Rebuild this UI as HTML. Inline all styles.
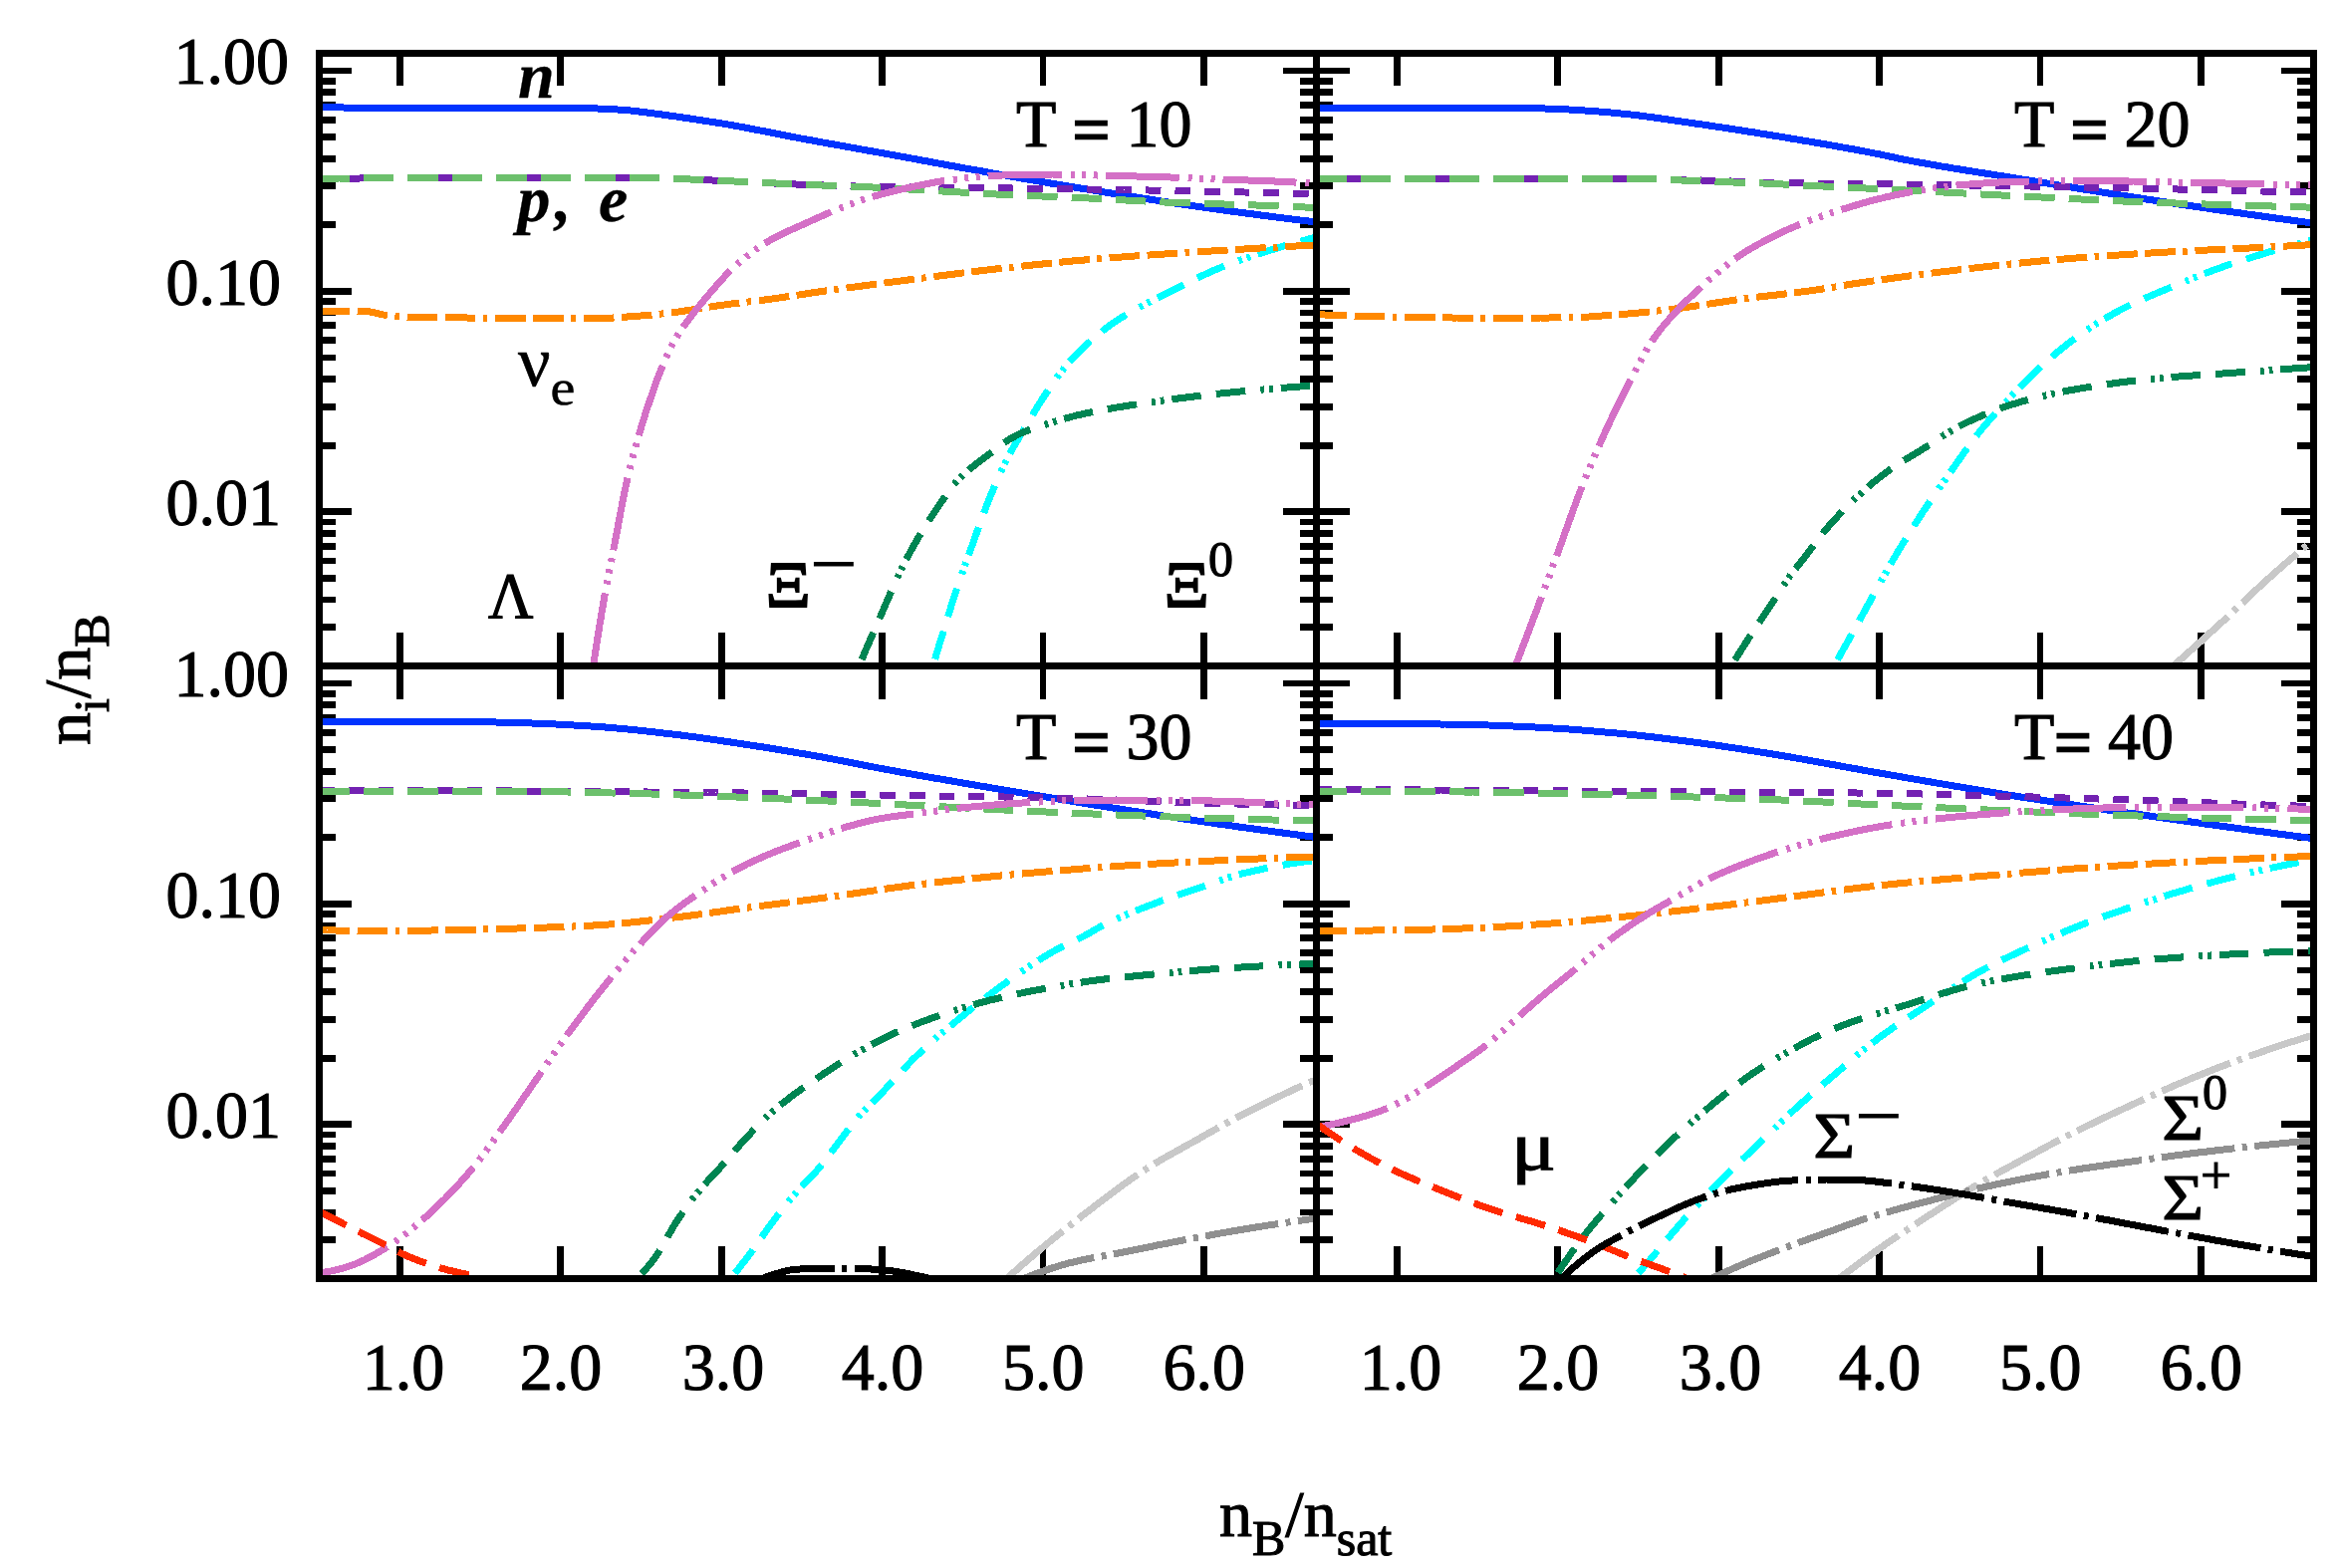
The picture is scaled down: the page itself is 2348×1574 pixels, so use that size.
<!DOCTYPE html>
<html lang="en"><head><meta charset="utf-8"><title>Particle fractions</title>
<style>html,body{margin:0;padding:0;background:#fff}svg{display:block}text{font-family:"Liberation Serif","DejaVu Serif",serif;fill:#000;stroke:#000;stroke-width:1.1px}.t{font-size:66px}.s{font-size:50px}.bi{font-style:italic;font-weight:bold;stroke-width:0.3px}</style></head><body>
<svg width="2348" height="1574" viewBox="0 0 2348 1574">
<rect width="2348" height="1574" fill="#fff"/>
<defs>
<clipPath id="c0"><rect x="320.5" y="53.5" width="1001.0" height="615.0"/></clipPath>
<clipPath id="c1"><rect x="1321.5" y="53.5" width="1001.0" height="615.0"/></clipPath>
<clipPath id="c2"><rect x="320.5" y="668.5" width="1001.0" height="615.0"/></clipPath>
<clipPath id="c3"><rect x="1321.5" y="668.5" width="1001.0" height="615.0"/></clipPath>
</defs>
<g fill="#000" shape-rendering="crispEdges">
<rect x="397.8" y="53.5" width="6.8" height="32.4"/>
<rect x="397.8" y="635.0" width="6.8" height="67.0"/>
<rect x="397.8" y="1251.1" width="6.8" height="32.4"/>
<rect x="559.3" y="53.5" width="6.8" height="32.4"/>
<rect x="559.3" y="635.0" width="6.8" height="67.0"/>
<rect x="559.3" y="1251.1" width="6.8" height="32.4"/>
<rect x="720.7" y="53.5" width="6.8" height="32.4"/>
<rect x="720.7" y="635.0" width="6.8" height="67.0"/>
<rect x="720.7" y="1251.1" width="6.8" height="32.4"/>
<rect x="882.2" y="53.5" width="6.8" height="32.4"/>
<rect x="882.2" y="635.0" width="6.8" height="67.0"/>
<rect x="882.2" y="1251.1" width="6.8" height="32.4"/>
<rect x="1043.6" y="53.5" width="6.8" height="32.4"/>
<rect x="1043.6" y="635.0" width="6.8" height="67.0"/>
<rect x="1043.6" y="1251.1" width="6.8" height="32.4"/>
<rect x="1205.1" y="53.5" width="6.8" height="32.4"/>
<rect x="1205.1" y="635.0" width="6.8" height="67.0"/>
<rect x="1205.1" y="1251.1" width="6.8" height="32.4"/>
<rect x="1398.8" y="53.5" width="6.8" height="32.4"/>
<rect x="1398.8" y="635.0" width="6.8" height="67.0"/>
<rect x="1398.8" y="1251.1" width="6.8" height="32.4"/>
<rect x="1560.3" y="53.5" width="6.8" height="32.4"/>
<rect x="1560.3" y="635.0" width="6.8" height="67.0"/>
<rect x="1560.3" y="1251.1" width="6.8" height="32.4"/>
<rect x="1721.7" y="53.5" width="6.8" height="32.4"/>
<rect x="1721.7" y="635.0" width="6.8" height="67.0"/>
<rect x="1721.7" y="1251.1" width="6.8" height="32.4"/>
<rect x="1883.2" y="53.5" width="6.8" height="32.4"/>
<rect x="1883.2" y="635.0" width="6.8" height="67.0"/>
<rect x="1883.2" y="1251.1" width="6.8" height="32.4"/>
<rect x="2044.6" y="53.5" width="6.8" height="32.4"/>
<rect x="2044.6" y="635.0" width="6.8" height="67.0"/>
<rect x="2044.6" y="1251.1" width="6.8" height="32.4"/>
<rect x="2206.1" y="53.5" width="6.8" height="32.4"/>
<rect x="2206.1" y="635.0" width="6.8" height="67.0"/>
<rect x="2206.1" y="1251.1" width="6.8" height="32.4"/>
<rect x="320.5" y="67.6" width="32.5" height="6.8"/>
<rect x="1287.8" y="67.6" width="67.5" height="6.8"/>
<rect x="2290.0" y="67.6" width="32.5" height="6.8"/>
<rect x="320.5" y="289.0" width="32.5" height="6.8"/>
<rect x="1287.8" y="289.0" width="67.5" height="6.8"/>
<rect x="2290.0" y="289.0" width="32.5" height="6.8"/>
<rect x="320.5" y="222.4" width="16.5" height="6.8"/>
<rect x="1305.1" y="222.4" width="32.8" height="6.8"/>
<rect x="2306.0" y="222.4" width="16.5" height="6.8"/>
<rect x="320.5" y="183.4" width="16.5" height="6.8"/>
<rect x="1305.1" y="183.4" width="32.8" height="6.8"/>
<rect x="2306.0" y="183.4" width="16.5" height="6.8"/>
<rect x="320.5" y="155.7" width="16.5" height="6.8"/>
<rect x="1305.1" y="155.7" width="32.8" height="6.8"/>
<rect x="2306.0" y="155.7" width="16.5" height="6.8"/>
<rect x="320.5" y="134.3" width="16.5" height="6.8"/>
<rect x="1305.1" y="134.3" width="32.8" height="6.8"/>
<rect x="2306.0" y="134.3" width="16.5" height="6.8"/>
<rect x="320.5" y="116.7" width="16.5" height="6.8"/>
<rect x="1305.1" y="116.7" width="32.8" height="6.8"/>
<rect x="2306.0" y="116.7" width="16.5" height="6.8"/>
<rect x="320.5" y="101.9" width="16.5" height="6.8"/>
<rect x="1305.1" y="101.9" width="32.8" height="6.8"/>
<rect x="2306.0" y="101.9" width="16.5" height="6.8"/>
<rect x="320.5" y="89.1" width="16.5" height="6.8"/>
<rect x="1305.1" y="89.1" width="32.8" height="6.8"/>
<rect x="2306.0" y="89.1" width="16.5" height="6.8"/>
<rect x="320.5" y="77.8" width="16.5" height="6.8"/>
<rect x="1305.1" y="77.8" width="32.8" height="6.8"/>
<rect x="2306.0" y="77.8" width="16.5" height="6.8"/>
<rect x="320.5" y="510.4" width="32.5" height="6.8"/>
<rect x="1287.8" y="510.4" width="67.5" height="6.8"/>
<rect x="2290.0" y="510.4" width="32.5" height="6.8"/>
<rect x="320.5" y="443.7" width="16.5" height="6.8"/>
<rect x="1305.1" y="443.7" width="32.8" height="6.8"/>
<rect x="2306.0" y="443.7" width="16.5" height="6.8"/>
<rect x="320.5" y="404.7" width="16.5" height="6.8"/>
<rect x="1305.1" y="404.7" width="32.8" height="6.8"/>
<rect x="2306.0" y="404.7" width="16.5" height="6.8"/>
<rect x="320.5" y="377.1" width="16.5" height="6.8"/>
<rect x="1305.1" y="377.1" width="32.8" height="6.8"/>
<rect x="2306.0" y="377.1" width="16.5" height="6.8"/>
<rect x="320.5" y="355.6" width="16.5" height="6.8"/>
<rect x="1305.1" y="355.6" width="32.8" height="6.8"/>
<rect x="2306.0" y="355.6" width="16.5" height="6.8"/>
<rect x="320.5" y="338.1" width="16.5" height="6.8"/>
<rect x="1305.1" y="338.1" width="32.8" height="6.8"/>
<rect x="2306.0" y="338.1" width="16.5" height="6.8"/>
<rect x="320.5" y="323.3" width="16.5" height="6.8"/>
<rect x="1305.1" y="323.3" width="32.8" height="6.8"/>
<rect x="2306.0" y="323.3" width="16.5" height="6.8"/>
<rect x="320.5" y="310.5" width="16.5" height="6.8"/>
<rect x="1305.1" y="310.5" width="32.8" height="6.8"/>
<rect x="2306.0" y="310.5" width="16.5" height="6.8"/>
<rect x="320.5" y="299.1" width="16.5" height="6.8"/>
<rect x="1305.1" y="299.1" width="32.8" height="6.8"/>
<rect x="2306.0" y="299.1" width="16.5" height="6.8"/>
<rect x="320.5" y="626.1" width="16.5" height="6.8"/>
<rect x="1305.1" y="626.1" width="32.8" height="6.8"/>
<rect x="2306.0" y="626.1" width="16.5" height="6.8"/>
<rect x="320.5" y="598.5" width="16.5" height="6.8"/>
<rect x="1305.1" y="598.5" width="32.8" height="6.8"/>
<rect x="2306.0" y="598.5" width="16.5" height="6.8"/>
<rect x="320.5" y="577.0" width="16.5" height="6.8"/>
<rect x="1305.1" y="577.0" width="32.8" height="6.8"/>
<rect x="2306.0" y="577.0" width="16.5" height="6.8"/>
<rect x="320.5" y="559.5" width="16.5" height="6.8"/>
<rect x="1305.1" y="559.5" width="32.8" height="6.8"/>
<rect x="2306.0" y="559.5" width="16.5" height="6.8"/>
<rect x="320.5" y="544.7" width="16.5" height="6.8"/>
<rect x="1305.1" y="544.7" width="32.8" height="6.8"/>
<rect x="2306.0" y="544.7" width="16.5" height="6.8"/>
<rect x="320.5" y="531.8" width="16.5" height="6.8"/>
<rect x="1305.1" y="531.8" width="32.8" height="6.8"/>
<rect x="2306.0" y="531.8" width="16.5" height="6.8"/>
<rect x="320.5" y="520.5" width="16.5" height="6.8"/>
<rect x="1305.1" y="520.5" width="32.8" height="6.8"/>
<rect x="2306.0" y="520.5" width="16.5" height="6.8"/>
<rect x="320.5" y="682.6" width="32.5" height="6.8"/>
<rect x="1287.8" y="682.6" width="67.5" height="6.8"/>
<rect x="2290.0" y="682.6" width="32.5" height="6.8"/>
<rect x="320.5" y="904.0" width="32.5" height="6.8"/>
<rect x="1287.8" y="904.0" width="67.5" height="6.8"/>
<rect x="2290.0" y="904.0" width="32.5" height="6.8"/>
<rect x="320.5" y="837.4" width="16.5" height="6.8"/>
<rect x="1305.1" y="837.4" width="32.8" height="6.8"/>
<rect x="2306.0" y="837.4" width="16.5" height="6.8"/>
<rect x="320.5" y="798.4" width="16.5" height="6.8"/>
<rect x="1305.1" y="798.4" width="32.8" height="6.8"/>
<rect x="2306.0" y="798.4" width="16.5" height="6.8"/>
<rect x="320.5" y="770.7" width="16.5" height="6.8"/>
<rect x="1305.1" y="770.7" width="32.8" height="6.8"/>
<rect x="2306.0" y="770.7" width="16.5" height="6.8"/>
<rect x="320.5" y="749.3" width="16.5" height="6.8"/>
<rect x="1305.1" y="749.3" width="32.8" height="6.8"/>
<rect x="2306.0" y="749.3" width="16.5" height="6.8"/>
<rect x="320.5" y="731.7" width="16.5" height="6.8"/>
<rect x="1305.1" y="731.7" width="32.8" height="6.8"/>
<rect x="2306.0" y="731.7" width="16.5" height="6.8"/>
<rect x="320.5" y="716.9" width="16.5" height="6.8"/>
<rect x="1305.1" y="716.9" width="32.8" height="6.8"/>
<rect x="2306.0" y="716.9" width="16.5" height="6.8"/>
<rect x="320.5" y="704.1" width="16.5" height="6.8"/>
<rect x="1305.1" y="704.1" width="32.8" height="6.8"/>
<rect x="2306.0" y="704.1" width="16.5" height="6.8"/>
<rect x="320.5" y="692.8" width="16.5" height="6.8"/>
<rect x="1305.1" y="692.8" width="32.8" height="6.8"/>
<rect x="2306.0" y="692.8" width="16.5" height="6.8"/>
<rect x="320.5" y="1125.4" width="32.5" height="6.8"/>
<rect x="1287.8" y="1125.4" width="67.5" height="6.8"/>
<rect x="2290.0" y="1125.4" width="32.5" height="6.8"/>
<rect x="320.5" y="1058.7" width="16.5" height="6.8"/>
<rect x="1305.1" y="1058.7" width="32.8" height="6.8"/>
<rect x="2306.0" y="1058.7" width="16.5" height="6.8"/>
<rect x="320.5" y="1019.7" width="16.5" height="6.8"/>
<rect x="1305.1" y="1019.7" width="32.8" height="6.8"/>
<rect x="2306.0" y="1019.7" width="16.5" height="6.8"/>
<rect x="320.5" y="992.1" width="16.5" height="6.8"/>
<rect x="1305.1" y="992.1" width="32.8" height="6.8"/>
<rect x="2306.0" y="992.1" width="16.5" height="6.8"/>
<rect x="320.5" y="970.6" width="16.5" height="6.8"/>
<rect x="1305.1" y="970.6" width="32.8" height="6.8"/>
<rect x="2306.0" y="970.6" width="16.5" height="6.8"/>
<rect x="320.5" y="953.1" width="16.5" height="6.8"/>
<rect x="1305.1" y="953.1" width="32.8" height="6.8"/>
<rect x="2306.0" y="953.1" width="16.5" height="6.8"/>
<rect x="320.5" y="938.3" width="16.5" height="6.8"/>
<rect x="1305.1" y="938.3" width="32.8" height="6.8"/>
<rect x="2306.0" y="938.3" width="16.5" height="6.8"/>
<rect x="320.5" y="925.5" width="16.5" height="6.8"/>
<rect x="1305.1" y="925.5" width="32.8" height="6.8"/>
<rect x="2306.0" y="925.5" width="16.5" height="6.8"/>
<rect x="320.5" y="914.1" width="16.5" height="6.8"/>
<rect x="1305.1" y="914.1" width="32.8" height="6.8"/>
<rect x="2306.0" y="914.1" width="16.5" height="6.8"/>
<rect x="320.5" y="1241.1" width="16.5" height="6.8"/>
<rect x="1305.1" y="1241.1" width="32.8" height="6.8"/>
<rect x="2306.0" y="1241.1" width="16.5" height="6.8"/>
<rect x="320.5" y="1213.5" width="16.5" height="6.8"/>
<rect x="1305.1" y="1213.5" width="32.8" height="6.8"/>
<rect x="2306.0" y="1213.5" width="16.5" height="6.8"/>
<rect x="320.5" y="1192.0" width="16.5" height="6.8"/>
<rect x="1305.1" y="1192.0" width="32.8" height="6.8"/>
<rect x="2306.0" y="1192.0" width="16.5" height="6.8"/>
<rect x="320.5" y="1174.5" width="16.5" height="6.8"/>
<rect x="1305.1" y="1174.5" width="32.8" height="6.8"/>
<rect x="2306.0" y="1174.5" width="16.5" height="6.8"/>
<rect x="320.5" y="1159.7" width="16.5" height="6.8"/>
<rect x="1305.1" y="1159.7" width="32.8" height="6.8"/>
<rect x="2306.0" y="1159.7" width="16.5" height="6.8"/>
<rect x="320.5" y="1146.8" width="16.5" height="6.8"/>
<rect x="1305.1" y="1146.8" width="32.8" height="6.8"/>
<rect x="2306.0" y="1146.8" width="16.5" height="6.8"/>
<rect x="320.5" y="1135.5" width="16.5" height="6.8"/>
<rect x="1305.1" y="1135.5" width="32.8" height="6.8"/>
<rect x="2306.0" y="1135.5" width="16.5" height="6.8"/>
</g>
<g clip-path="url(#c0)" fill="none" stroke-width="7" shape-rendering="crispEdges">
<path d="M320.5,107.0 L324.5,107.2 L328.5,107.4 L332.6,107.6 L336.6,107.7 L340.6,107.9 L344.6,108.0 L348.7,108.1 L352.7,108.1 L356.7,108.2 L360.7,108.2 L364.8,108.2 L368.8,108.2 L372.8,108.2 L376.8,108.2 L380.9,108.2 L384.9,108.2 L388.9,108.2 L392.9,108.2 L397.0,108.2 L401.0,108.2 L405.0,108.2 L409.0,108.2 L413.1,108.2 L417.1,108.2 L421.1,108.2 L425.1,108.2 L429.2,108.2 L433.2,108.2 L437.2,108.2 L441.2,108.2 L445.3,108.2 L449.3,108.2 L453.3,108.2 L457.3,108.2 L461.4,108.2 L465.4,108.2 L469.4,108.2 L473.4,108.2 L477.5,108.2 L481.5,108.2 L485.5,108.2 L489.5,108.2 L493.6,108.2 L497.6,108.2 L501.6,108.2 L505.6,108.2 L509.7,108.2 L513.7,108.2 L517.7,108.2 L521.7,108.2 L525.8,108.2 L529.8,108.2 L533.8,108.2 L537.8,108.2 L541.9,108.2 L545.9,108.2 L549.9,108.2 L553.9,108.2 L558.0,108.2 L562.0,108.2 L566.0,108.2 L570.0,108.3 L574.1,108.3 L578.1,108.4 L582.1,108.4 L586.1,108.5 L590.2,108.7 L594.2,108.8 L598.2,108.9 L602.2,109.1 L606.2,109.3 L610.3,109.5 L614.3,109.7 L618.3,109.9 L622.3,110.2 L626.3,110.4 L630.3,110.8 L634.4,111.1 L638.4,111.6 L642.3,112.1 L646.3,112.6 L650.3,113.1 L654.3,113.7 L658.3,114.2 L662.3,114.7 L666.3,115.3 L670.3,115.8 L674.3,116.4 L678.2,116.9 L682.2,117.5 L686.2,118.1 L690.2,118.7 L694.2,119.3 L698.2,119.9 L702.1,120.5 L706.1,121.1 L710.1,121.7 L714.1,122.3 L718.1,122.9 L722.0,123.5 L726.0,124.2 L730.0,124.8 L733.9,125.5 L737.9,126.3 L741.9,127.0 L745.8,127.7 L749.8,128.5 L753.7,129.2 L757.7,130.0 L761.6,130.7 L765.6,131.5 L769.5,132.2 L773.5,133.0 L777.4,133.8 L781.4,134.6 L785.3,135.4 L789.3,136.1 L793.2,136.9 L797.2,137.7 L801.1,138.4 L805.1,139.2 L809.1,139.9 L813.0,140.6 L817.0,141.3 L820.9,142.1 L824.9,142.8 L828.9,143.5 L832.8,144.2 L836.8,144.9 L840.7,145.6 L844.7,146.3 L848.7,147.0 L852.6,147.7 L856.6,148.5 L860.6,149.2 L864.5,149.9 L868.5,150.6 L872.4,151.3 L876.4,152.0 L880.4,152.7 L884.3,153.4 L888.3,154.1 L892.2,154.9 L896.2,155.6 L900.2,156.3 L904.1,157.0 L908.1,157.8 L912.0,158.5 L916.0,159.2 L920.0,159.9 L923.9,160.7 L927.9,161.4 L931.8,162.1 L935.8,162.9 L939.8,163.6 L943.7,164.3 L947.7,165.1 L951.6,165.8 L955.6,166.5 L959.5,167.2 L963.5,168.0 L967.5,168.7 L971.4,169.4 L975.4,170.1 L979.3,170.8 L983.3,171.5 L987.3,172.2 L991.2,173.0 L995.2,173.7 L999.2,174.4 L1003.1,175.0 L1007.1,175.7 L1011.1,176.4 L1015.0,177.1 L1019.0,177.8 L1022.9,178.5 L1026.9,179.2 L1030.9,179.9 L1034.8,180.6 L1038.8,181.3 L1042.8,181.9 L1046.7,182.6 L1050.7,183.3 L1054.7,184.0 L1058.7,184.6 L1062.6,185.3 L1066.6,186.0 L1070.6,186.6 L1074.5,187.3 L1078.5,188.0 L1082.5,188.6 L1086.4,189.3 L1090.4,189.9 L1094.4,190.6 L1098.4,191.2 L1102.3,191.9 L1106.3,192.5 L1110.3,193.2 L1114.3,193.8 L1118.2,194.4 L1122.2,195.1 L1126.2,195.7 L1130.2,196.4 L1134.1,197.0 L1138.1,197.6 L1142.1,198.2 L1146.1,198.9 L1150.0,199.5 L1154.0,200.1 L1158.0,200.7 L1162.0,201.3 L1165.9,202.0 L1169.9,202.6 L1173.9,203.2 L1177.9,203.8 L1181.9,204.4 L1185.8,204.9 L1189.8,205.5 L1193.8,206.1 L1197.8,206.7 L1201.8,207.3 L1205.8,207.8 L1209.7,208.4 L1213.7,208.9 L1217.7,209.5 L1221.7,210.1 L1225.7,210.6 L1229.7,211.2 L1233.7,211.7 L1237.7,212.3 L1241.6,212.8 L1245.6,213.3 L1249.6,213.9 L1253.6,214.4 L1257.6,214.9 L1261.6,215.5 L1265.6,216.0 L1269.6,216.5 L1273.6,217.0 L1277.6,217.6 L1281.5,218.1 L1285.5,218.6 L1289.5,219.1 L1293.5,219.6 L1297.5,220.1 L1301.5,220.6 L1305.5,221.1 L1309.5,221.6 L1313.5,222.0 L1317.5,222.5 L1321.5,223.0" stroke="#0033ff"/>
<path d="M320.5,180.0 L324.5,179.8 L328.5,179.5 L332.5,179.2 L336.6,179.1 L340.6,179.0 L344.6,179.0 L348.6,179.0 L352.6,179.0 L356.7,179.0 L360.7,179.0 L364.7,178.9 L368.7,178.9 L372.7,178.9 L376.7,178.9 L380.8,178.9 L384.8,178.9 L388.8,178.9 L392.8,178.9 L396.8,178.9 L400.9,178.9 L404.9,178.9 L408.9,178.9 L412.9,178.9 L417.0,178.9 L421.0,178.9 L425.0,178.9 L429.0,178.8 L433.0,178.8 L437.1,178.8 L441.1,178.8 L445.1,178.8 L449.1,178.8 L453.1,178.8 L457.2,178.8 L461.2,178.8 L465.2,178.8 L469.2,178.8 L473.3,178.8 L477.3,178.8 L481.3,178.8 L485.3,178.8 L489.3,178.8 L493.4,178.8 L497.4,178.8 L501.4,178.8 L505.4,178.8 L509.5,178.8 L513.5,178.8 L517.5,178.8 L521.5,178.8 L525.5,178.8 L529.6,178.8 L533.6,178.8 L537.6,178.8 L541.6,178.8 L545.7,178.8 L549.7,178.8 L553.7,178.8 L557.7,178.8 L561.7,178.8 L565.8,178.8 L569.8,178.8 L573.8,178.8 L577.8,178.8 L581.9,178.8 L585.9,178.8 L589.9,178.8 L593.9,178.8 L597.9,178.8 L602.0,178.8 L606.0,178.8 L610.0,178.8 L614.0,178.8 L618.0,178.8 L622.1,178.8 L626.1,178.8 L630.1,178.8 L634.1,178.8 L638.1,178.8 L642.2,178.8 L646.2,178.8 L650.2,178.8 L654.2,178.8 L658.2,178.8 L662.3,178.9 L666.3,179.0 L670.3,179.1 L674.3,179.2 L678.3,179.4 L682.4,179.5 L686.4,179.7 L690.4,179.9 L694.4,180.1 L698.4,180.3 L702.4,180.5 L706.5,180.6 L710.5,180.8 L714.5,181.0 L718.5,181.2 L722.5,181.4 L726.6,181.6 L730.6,181.7 L734.6,181.9 L738.6,182.1 L742.6,182.3 L746.6,182.5 L750.7,182.7 L754.7,182.9 L758.7,183.1 L762.7,183.3 L766.7,183.5 L770.7,183.7 L774.8,183.9 L778.8,184.1 L782.8,184.3 L786.8,184.5 L790.8,184.6 L794.8,184.8 L798.9,185.0 L802.9,185.1 L806.9,185.3 L810.9,185.4 L814.9,185.6 L818.9,185.7 L823.0,185.8 L827.0,186.0 L831.0,186.1 L835.0,186.3 L839.0,186.4 L843.1,186.5 L847.1,186.6 L851.1,186.7 L855.1,186.9 L859.1,187.0 L863.2,187.1 L867.2,187.1 L871.2,187.2 L875.2,187.3 L879.2,187.4 L883.3,187.4 L887.3,187.5 L891.3,187.6 L895.3,187.6 L899.3,187.7 L903.4,187.7 L907.4,187.8 L911.4,187.8 L915.4,187.9 L919.4,187.9 L923.5,188.0 L927.5,188.0 L931.5,188.0 L935.5,188.1 L939.6,188.1 L943.6,188.2 L947.6,188.2 L951.6,188.2 L955.6,188.3 L959.7,188.3 L963.7,188.4 L967.7,188.4 L971.7,188.4 L975.7,188.5 L979.8,188.5 L983.8,188.6 L987.8,188.6 L991.8,188.7 L995.8,188.7 L999.9,188.7 L1003.9,188.8 L1007.9,188.9 L1011.9,188.9 L1016.0,189.0 L1020.0,189.0 L1024.0,189.1 L1028.0,189.1 L1032.0,189.2 L1036.1,189.2 L1040.1,189.3 L1044.1,189.3 L1048.1,189.4 L1052.1,189.4 L1056.2,189.5 L1060.2,189.5 L1064.2,189.6 L1068.2,189.6 L1072.2,189.7 L1076.3,189.8 L1080.3,189.8 L1084.3,189.9 L1088.3,189.9 L1092.3,190.0 L1096.4,190.0 L1100.4,190.1 L1104.4,190.2 L1108.4,190.2 L1112.5,190.3 L1116.5,190.4 L1120.5,190.4 L1124.5,190.5 L1128.5,190.6 L1132.6,190.6 L1136.6,190.7 L1140.6,190.8 L1144.6,190.8 L1148.6,190.9 L1152.7,191.0 L1156.7,191.1 L1160.7,191.1 L1164.7,191.2 L1168.7,191.3 L1172.8,191.4 L1176.8,191.5 L1180.8,191.6 L1184.8,191.6 L1188.8,191.7 L1192.9,191.8 L1196.9,191.9 L1200.9,192.0 L1204.9,192.1 L1208.9,192.2 L1213.0,192.2 L1217.0,192.3 L1221.0,192.4 L1225.0,192.5 L1229.0,192.6 L1233.1,192.7 L1237.1,192.8 L1241.1,192.9 L1245.1,192.9 L1249.1,193.0 L1253.2,193.1 L1257.2,193.2 L1261.2,193.3 L1265.2,193.4 L1269.2,193.5 L1273.3,193.6 L1277.3,193.7 L1281.3,193.8 L1285.3,193.9 L1289.3,194.0 L1293.4,194.1 L1297.4,194.2 L1301.4,194.3 L1305.4,194.4 L1309.4,194.5 L1313.5,194.6 L1317.5,194.7 L1321.5,194.8" stroke="#7322b2" stroke-dasharray="15.6,14.03"/>
<path d="M320.5,180.0 L324.5,179.8 L328.5,179.5 L332.6,179.2 L336.6,179.1 L340.6,179.0 L344.6,179.0 L348.6,179.0 L352.6,179.0 L356.7,179.0 L360.7,179.0 L364.7,178.9 L368.7,178.9 L372.8,178.9 L376.8,178.9 L380.8,178.9 L384.8,178.9 L388.8,178.9 L392.9,178.9 L396.9,178.9 L400.9,178.9 L404.9,178.9 L408.9,178.9 L413.0,178.9 L417.0,178.9 L421.0,178.9 L425.0,178.9 L429.1,178.8 L433.1,178.8 L437.1,178.8 L441.1,178.8 L445.2,178.8 L449.2,178.8 L453.2,178.8 L457.2,178.8 L461.2,178.8 L465.3,178.8 L469.3,178.8 L473.3,178.8 L477.3,178.8 L481.4,178.8 L485.4,178.8 L489.4,178.8 L493.4,178.8 L497.5,178.8 L501.5,178.8 L505.5,178.8 L509.5,178.8 L513.6,178.8 L517.6,178.8 L521.6,178.8 L525.6,178.8 L529.7,178.8 L533.7,178.8 L537.7,178.8 L541.7,178.8 L545.8,178.8 L549.8,178.8 L553.8,178.8 L557.8,178.8 L561.9,178.8 L565.9,178.8 L569.9,178.8 L573.9,178.8 L577.9,178.8 L582.0,178.8 L586.0,178.8 L590.0,178.8 L594.0,178.8 L598.1,178.8 L602.1,178.8 L606.1,178.8 L610.1,178.8 L614.2,178.8 L618.2,178.8 L622.2,178.8 L626.2,178.8 L630.2,178.8 L634.3,178.8 L638.3,178.8 L642.3,178.8 L646.3,178.8 L650.4,178.8 L654.4,178.8 L658.4,178.8 L662.4,178.9 L666.4,179.0 L670.5,179.1 L674.5,179.2 L678.5,179.4 L682.5,179.5 L686.5,179.7 L690.6,179.9 L694.6,180.1 L698.6,180.3 L702.6,180.5 L706.6,180.7 L710.7,180.9 L714.7,181.0 L718.7,181.2 L722.7,181.4 L726.7,181.6 L730.8,181.7 L734.8,181.9 L738.8,182.1 L742.8,182.3 L746.8,182.5 L750.8,182.7 L754.9,182.9 L758.9,183.1 L762.9,183.3 L766.9,183.4 L770.9,183.6 L775.0,183.8 L779.0,184.0 L783.0,184.2 L787.0,184.4 L791.0,184.6 L795.0,184.8 L799.1,185.0 L803.1,185.1 L807.1,185.3 L811.1,185.5 L815.1,185.6 L819.2,185.8 L823.2,185.9 L827.2,186.1 L831.2,186.2 L835.2,186.4 L839.3,186.5 L843.3,186.7 L847.3,186.8 L851.3,187.0 L855.3,187.2 L859.4,187.3 L863.4,187.5 L867.4,187.7 L871.4,187.8 L875.4,188.0 L879.5,188.2 L883.5,188.4 L887.5,188.6 L891.5,188.9 L895.5,189.1 L899.5,189.3 L903.6,189.5 L907.6,189.8 L911.6,190.0 L915.6,190.2 L919.6,190.4 L923.6,190.7 L927.7,190.9 L931.7,191.1 L935.7,191.4 L939.7,191.6 L943.7,191.8 L947.7,192.1 L951.8,192.3 L955.8,192.6 L959.8,192.8 L963.8,193.0 L967.8,193.3 L971.8,193.5 L975.9,193.7 L979.9,193.9 L983.9,194.2 L987.9,194.4 L991.9,194.6 L995.9,194.8 L1000.0,195.0 L1004.0,195.2 L1008.0,195.4 L1012.0,195.6 L1016.0,195.7 L1020.0,195.9 L1024.1,196.1 L1028.1,196.3 L1032.1,196.4 L1036.1,196.6 L1040.1,196.8 L1044.2,196.9 L1048.2,197.1 L1052.2,197.3 L1056.2,197.4 L1060.2,197.6 L1064.3,197.8 L1068.3,197.9 L1072.3,198.1 L1076.3,198.3 L1080.3,198.4 L1084.4,198.6 L1088.4,198.8 L1092.4,199.0 L1096.4,199.2 L1100.4,199.4 L1104.4,199.6 L1108.5,199.8 L1112.5,200.1 L1116.5,200.3 L1120.5,200.5 L1124.5,200.7 L1128.5,200.9 L1132.6,201.2 L1136.6,201.4 L1140.6,201.6 L1144.6,201.8 L1148.6,202.0 L1152.7,202.2 L1156.7,202.4 L1160.7,202.6 L1164.7,202.8 L1168.7,203.0 L1172.7,203.2 L1176.8,203.3 L1180.8,203.5 L1184.8,203.6 L1188.8,203.8 L1192.8,203.9 L1196.9,204.0 L1200.9,204.2 L1204.9,204.3 L1208.9,204.4 L1212.9,204.5 L1217.0,204.7 L1221.0,204.8 L1225.0,204.9 L1229.0,205.0 L1233.1,205.1 L1237.1,205.3 L1241.1,205.4 L1245.1,205.5 L1249.1,205.6 L1253.2,205.8 L1257.2,205.9 L1261.2,206.0 L1265.2,206.2 L1269.2,206.3 L1273.3,206.5 L1277.3,206.7 L1281.3,206.8 L1285.3,207.0 L1289.3,207.2 L1293.4,207.4 L1297.4,207.5 L1301.4,207.7 L1305.4,207.8 L1309.4,208.0 L1313.5,208.1 L1317.5,208.2 L1321.5,208.3" stroke="#6cc06c" stroke-dasharray="30.4,14.05"/>
<path d="M936.4,668.5 L937.6,664.6 L938.8,660.8 L940.0,656.9 L941.1,653.1 L942.3,649.2 L943.5,645.3 L944.7,641.5 L945.9,637.6 L947.1,633.8 L948.3,629.9 L949.5,626.0 L950.7,622.2 L951.9,618.3 L953.0,614.4 L954.2,610.6 L955.4,606.7 L956.6,602.9 L957.9,599.0 L959.1,595.2 L960.4,591.3 L961.7,587.5 L963.0,583.7 L964.3,579.9 L965.6,576.1 L967.0,572.3 L968.3,568.4 L969.7,564.6 L971.1,560.8 L972.5,557.0 L973.8,553.2 L975.2,549.4 L976.6,545.6 L977.9,541.8 L979.3,538.0 L980.6,534.2 L982.0,530.4 L983.4,526.6 L984.8,522.8 L986.2,519.0 L987.6,515.2 L989.0,511.5 L990.4,507.7 L991.9,503.9 L993.4,500.2 L994.9,496.4 L996.5,492.7 L998.0,489.0 L999.6,485.2 L1001.2,481.5 L1002.8,477.8 L1004.5,474.1 L1006.2,470.5 L1007.9,466.8 L1009.7,463.2 L1011.5,459.6 L1013.4,456.0 L1015.3,452.5 L1017.3,449.0 L1019.3,445.5 L1021.4,442.0 L1023.4,438.5 L1025.5,435.0 L1027.6,431.6 L1029.7,428.1 L1031.7,424.6 L1033.8,421.1 L1035.8,417.7 L1037.9,414.2 L1040.0,410.7 L1042.1,407.3 L1044.3,403.9 L1046.4,400.4 L1048.6,397.1 L1050.9,393.7 L1053.1,390.3 L1055.4,387.0 L1057.7,383.7 L1060.1,380.3 L1062.4,377.1 L1064.9,373.9 L1067.4,370.7 L1069.9,367.6 L1072.5,364.6 L1075.2,361.6 L1078.0,358.6 L1080.8,355.7 L1083.7,352.8 L1086.6,350.0 L1089.5,347.2 L1092.5,344.4 L1095.5,341.7 L1098.5,339.1 L1101.6,336.5 L1104.7,333.9 L1107.9,331.3 L1111.1,328.8 L1114.3,326.4 L1117.6,324.1 L1121.0,321.9 L1124.3,319.7 L1127.8,317.6 L1131.2,315.5 L1134.7,313.5 L1138.2,311.5 L1141.8,309.6 L1145.3,307.6 L1148.9,305.8 L1152.5,303.9 L1156.1,302.0 L1159.7,300.2 L1163.4,298.4 L1167.0,296.5 L1170.6,294.7 L1174.2,292.9 L1177.8,291.1 L1181.4,289.2 L1185.0,287.4 L1188.6,285.6 L1192.3,283.8 L1195.9,282.0 L1199.5,280.2 L1203.2,278.4 L1206.8,276.7 L1210.5,275.0 L1214.2,273.4 L1217.9,271.7 L1221.6,270.2 L1225.3,268.6 L1229.0,267.1 L1232.8,265.7 L1236.6,264.3 L1240.4,262.9 L1244.2,261.5 L1248.0,260.1 L1251.8,258.8 L1255.6,257.5 L1259.5,256.2 L1263.3,255.0 L1267.2,253.7 L1271.0,252.5 L1274.9,251.3 L1278.7,250.1 L1282.6,248.9 L1286.5,247.7 L1290.3,246.6 L1294.2,245.4 L1298.1,244.3 L1302.0,243.2 L1305.9,242.1 L1309.8,241.1 L1313.7,240.0 L1317.6,239.0 L1321.5,238.0" stroke="#00ffff" stroke-dasharray="29.6,15.2,29.6,15.2,3.8,5,3.8,7.8" stroke-dashoffset="-7"/>
<path d="M320.5,312.0 L324.6,312.0 L328.6,312.0 L332.7,312.0 L336.7,312.1 L340.7,312.1 L344.8,312.1 L348.8,312.2 L352.8,312.2 L356.8,312.3 L360.8,312.4 L364.8,312.4 L368.7,312.6 L372.7,313.2 L376.6,314.1 L380.6,315.1 L384.5,315.9 L388.5,316.6 L392.5,317.2 L396.5,317.8 L400.5,318.0 L404.5,318.1 L408.5,318.2 L412.5,318.3 L416.5,318.4 L420.6,318.4 L424.6,318.5 L428.6,318.5 L432.6,318.6 L436.7,318.6 L440.7,318.7 L444.7,318.7 L448.7,318.7 L452.8,318.8 L456.8,318.8 L460.8,318.9 L464.8,318.9 L468.9,319.0 L472.9,319.1 L476.9,319.1 L480.9,319.2 L484.9,319.2 L489.0,319.3 L493.0,319.3 L497.0,319.3 L501.0,319.4 L505.1,319.4 L509.1,319.4 L513.1,319.5 L517.1,319.5 L521.1,319.5 L525.2,319.5 L529.2,319.5 L533.2,319.5 L537.2,319.5 L541.3,319.5 L545.3,319.5 L549.3,319.5 L553.3,319.5 L557.3,319.5 L561.4,319.5 L565.4,319.5 L569.4,319.5 L573.4,319.5 L577.5,319.5 L581.5,319.5 L585.5,319.5 L589.5,319.5 L593.5,319.5 L597.6,319.5 L601.6,319.5 L605.6,319.4 L609.6,319.3 L613.6,319.1 L617.7,318.9 L621.7,318.6 L625.7,318.3 L629.7,318.0 L633.7,317.7 L637.7,317.4 L641.7,317.1 L645.8,316.8 L649.8,316.5 L653.8,316.1 L657.8,315.7 L661.8,315.3 L665.8,314.8 L669.8,314.4 L673.8,313.9 L677.8,313.4 L681.7,312.9 L685.7,312.3 L689.7,311.7 L693.7,311.1 L697.7,310.5 L701.6,309.9 L705.6,309.2 L709.6,308.6 L713.5,307.9 L717.5,307.3 L721.5,306.7 L725.5,306.2 L729.5,305.7 L733.5,305.1 L737.5,304.6 L741.4,304.2 L745.4,303.7 L749.4,303.2 L753.4,302.7 L757.4,302.2 L761.4,301.7 L765.4,301.3 L769.4,300.7 L773.4,300.2 L777.4,299.7 L781.4,299.1 L785.3,298.5 L789.3,297.9 L793.3,297.3 L797.3,296.7 L801.2,296.1 L805.2,295.5 L809.2,294.9 L813.2,294.2 L817.1,293.6 L821.1,293.1 L825.1,292.5 L829.1,291.9 L833.1,291.4 L837.1,290.8 L841.0,290.3 L845.0,289.7 L849.0,289.2 L853.0,288.6 L857.0,288.1 L861.0,287.6 L865.0,287.1 L868.9,286.5 L872.9,286.0 L876.9,285.5 L880.9,285.0 L884.9,284.5 L888.9,283.9 L892.9,283.4 L896.9,282.9 L900.9,282.4 L904.8,281.9 L908.8,281.4 L912.8,280.8 L916.8,280.3 L920.8,279.8 L924.8,279.3 L928.8,278.8 L932.8,278.2 L936.8,277.7 L940.8,277.2 L944.7,276.7 L948.7,276.2 L952.7,275.7 L956.7,275.2 L960.7,274.7 L964.7,274.2 L968.7,273.7 L972.7,273.2 L976.7,272.7 L980.7,272.2 L984.7,271.8 L988.7,271.3 L992.7,270.8 L996.6,270.4 L1000.6,269.9 L1004.6,269.5 L1008.6,269.0 L1012.6,268.6 L1016.6,268.2 L1020.6,267.7 L1024.6,267.3 L1028.6,266.9 L1032.6,266.4 L1036.6,266.0 L1040.6,265.6 L1044.6,265.2 L1048.6,264.8 L1052.6,264.4 L1056.6,264.0 L1060.7,263.6 L1064.7,263.2 L1068.7,262.8 L1072.7,262.4 L1076.7,262.0 L1080.7,261.7 L1084.7,261.3 L1088.7,261.0 L1092.7,260.6 L1096.7,260.3 L1100.7,259.9 L1104.7,259.6 L1108.7,259.3 L1112.7,259.0 L1116.7,258.7 L1120.8,258.4 L1124.8,258.1 L1128.8,257.8 L1132.8,257.5 L1136.8,257.2 L1140.8,256.9 L1144.8,256.6 L1148.8,256.3 L1152.9,256.1 L1156.9,255.8 L1160.9,255.5 L1164.9,255.3 L1168.9,255.0 L1172.9,254.7 L1176.9,254.5 L1181.0,254.2 L1185.0,254.0 L1189.0,253.7 L1193.0,253.4 L1197.0,253.2 L1201.0,252.9 L1205.0,252.7 L1209.1,252.4 L1213.1,252.2 L1217.1,251.9 L1221.1,251.7 L1225.1,251.4 L1229.1,251.2 L1233.1,250.9 L1237.2,250.7 L1241.2,250.5 L1245.2,250.2 L1249.2,250.0 L1253.2,249.7 L1257.2,249.5 L1261.3,249.3 L1265.3,249.0 L1269.3,248.8 L1273.3,248.6 L1277.3,248.4 L1281.3,248.1 L1285.3,247.9 L1289.4,247.7 L1293.4,247.5 L1297.4,247.3 L1301.4,247.0 L1305.4,246.8 L1309.4,246.6 L1313.5,246.4 L1317.5,246.2 L1321.5,246.0" stroke="#ff8800" stroke-dasharray="30.7,7.4,30.7,7.4,4.5,7.9"/>
<path d="M595.7,668.5 L596.3,664.5 L596.8,660.5 L597.4,656.6 L598.0,652.6 L598.6,648.6 L599.2,644.6 L599.8,640.6 L600.5,636.7 L601.1,632.7 L601.7,628.7 L602.4,624.8 L603.1,620.8 L603.7,616.8 L604.4,612.9 L605.1,608.9 L605.8,604.9 L606.4,601.0 L607.1,597.0 L607.8,593.0 L608.6,589.1 L609.3,585.1 L610.1,581.2 L610.8,577.2 L611.6,573.3 L612.4,569.3 L613.2,565.4 L614.0,561.5 L614.8,557.5 L615.5,553.6 L616.3,549.6 L617.1,545.7 L617.8,541.7 L618.6,537.8 L619.3,533.8 L620.1,529.9 L620.8,525.9 L621.5,521.9 L622.3,518.0 L623.0,514.0 L623.8,510.1 L624.5,506.1 L625.3,502.2 L626.1,498.2 L626.9,494.3 L627.7,490.4 L628.6,486.4 L629.4,482.5 L630.3,478.6 L631.2,474.7 L632.2,470.8 L633.2,466.9 L634.2,463.0 L635.2,459.1 L636.2,455.2 L637.3,451.3 L638.4,447.4 L639.5,443.6 L640.6,439.7 L641.7,435.8 L642.8,432.0 L643.9,428.1 L645.1,424.3 L646.3,420.4 L647.5,416.6 L648.7,412.7 L650.0,408.9 L651.3,405.1 L652.6,401.3 L653.9,397.5 L655.2,393.7 L656.5,389.9 L657.9,386.1 L659.2,382.3 L660.6,378.5 L662.1,374.8 L663.6,371.0 L665.1,367.3 L666.6,363.6 L668.2,359.9 L669.9,356.2 L671.6,352.6 L673.3,348.9 L675.2,345.4 L677.1,341.9 L679.1,338.4 L681.2,335.0 L683.5,331.7 L685.8,328.3 L688.1,325.1 L690.5,321.8 L692.9,318.6 L695.3,315.4 L697.8,312.2 L700.3,309.1 L702.9,305.9 L705.4,302.8 L708.0,299.8 L710.6,296.7 L713.2,293.6 L715.9,290.6 L718.5,287.5 L721.2,284.5 L723.8,281.4 L726.6,278.5 L729.3,275.5 L732.2,272.7 L735.0,270.0 L738.0,267.3 L741.0,264.6 L744.1,262.0 L747.2,259.4 L750.3,256.8 L753.5,254.3 L756.8,251.9 L760.0,249.5 L763.4,247.2 L766.7,245.0 L770.1,243.0 L773.5,240.9 L777.0,239.0 L780.5,237.2 L784.1,235.4 L787.8,233.6 L791.4,231.9 L795.1,230.3 L798.8,228.6 L802.5,227.0 L806.2,225.3 L809.9,223.7 L813.6,222.0 L817.2,220.3 L820.9,218.6 L824.6,217.0 L828.2,215.4 L831.9,213.8 L835.6,212.2 L839.4,210.7 L843.1,209.2 L846.9,207.8 L850.6,206.3 L854.4,204.9 L858.2,203.4 L861.9,202.1 L865.7,200.7 L869.6,199.5 L873.4,198.2 L877.2,197.1 L881.1,196.0 L884.9,194.9 L888.8,193.9 L892.7,192.9 L896.6,192.0 L900.6,191.0 L904.5,190.1 L908.4,189.3 L912.4,188.4 L916.3,187.6 L920.2,186.7 L924.2,185.9 L928.1,185.1 L932.1,184.3 L936.0,183.5 L940.0,182.8 L943.9,182.1 L947.9,181.5 L951.9,181.0 L955.9,180.5 L959.9,180.0 L963.8,179.5 L967.8,179.0 L971.9,178.5 L975.9,178.1 L979.9,177.7 L983.9,177.3 L987.9,177.0 L991.9,176.7 L995.9,176.4 L999.9,176.3 L1003.9,176.1 L1008.0,175.9 L1012.0,175.8 L1016.0,175.7 L1020.0,175.5 L1024.0,175.4 L1028.1,175.3 L1032.1,175.2 L1036.1,175.1 L1040.1,175.1 L1044.2,175.0 L1048.2,175.0 L1052.2,175.0 L1056.2,175.0 L1060.2,175.1 L1064.3,175.1 L1068.3,175.2 L1072.3,175.2 L1076.3,175.3 L1080.4,175.4 L1084.4,175.5 L1088.4,175.6 L1092.4,175.7 L1096.4,175.8 L1100.5,176.0 L1104.5,176.1 L1108.5,176.2 L1112.5,176.3 L1116.5,176.4 L1120.6,176.5 L1124.6,176.6 L1128.6,176.7 L1132.6,176.8 L1136.6,176.9 L1140.7,177.0 L1144.7,177.1 L1148.7,177.2 L1152.7,177.3 L1156.8,177.4 L1160.8,177.6 L1164.8,177.7 L1168.8,177.8 L1172.8,177.9 L1176.9,178.1 L1180.9,178.2 L1184.9,178.3 L1188.9,178.5 L1192.9,178.6 L1197.0,178.8 L1201.0,178.9 L1205.0,179.1 L1209.0,179.2 L1213.0,179.4 L1217.0,179.6 L1221.1,179.7 L1225.1,179.9 L1229.1,180.1 L1233.1,180.2 L1237.1,180.4 L1241.2,180.5 L1245.2,180.7 L1249.2,180.9 L1253.2,181.0 L1257.2,181.2 L1261.3,181.3 L1265.3,181.5 L1269.3,181.6 L1273.3,181.8 L1277.3,181.9 L1281.4,182.1 L1285.4,182.3 L1289.4,182.5 L1293.4,182.7 L1297.4,182.9 L1301.4,183.1 L1305.5,183.3 L1309.5,183.6 L1313.5,183.9 L1317.5,184.3 L1321.5,184.6" stroke="#d470c6" stroke-dasharray="74,9,4,7.5,4,7.5,4,8"/>
<path d="M862.3,668.5 L863.9,664.8 L865.5,661.1 L867.1,657.4 L868.6,653.7 L870.2,650.0 L871.8,646.3 L873.4,642.6 L875.0,638.9 L876.6,635.2 L878.2,631.5 L879.9,627.8 L881.5,624.1 L883.1,620.4 L884.7,616.7 L886.3,613.0 L887.9,609.3 L889.5,605.6 L891.1,601.9 L892.7,598.2 L894.3,594.5 L895.9,590.8 L897.5,587.1 L899.2,583.4 L900.9,579.7 L902.6,576.1 L904.3,572.5 L906.1,568.8 L907.9,565.2 L909.7,561.6 L911.6,558.1 L913.5,554.5 L915.4,551.0 L917.4,547.4 L919.4,543.9 L921.4,540.5 L923.4,537.0 L925.5,533.5 L927.6,530.1 L929.8,526.7 L932.0,523.3 L934.2,519.9 L936.4,516.5 L938.6,513.2 L940.9,509.8 L943.2,506.5 L945.5,503.2 L947.8,499.9 L950.1,496.5 L952.5,493.2 L954.9,490.0 L957.4,486.8 L960.0,483.8 L962.7,480.8 L965.5,478.0 L968.4,475.3 L971.4,472.6 L974.5,470.0 L977.7,467.5 L980.9,465.0 L984.2,462.5 L987.4,460.1 L990.6,457.6 L993.8,455.2 L997.0,452.7 L1000.2,450.2 L1003.5,447.7 L1006.8,445.4 L1010.2,443.1 L1013.6,440.9 L1017.0,438.9 L1020.5,437.0 L1024.0,435.3 L1027.7,433.7 L1031.4,432.2 L1035.2,430.9 L1039.0,429.5 L1042.9,428.3 L1046.8,427.1 L1050.7,425.8 L1054.5,424.6 L1058.4,423.4 L1062.2,422.2 L1066.1,421.1 L1070.0,419.9 L1073.9,418.8 L1077.8,417.8 L1081.7,416.8 L1085.6,415.9 L1089.5,415.0 L1093.4,414.2 L1097.4,413.4 L1101.3,412.6 L1105.3,411.8 L1109.3,411.1 L1113.3,410.4 L1117.2,409.7 L1121.2,409.0 L1125.2,408.4 L1129.2,407.7 L1133.1,407.1 L1137.1,406.5 L1141.1,405.8 L1145.1,405.2 L1149.1,404.6 L1153.1,404.0 L1157.1,403.5 L1161.1,402.9 L1165.0,402.3 L1169.0,401.8 L1173.0,401.3 L1177.0,400.7 L1181.0,400.2 L1185.0,399.7 L1189.0,399.2 L1193.0,398.7 L1197.0,398.2 L1201.0,397.7 L1205.0,397.2 L1209.0,396.8 L1213.1,396.3 L1217.1,395.9 L1221.1,395.4 L1225.1,395.0 L1229.1,394.6 L1233.1,394.2 L1237.1,393.8 L1241.1,393.4 L1245.1,393.0 L1249.1,392.7 L1253.2,392.3 L1257.2,391.9 L1261.2,391.6 L1265.2,391.2 L1269.2,390.9 L1273.2,390.5 L1277.3,390.2 L1281.3,389.9 L1285.3,389.5 L1289.3,389.2 L1293.3,388.9 L1297.4,388.6 L1301.4,388.3 L1305.4,388.0 L1309.4,387.8 L1313.4,387.5 L1317.5,387.2 L1321.5,387.0" stroke="#008552" stroke-dasharray="29.6,15.2,29.6,15.2,3.8,5,3.8,7.8" stroke-dashoffset="-7"/>
</g>
<g clip-path="url(#c1)" fill="none" stroke-width="7" shape-rendering="crispEdges">
<path d="M1321.5,108.2 L1325.5,108.2 L1329.5,108.2 L1333.6,108.2 L1337.6,108.2 L1341.6,108.2 L1345.6,108.2 L1349.7,108.2 L1353.7,108.2 L1357.7,108.2 L1361.7,108.2 L1365.8,108.2 L1369.8,108.2 L1373.8,108.2 L1377.8,108.2 L1381.9,108.2 L1385.9,108.2 L1389.9,108.2 L1393.9,108.2 L1398.0,108.2 L1402.0,108.2 L1406.0,108.2 L1410.0,108.2 L1414.1,108.2 L1418.1,108.2 L1422.1,108.2 L1426.1,108.2 L1430.1,108.2 L1434.2,108.2 L1438.2,108.2 L1442.2,108.2 L1446.2,108.2 L1450.3,108.2 L1454.3,108.2 L1458.3,108.2 L1462.3,108.2 L1466.4,108.2 L1470.4,108.2 L1474.4,108.2 L1478.4,108.2 L1482.5,108.2 L1486.5,108.2 L1490.5,108.2 L1494.5,108.2 L1498.5,108.2 L1502.6,108.2 L1506.6,108.2 L1510.6,108.2 L1514.6,108.3 L1518.7,108.3 L1522.7,108.3 L1526.7,108.4 L1530.7,108.5 L1534.8,108.6 L1538.8,108.7 L1542.8,108.8 L1546.8,108.9 L1550.8,109.0 L1554.9,109.1 L1558.9,109.3 L1562.9,109.4 L1566.9,109.6 L1570.9,109.8 L1575.0,110.0 L1579.0,110.2 L1583.0,110.4 L1587.0,110.7 L1591.0,111.0 L1595.1,111.2 L1599.1,111.5 L1603.1,111.8 L1607.1,112.2 L1611.1,112.5 L1615.1,112.8 L1619.1,113.2 L1623.1,113.6 L1627.1,114.0 L1631.1,114.4 L1635.1,114.8 L1639.1,115.2 L1643.1,115.7 L1647.1,116.2 L1651.1,116.7 L1655.1,117.3 L1659.1,117.8 L1663.1,118.4 L1667.0,118.9 L1671.0,119.5 L1675.0,120.1 L1679.0,120.7 L1683.0,121.3 L1687.0,121.9 L1690.9,122.4 L1694.9,123.0 L1698.9,123.6 L1702.9,124.2 L1706.9,124.7 L1710.9,125.3 L1714.8,125.9 L1718.8,126.5 L1722.8,127.1 L1726.8,127.7 L1730.8,128.3 L1734.7,128.9 L1738.7,129.5 L1742.7,130.1 L1746.7,130.7 L1750.6,131.4 L1754.6,132.0 L1758.6,132.6 L1762.6,133.2 L1766.5,133.9 L1770.5,134.5 L1774.5,135.2 L1778.5,135.8 L1782.4,136.5 L1786.4,137.1 L1790.4,137.8 L1794.3,138.4 L1798.3,139.1 L1802.3,139.7 L1806.2,140.4 L1810.2,141.1 L1814.2,141.7 L1818.1,142.4 L1822.1,143.1 L1826.1,143.8 L1830.0,144.5 L1834.0,145.1 L1838.0,145.8 L1841.9,146.5 L1845.9,147.2 L1849.9,148.0 L1853.8,148.7 L1857.8,149.4 L1861.7,150.1 L1865.7,150.9 L1869.6,151.6 L1873.6,152.3 L1877.6,153.1 L1881.5,153.9 L1885.4,154.6 L1889.4,155.4 L1893.3,156.3 L1897.3,157.2 L1901.2,158.0 L1905.1,158.9 L1909.1,159.7 L1913.0,160.5 L1916.9,161.2 L1920.9,162.0 L1924.9,162.7 L1928.8,163.4 L1932.8,164.1 L1936.7,164.8 L1940.7,165.5 L1944.7,166.2 L1948.6,166.9 L1952.6,167.6 L1956.6,168.2 L1960.5,168.9 L1964.5,169.5 L1968.5,170.2 L1972.4,170.8 L1976.4,171.5 L1980.4,172.1 L1984.4,172.7 L1988.3,173.4 L1992.3,174.0 L1996.3,174.6 L2000.3,175.2 L2004.3,175.9 L2008.2,176.5 L2012.2,177.1 L2016.2,177.8 L2020.2,178.4 L2024.1,179.0 L2028.1,179.7 L2032.1,180.3 L2036.0,180.9 L2040.0,181.6 L2044.0,182.2 L2048.0,182.9 L2051.9,183.5 L2055.9,184.2 L2059.9,184.8 L2063.8,185.5 L2067.8,186.1 L2071.8,186.8 L2075.8,187.4 L2079.7,188.1 L2083.7,188.7 L2087.7,189.3 L2091.6,190.0 L2095.6,190.6 L2099.6,191.3 L2103.6,191.9 L2107.5,192.6 L2111.5,193.2 L2115.5,193.8 L2119.5,194.5 L2123.4,195.1 L2127.4,195.7 L2131.4,196.4 L2135.4,197.0 L2139.3,197.6 L2143.3,198.2 L2147.3,198.8 L2151.3,199.5 L2155.2,200.1 L2159.2,200.7 L2163.2,201.3 L2167.2,201.9 L2171.1,202.5 L2175.1,203.1 L2179.1,203.7 L2183.1,204.3 L2187.1,204.9 L2191.0,205.5 L2195.0,206.1 L2199.0,206.7 L2203.0,207.2 L2207.0,207.8 L2210.9,208.4 L2214.9,209.0 L2218.9,209.6 L2222.9,210.2 L2226.9,210.8 L2230.8,211.3 L2234.8,211.9 L2238.8,212.5 L2242.8,213.1 L2246.8,213.6 L2250.8,214.2 L2254.7,214.8 L2258.7,215.4 L2262.7,215.9 L2266.7,216.5 L2270.7,217.0 L2274.7,217.6 L2278.6,218.2 L2282.6,218.7 L2286.6,219.3 L2290.6,219.8 L2294.6,220.4 L2298.6,220.9 L2302.6,221.5 L2306.6,222.0 L2310.5,222.6 L2314.5,223.1 L2318.5,223.7 L2322.5,224.2" stroke="#0033ff"/>
<path d="M1321.5,179.2 L1325.5,179.2 L1329.5,179.2 L1333.6,179.2 L1337.6,179.2 L1341.6,179.2 L1345.6,179.2 L1349.6,179.2 L1353.7,179.2 L1357.7,179.2 L1361.7,179.2 L1365.7,179.2 L1369.8,179.2 L1373.8,179.2 L1377.8,179.2 L1381.8,179.2 L1385.8,179.2 L1389.9,179.2 L1393.9,179.2 L1397.9,179.2 L1401.9,179.2 L1405.9,179.2 L1410.0,179.2 L1414.0,179.2 L1418.0,179.2 L1422.0,179.2 L1426.1,179.2 L1430.1,179.2 L1434.1,179.2 L1438.1,179.2 L1442.1,179.2 L1446.2,179.2 L1450.2,179.2 L1454.2,179.2 L1458.2,179.2 L1462.2,179.2 L1466.3,179.2 L1470.3,179.2 L1474.3,179.2 L1478.3,179.2 L1482.3,179.2 L1486.4,179.2 L1490.4,179.2 L1494.4,179.2 L1498.4,179.2 L1502.4,179.2 L1506.5,179.2 L1510.5,179.2 L1514.5,179.2 L1518.5,179.2 L1522.5,179.2 L1526.6,179.2 L1530.6,179.2 L1534.6,179.2 L1538.6,179.2 L1542.6,179.2 L1546.7,179.2 L1550.7,179.2 L1554.7,179.2 L1558.7,179.2 L1562.7,179.2 L1566.8,179.2 L1570.8,179.2 L1574.8,179.2 L1578.8,179.2 L1582.9,179.2 L1586.9,179.2 L1590.9,179.2 L1594.9,179.2 L1598.9,179.2 L1603.0,179.2 L1607.0,179.2 L1611.0,179.2 L1615.0,179.2 L1619.0,179.2 L1623.1,179.2 L1627.1,179.3 L1631.1,179.3 L1635.1,179.3 L1639.1,179.3 L1643.2,179.4 L1647.2,179.4 L1651.2,179.5 L1655.2,179.6 L1659.2,179.6 L1663.3,179.7 L1667.3,179.8 L1671.3,179.9 L1675.3,180.0 L1679.3,180.1 L1683.4,180.2 L1687.4,180.3 L1691.4,180.5 L1695.4,180.6 L1699.4,180.7 L1703.5,180.8 L1707.5,181.0 L1711.5,181.1 L1715.5,181.2 L1719.5,181.3 L1723.5,181.5 L1727.6,181.6 L1731.6,181.7 L1735.6,181.9 L1739.6,182.1 L1743.6,182.3 L1747.6,182.4 L1751.7,182.6 L1755.7,182.8 L1759.7,182.9 L1763.7,183.0 L1767.7,183.1 L1771.8,183.2 L1775.8,183.3 L1779.8,183.4 L1783.8,183.4 L1787.8,183.5 L1791.9,183.6 L1795.9,183.6 L1799.9,183.7 L1803.9,183.7 L1807.9,183.8 L1812.0,183.8 L1816.0,183.9 L1820.0,183.9 L1824.0,184.0 L1828.0,184.0 L1832.1,184.1 L1836.1,184.1 L1840.1,184.2 L1844.1,184.2 L1848.1,184.2 L1852.2,184.3 L1856.2,184.3 L1860.2,184.4 L1864.2,184.4 L1868.2,184.4 L1872.3,184.5 L1876.3,184.5 L1880.3,184.5 L1884.3,184.6 L1888.4,184.6 L1892.4,184.7 L1896.4,184.8 L1900.4,184.8 L1904.4,184.9 L1908.5,184.9 L1912.5,185.0 L1916.5,185.1 L1920.5,185.1 L1924.5,185.2 L1928.6,185.2 L1932.6,185.3 L1936.6,185.4 L1940.6,185.4 L1944.6,185.5 L1948.7,185.5 L1952.7,185.6 L1956.7,185.7 L1960.7,185.7 L1964.7,185.8 L1968.8,185.8 L1972.8,185.9 L1976.8,186.0 L1980.8,186.0 L1984.8,186.1 L1988.9,186.2 L1992.9,186.2 L1996.9,186.3 L2000.9,186.4 L2004.9,186.4 L2009.0,186.5 L2013.0,186.6 L2017.0,186.6 L2021.0,186.7 L2025.0,186.8 L2029.1,186.8 L2033.1,186.9 L2037.1,187.0 L2041.1,187.1 L2045.1,187.1 L2049.2,187.2 L2053.2,187.3 L2057.2,187.3 L2061.2,187.4 L2065.2,187.5 L2069.3,187.6 L2073.3,187.7 L2077.3,187.7 L2081.3,187.8 L2085.3,187.9 L2089.4,188.0 L2093.4,188.0 L2097.4,188.1 L2101.4,188.2 L2105.4,188.3 L2109.5,188.4 L2113.5,188.5 L2117.5,188.5 L2121.5,188.6 L2125.5,188.7 L2129.6,188.8 L2133.6,188.9 L2137.6,189.0 L2141.6,189.0 L2145.6,189.1 L2149.7,189.2 L2153.7,189.3 L2157.7,189.4 L2161.7,189.5 L2165.7,189.6 L2169.8,189.6 L2173.8,189.7 L2177.8,189.8 L2181.8,189.9 L2185.8,190.0 L2189.9,190.1 L2193.9,190.2 L2197.9,190.3 L2201.9,190.4 L2205.9,190.5 L2210.0,190.6 L2214.0,190.7 L2218.0,190.8 L2222.0,190.9 L2226.0,191.0 L2230.0,191.1 L2234.1,191.1 L2238.1,191.2 L2242.1,191.3 L2246.1,191.4 L2250.1,191.5 L2254.2,191.6 L2258.2,191.7 L2262.2,191.8 L2266.2,191.9 L2270.2,192.0 L2274.3,192.1 L2278.3,192.2 L2282.3,192.3 L2286.3,192.4 L2290.3,192.5 L2294.4,192.6 L2298.4,192.7 L2302.4,192.8 L2306.4,192.9 L2310.4,192.9 L2314.5,193.0 L2318.5,193.1 L2322.5,193.2" stroke="#7322b2" stroke-dasharray="15.6,14.03"/>
<path d="M1321.5,179.2 L1325.5,179.2 L1329.5,179.2 L1333.6,179.2 L1337.6,179.2 L1341.6,179.2 L1345.6,179.2 L1349.7,179.2 L1353.7,179.2 L1357.7,179.2 L1361.7,179.2 L1365.8,179.2 L1369.8,179.2 L1373.8,179.2 L1377.8,179.2 L1381.9,179.2 L1385.9,179.2 L1389.9,179.2 L1393.9,179.2 L1398.0,179.2 L1402.0,179.2 L1406.0,179.2 L1410.0,179.2 L1414.0,179.2 L1418.1,179.2 L1422.1,179.2 L1426.1,179.2 L1430.1,179.2 L1434.2,179.2 L1438.2,179.2 L1442.2,179.2 L1446.2,179.2 L1450.3,179.2 L1454.3,179.2 L1458.3,179.2 L1462.3,179.2 L1466.3,179.2 L1470.4,179.2 L1474.4,179.2 L1478.4,179.2 L1482.4,179.2 L1486.5,179.2 L1490.5,179.2 L1494.5,179.2 L1498.5,179.2 L1502.5,179.2 L1506.6,179.2 L1510.6,179.2 L1514.6,179.2 L1518.6,179.2 L1522.7,179.2 L1526.7,179.2 L1530.7,179.2 L1534.7,179.2 L1538.7,179.2 L1542.8,179.2 L1546.8,179.2 L1550.8,179.2 L1554.8,179.2 L1558.9,179.2 L1562.9,179.2 L1566.9,179.2 L1570.9,179.2 L1574.9,179.2 L1579.0,179.2 L1583.0,179.2 L1587.0,179.2 L1591.0,179.2 L1595.0,179.2 L1599.1,179.2 L1603.1,179.2 L1607.1,179.2 L1611.1,179.2 L1615.2,179.2 L1619.2,179.2 L1623.2,179.2 L1627.2,179.3 L1631.2,179.3 L1635.3,179.3 L1639.3,179.4 L1643.3,179.4 L1647.3,179.5 L1651.3,179.6 L1655.4,179.8 L1659.4,179.9 L1663.4,180.0 L1667.4,180.2 L1671.4,180.3 L1675.5,180.5 L1679.5,180.7 L1683.5,180.8 L1687.5,181.0 L1691.5,181.2 L1695.6,181.3 L1699.6,181.5 L1703.6,181.7 L1707.6,181.9 L1711.6,182.0 L1715.7,182.2 L1719.7,182.3 L1723.7,182.5 L1727.7,182.6 L1731.7,182.7 L1735.8,182.8 L1739.8,183.0 L1743.8,183.1 L1747.8,183.2 L1751.9,183.4 L1755.9,183.5 L1759.9,183.6 L1763.9,183.8 L1767.9,183.9 L1772.0,184.1 L1776.0,184.3 L1780.0,184.5 L1784.0,184.7 L1788.0,184.9 L1792.0,185.1 L1796.1,185.3 L1800.1,185.5 L1804.1,185.7 L1808.1,185.9 L1812.1,186.1 L1816.1,186.3 L1820.2,186.5 L1824.2,186.7 L1828.2,186.9 L1832.2,187.1 L1836.2,187.3 L1840.3,187.5 L1844.3,187.7 L1848.3,187.9 L1852.3,188.1 L1856.3,188.3 L1860.3,188.4 L1864.4,188.6 L1868.4,188.8 L1872.4,189.0 L1876.4,189.2 L1880.4,189.4 L1884.5,189.6 L1888.5,189.8 L1892.5,190.0 L1896.5,190.2 L1900.5,190.4 L1904.5,190.6 L1908.6,190.8 L1912.6,191.0 L1916.6,191.2 L1920.6,191.4 L1924.6,191.6 L1928.6,191.8 L1932.7,192.0 L1936.7,192.2 L1940.7,192.4 L1944.7,192.6 L1948.7,192.8 L1952.7,193.1 L1956.8,193.3 L1960.8,193.5 L1964.8,193.7 L1968.8,193.9 L1972.8,194.1 L1976.8,194.3 L1980.9,194.6 L1984.9,194.8 L1988.9,195.0 L1992.9,195.2 L1996.9,195.4 L2001.0,195.6 L2005.0,195.8 L2009.0,196.0 L2013.0,196.2 L2017.0,196.4 L2021.0,196.7 L2025.1,196.9 L2029.1,197.1 L2033.1,197.3 L2037.1,197.5 L2041.1,197.7 L2045.1,197.8 L2049.2,198.0 L2053.2,198.2 L2057.2,198.4 L2061.2,198.6 L2065.2,198.8 L2069.3,199.0 L2073.3,199.2 L2077.3,199.4 L2081.3,199.6 L2085.3,199.8 L2089.3,200.0 L2093.4,200.2 L2097.4,200.4 L2101.4,200.6 L2105.4,200.8 L2109.4,201.0 L2113.5,201.2 L2117.5,201.3 L2121.5,201.5 L2125.5,201.7 L2129.5,201.9 L2133.5,202.1 L2137.6,202.2 L2141.6,202.4 L2145.6,202.6 L2149.6,202.7 L2153.6,202.9 L2157.7,203.0 L2161.7,203.2 L2165.7,203.4 L2169.7,203.5 L2173.7,203.6 L2177.8,203.8 L2181.8,203.9 L2185.8,204.1 L2189.8,204.2 L2193.8,204.3 L2197.9,204.5 L2201.9,204.6 L2205.9,204.7 L2209.9,204.9 L2213.9,205.0 L2218.0,205.1 L2222.0,205.2 L2226.0,205.4 L2230.0,205.5 L2234.0,205.6 L2238.1,205.7 L2242.1,205.9 L2246.1,206.0 L2250.1,206.1 L2254.1,206.2 L2258.2,206.3 L2262.2,206.5 L2266.2,206.6 L2270.2,206.7 L2274.3,206.8 L2278.3,206.9 L2282.3,207.1 L2286.3,207.2 L2290.3,207.3 L2294.4,207.4 L2298.4,207.5 L2302.4,207.7 L2306.4,207.8 L2310.4,207.9 L2314.5,208.0 L2318.5,208.2 L2322.5,208.3" stroke="#6cc06c" stroke-dasharray="30.4,14.05"/>
<path d="M1841.1,668.5 L1843.1,665.0 L1845.1,661.4 L1847.0,657.9 L1849.0,654.4 L1851.0,650.8 L1853.0,647.3 L1854.9,643.8 L1856.9,640.2 L1858.9,636.7 L1860.8,633.2 L1862.8,629.6 L1864.7,626.1 L1866.7,622.5 L1868.6,619.0 L1870.6,615.4 L1872.5,611.9 L1874.5,608.3 L1876.5,604.8 L1878.4,601.3 L1880.4,597.7 L1882.3,594.2 L1884.3,590.6 L1886.3,587.1 L1888.2,583.5 L1890.2,580.0 L1892.2,576.5 L1894.1,572.9 L1896.1,569.4 L1898.1,565.9 L1900.1,562.4 L1902.2,558.9 L1904.2,555.4 L1906.3,551.9 L1908.4,548.5 L1910.5,545.0 L1912.7,541.6 L1914.8,538.1 L1916.9,534.7 L1919.1,531.3 L1921.3,527.9 L1923.5,524.5 L1925.7,521.1 L1927.9,517.7 L1930.1,514.3 L1932.4,510.9 L1934.6,507.6 L1936.9,504.2 L1939.2,500.9 L1941.5,497.5 L1943.8,494.2 L1946.1,490.9 L1948.4,487.6 L1950.7,484.3 L1953.1,481.0 L1955.4,477.6 L1957.7,474.3 L1960.0,471.0 L1962.4,467.7 L1964.7,464.3 L1967.0,461.0 L1969.3,457.7 L1971.6,454.4 L1974.0,451.1 L1976.4,447.8 L1978.7,444.5 L1981.2,441.3 L1983.6,438.1 L1986.1,434.9 L1988.6,431.7 L1991.2,428.6 L1993.8,425.5 L1996.4,422.5 L1999.1,419.4 L2001.8,416.4 L2004.5,413.4 L2007.2,410.4 L2010.0,407.4 L2012.8,404.5 L2015.5,401.5 L2018.3,398.6 L2021.2,395.7 L2024.0,392.8 L2026.8,389.9 L2029.6,386.9 L2032.4,384.0 L2035.3,381.2 L2038.2,378.3 L2041.0,375.4 L2043.9,372.6 L2046.9,369.8 L2049.8,367.0 L2052.8,364.3 L2055.8,361.6 L2058.8,358.9 L2061.9,356.3 L2065.0,353.7 L2068.1,351.2 L2071.3,348.6 L2074.5,346.1 L2077.7,343.6 L2080.9,341.2 L2084.2,338.8 L2087.5,336.4 L2090.8,334.0 L2094.1,331.7 L2097.5,329.5 L2100.8,327.3 L2104.2,325.1 L2107.7,323.0 L2111.1,320.9 L2114.6,318.8 L2118.2,316.8 L2121.7,314.8 L2125.3,312.8 L2128.8,310.9 L2132.4,309.1 L2136.0,307.2 L2139.6,305.4 L2143.3,303.7 L2147.0,302.0 L2150.7,300.4 L2154.4,298.8 L2158.1,297.2 L2161.9,295.6 L2165.6,294.1 L2169.4,292.5 L2173.1,291.0 L2176.8,289.4 L2180.6,287.9 L2184.3,286.3 L2188.0,284.8 L2191.8,283.2 L2195.5,281.7 L2199.3,280.1 L2203.0,278.6 L2206.8,277.1 L2210.6,275.6 L2214.3,274.2 L2218.1,272.7 L2221.9,271.3 L2225.7,269.9 L2229.5,268.6 L2233.3,267.2 L2237.2,265.9 L2241.0,264.6 L2244.8,263.3 L2248.7,262.0 L2252.5,260.8 L2256.4,259.6 L2260.2,258.4 L2264.1,257.2 L2268.0,256.0 L2271.8,254.8 L2275.7,253.6 L2279.6,252.5 L2283.5,251.3 L2287.4,250.2 L2291.3,249.0 L2295.1,247.9 L2299.0,246.8 L2302.9,245.7 L2306.8,244.7 L2310.7,243.6 L2314.7,242.5 L2318.6,241.5 L2322.5,240.5" stroke="#00ffff" stroke-dasharray="29.6,15.2,29.6,15.2,3.8,5,3.8,7.8" stroke-dashoffset="-7"/>
<path d="M1321.5,315.8 L1325.5,315.9 L1329.5,316.0 L1333.6,316.2 L1337.6,316.3 L1341.6,316.4 L1345.6,316.6 L1349.6,316.7 L1353.6,316.8 L1357.7,317.0 L1361.7,317.1 L1365.7,317.2 L1369.7,317.3 L1373.7,317.4 L1377.8,317.5 L1381.8,317.6 L1385.8,317.7 L1389.8,317.8 L1393.8,317.9 L1397.9,318.0 L1401.9,318.0 L1405.9,318.1 L1409.9,318.2 L1413.9,318.2 L1418.0,318.3 L1422.0,318.4 L1426.0,318.5 L1430.0,318.5 L1434.0,318.6 L1438.1,318.7 L1442.1,318.7 L1446.1,318.8 L1450.1,318.8 L1454.1,318.9 L1458.2,319.0 L1462.2,319.0 L1466.2,319.1 L1470.2,319.1 L1474.2,319.1 L1478.3,319.2 L1482.3,319.2 L1486.3,319.2 L1490.3,319.2 L1494.3,319.2 L1498.4,319.2 L1502.4,319.2 L1506.4,319.2 L1510.4,319.2 L1514.4,319.2 L1518.5,319.2 L1522.5,319.2 L1526.5,319.2 L1530.5,319.2 L1534.6,319.1 L1538.6,319.1 L1542.6,319.1 L1546.6,319.0 L1550.6,319.0 L1554.7,319.0 L1558.7,318.9 L1562.7,318.9 L1566.7,318.9 L1570.7,318.8 L1574.7,318.8 L1578.8,318.7 L1582.8,318.6 L1586.8,318.4 L1590.8,318.2 L1594.8,318.0 L1598.8,317.7 L1602.9,317.4 L1606.9,317.1 L1610.9,316.8 L1614.9,316.5 L1618.9,316.2 L1622.9,315.9 L1626.9,315.6 L1630.9,315.3 L1634.9,314.9 L1638.9,314.6 L1642.9,314.2 L1646.9,313.8 L1650.9,313.4 L1654.9,313.0 L1658.9,312.6 L1662.9,312.1 L1666.9,311.7 L1670.9,311.2 L1674.9,310.8 L1678.9,310.3 L1682.9,309.8 L1686.9,309.3 L1690.9,308.7 L1694.8,308.2 L1698.8,307.6 L1702.8,307.0 L1706.8,306.4 L1710.8,305.8 L1714.7,305.2 L1718.7,304.6 L1722.7,304.0 L1726.7,303.4 L1730.6,302.8 L1734.6,302.2 L1738.6,301.6 L1742.6,301.0 L1746.5,300.5 L1750.5,299.9 L1754.5,299.4 L1758.5,298.9 L1762.5,298.4 L1766.5,297.9 L1770.5,297.5 L1774.5,297.0 L1778.5,296.5 L1782.5,296.1 L1786.5,295.6 L1790.5,295.1 L1794.5,294.7 L1798.4,294.2 L1802.4,293.7 L1806.4,293.2 L1810.4,292.7 L1814.4,292.2 L1818.4,291.7 L1822.4,291.1 L1826.3,290.6 L1830.3,289.9 L1834.3,289.3 L1838.3,288.6 L1842.2,288.0 L1846.2,287.3 L1850.1,286.6 L1854.1,285.9 L1858.1,285.3 L1862.0,284.6 L1866.0,284.1 L1870.0,283.5 L1874.0,282.9 L1878.0,282.3 L1881.9,281.7 L1885.9,281.2 L1889.9,280.6 L1893.9,280.1 L1897.9,279.5 L1901.8,279.0 L1905.8,278.4 L1909.8,277.9 L1913.8,277.4 L1917.8,276.8 L1921.8,276.3 L1925.8,275.8 L1929.8,275.3 L1933.7,274.8 L1937.7,274.3 L1941.7,273.8 L1945.7,273.3 L1949.7,272.8 L1953.7,272.4 L1957.7,271.9 L1961.7,271.4 L1965.7,270.9 L1969.7,270.5 L1973.7,270.0 L1977.7,269.5 L1981.6,269.1 L1985.6,268.6 L1989.6,268.2 L1993.6,267.7 L1997.6,267.3 L2001.6,266.8 L2005.6,266.4 L2009.6,265.9 L2013.6,265.5 L2017.6,265.1 L2021.6,264.7 L2025.6,264.3 L2029.6,263.9 L2033.6,263.5 L2037.6,263.1 L2041.6,262.7 L2045.6,262.3 L2049.6,261.9 L2053.6,261.6 L2057.6,261.2 L2061.6,260.9 L2065.6,260.5 L2069.6,260.2 L2073.7,259.9 L2077.7,259.6 L2081.7,259.2 L2085.7,258.9 L2089.7,258.6 L2093.7,258.3 L2097.7,258.0 L2101.7,257.7 L2105.7,257.4 L2109.7,257.2 L2113.7,256.9 L2117.8,256.6 L2121.8,256.3 L2125.8,256.1 L2129.8,255.8 L2133.8,255.5 L2137.8,255.3 L2141.8,255.0 L2145.8,254.8 L2149.9,254.5 L2153.9,254.3 L2157.9,254.1 L2161.9,253.8 L2165.9,253.6 L2169.9,253.4 L2173.9,253.1 L2178.0,252.9 L2182.0,252.7 L2186.0,252.5 L2190.0,252.3 L2194.0,252.1 L2198.0,251.9 L2202.0,251.7 L2206.1,251.5 L2210.1,251.3 L2214.1,251.1 L2218.1,250.9 L2222.1,250.7 L2226.1,250.6 L2230.2,250.4 L2234.2,250.2 L2238.2,250.0 L2242.2,249.8 L2246.2,249.6 L2250.2,249.4 L2254.3,249.2 L2258.3,249.0 L2262.3,248.8 L2266.3,248.6 L2270.3,248.4 L2274.3,248.2 L2278.3,247.9 L2282.4,247.7 L2286.4,247.5 L2290.4,247.3 L2294.4,247.1 L2298.4,246.8 L2302.4,246.6 L2306.4,246.4 L2310.5,246.2 L2314.5,246.0 L2318.5,245.7 L2322.5,245.5" stroke="#ff8800" stroke-dasharray="30.7,7.4,30.7,7.4,4.5,7.9"/>
<path d="M1521.2,668.5 L1522.6,664.7 L1524.1,661.0 L1525.5,657.2 L1527.0,653.5 L1528.4,649.7 L1529.9,645.9 L1531.3,642.2 L1532.7,638.4 L1534.1,634.7 L1535.6,630.9 L1537.0,627.1 L1538.4,623.4 L1539.8,619.6 L1541.3,615.8 L1542.7,612.1 L1544.1,608.3 L1545.5,604.5 L1546.9,600.7 L1548.3,597.0 L1549.7,593.2 L1551.1,589.4 L1552.5,585.6 L1553.9,581.9 L1555.3,578.1 L1556.7,574.3 L1558.1,570.5 L1559.4,566.7 L1560.8,563.0 L1562.2,559.2 L1563.6,555.4 L1565.0,551.6 L1566.4,547.8 L1567.7,544.1 L1569.1,540.3 L1570.4,536.5 L1571.8,532.7 L1573.1,528.9 L1574.5,525.1 L1575.9,521.3 L1577.2,517.5 L1578.6,513.7 L1580.0,509.9 L1581.4,506.2 L1582.8,502.4 L1584.2,498.6 L1585.6,494.9 L1587.1,491.1 L1588.5,487.4 L1590.0,483.6 L1591.5,479.9 L1593.0,476.1 L1594.5,472.4 L1596.1,468.7 L1597.6,465.0 L1599.2,461.3 L1600.8,457.6 L1602.4,453.9 L1604.0,450.2 L1605.6,446.5 L1607.2,442.8 L1608.9,439.1 L1610.5,435.5 L1612.2,431.8 L1613.9,428.2 L1615.6,424.5 L1617.3,420.9 L1619.0,417.2 L1620.8,413.6 L1622.5,409.9 L1624.3,406.3 L1626.1,402.7 L1627.8,399.1 L1629.6,395.5 L1631.5,391.9 L1633.3,388.3 L1635.1,384.7 L1637.0,381.2 L1638.8,377.6 L1640.7,374.0 L1642.5,370.4 L1644.4,366.8 L1646.3,363.2 L1648.2,359.6 L1650.1,356.1 L1652.1,352.6 L1654.2,349.1 L1656.3,345.7 L1658.4,342.4 L1660.6,339.1 L1663.0,335.8 L1665.4,332.6 L1667.9,329.4 L1670.4,326.3 L1673.0,323.2 L1675.7,320.2 L1678.4,317.1 L1681.1,314.2 L1683.9,311.2 L1686.6,308.3 L1689.4,305.4 L1692.3,302.6 L1695.2,299.8 L1698.1,297.0 L1701.1,294.3 L1704.1,291.6 L1707.1,288.9 L1710.1,286.2 L1713.1,283.5 L1716.1,280.8 L1719.1,278.2 L1722.2,275.5 L1725.2,272.9 L1728.3,270.3 L1731.4,267.7 L1734.6,265.2 L1737.8,262.7 L1741.0,260.3 L1744.2,258.0 L1747.6,255.8 L1750.9,253.6 L1754.3,251.5 L1757.8,249.4 L1761.3,247.4 L1764.8,245.4 L1768.4,243.5 L1771.9,241.6 L1775.5,239.7 L1779.1,237.9 L1782.7,236.1 L1786.3,234.4 L1790.0,232.6 L1793.6,230.9 L1797.3,229.3 L1801.0,227.7 L1804.7,226.1 L1808.4,224.6 L1812.2,223.1 L1815.9,221.7 L1819.7,220.3 L1823.5,218.9 L1827.3,217.6 L1831.1,216.2 L1834.9,214.9 L1838.7,213.6 L1842.6,212.4 L1846.4,211.1 L1850.2,209.9 L1854.1,208.7 L1857.9,207.5 L1861.8,206.4 L1865.6,205.2 L1869.5,204.1 L1873.4,203.0 L1877.3,201.9 L1881.2,200.9 L1885.1,199.9 L1889.0,199.0 L1892.9,198.0 L1896.8,197.1 L1900.7,196.2 L1904.7,195.4 L1908.6,194.6 L1912.6,193.8 L1916.5,193.1 L1920.5,192.4 L1924.5,191.7 L1928.4,191.0 L1932.4,190.4 L1936.4,189.7 L1940.4,189.1 L1944.4,188.5 L1948.4,187.9 L1952.4,187.4 L1956.3,186.9 L1960.3,186.4 L1964.3,186.0 L1968.4,185.7 L1972.4,185.4 L1976.4,185.1 L1980.4,184.7 L1984.4,184.5 L1988.4,184.2 L1992.4,183.9 L1996.4,183.6 L2000.5,183.4 L2004.5,183.1 L2008.5,182.9 L2012.5,182.7 L2016.6,182.5 L2020.6,182.4 L2024.6,182.2 L2028.6,182.1 L2032.7,182.1 L2036.7,182.0 L2040.7,182.0 L2044.7,182.0 L2048.8,181.9 L2052.8,181.9 L2056.8,181.9 L2060.8,181.9 L2064.9,181.9 L2068.9,181.8 L2072.9,181.8 L2076.9,181.8 L2081.0,181.8 L2085.0,181.8 L2089.0,181.8 L2093.1,181.8 L2097.1,181.8 L2101.1,181.8 L2105.1,181.8 L2109.2,181.8 L2113.2,181.8 L2117.2,181.8 L2121.2,181.8 L2125.3,181.8 L2129.3,181.8 L2133.3,181.9 L2137.3,182.0 L2141.4,182.0 L2145.4,182.1 L2149.4,182.2 L2153.4,182.3 L2157.5,182.3 L2161.5,182.4 L2165.5,182.5 L2169.5,182.6 L2173.6,182.7 L2177.6,182.8 L2181.6,182.9 L2185.6,183.0 L2189.7,183.0 L2193.7,183.1 L2197.7,183.2 L2201.7,183.3 L2205.8,183.4 L2209.8,183.5 L2213.8,183.5 L2217.8,183.6 L2221.9,183.7 L2225.9,183.8 L2229.9,183.9 L2233.9,184.0 L2238.0,184.1 L2242.0,184.2 L2246.0,184.3 L2250.0,184.4 L2254.1,184.5 L2258.1,184.6 L2262.1,184.7 L2266.1,184.8 L2270.2,184.9 L2274.2,185.0 L2278.2,185.1 L2282.2,185.1 L2286.3,185.2 L2290.3,185.3 L2294.3,185.4 L2298.3,185.5 L2302.4,185.6 L2306.4,185.7 L2310.4,185.7 L2314.4,185.8 L2318.5,185.9 L2322.5,186.0" stroke="#d470c6" stroke-dasharray="74,9,4,7.5,4,7.5,4,8"/>
<path d="M1737.8,668.5 L1739.9,665.1 L1742.1,661.7 L1744.2,658.3 L1746.4,654.9 L1748.5,651.5 L1750.7,648.1 L1752.9,644.7 L1755.1,641.3 L1757.3,638.0 L1759.5,634.6 L1761.7,631.2 L1763.9,627.9 L1766.1,624.5 L1768.3,621.2 L1770.6,617.8 L1772.8,614.5 L1775.1,611.2 L1777.3,607.8 L1779.5,604.5 L1781.8,601.1 L1784.0,597.7 L1786.1,594.3 L1788.3,590.9 L1790.4,587.5 L1792.6,584.2 L1794.9,580.8 L1797.2,577.6 L1799.7,574.4 L1802.1,571.2 L1804.6,568.1 L1807.2,564.9 L1809.7,561.8 L1812.2,558.6 L1814.7,555.4 L1817.1,552.2 L1819.4,549.0 L1821.8,545.7 L1824.2,542.4 L1826.6,539.2 L1829.1,536.1 L1831.7,533.0 L1834.3,530.0 L1836.9,526.9 L1839.6,523.9 L1842.3,520.9 L1845.1,517.9 L1847.8,515.0 L1850.6,512.1 L1853.4,509.2 L1856.3,506.3 L1859.2,503.5 L1862.0,500.7 L1865.0,498.0 L1867.9,495.3 L1870.9,492.6 L1873.9,490.0 L1877.0,487.3 L1880.1,484.7 L1883.2,482.2 L1886.4,479.7 L1889.6,477.2 L1892.8,474.8 L1896.0,472.4 L1899.3,470.1 L1902.6,467.8 L1906.0,465.6 L1909.3,463.5 L1912.8,461.4 L1916.2,459.3 L1919.7,457.2 L1923.1,455.1 L1926.6,453.0 L1930.0,450.9 L1933.4,448.8 L1936.8,446.6 L1940.2,444.4 L1943.5,442.2 L1946.9,439.9 L1950.2,437.7 L1953.7,435.6 L1957.1,433.5 L1960.6,431.4 L1964.0,429.4 L1967.6,427.5 L1971.2,425.7 L1974.8,423.9 L1978.4,422.2 L1982.1,420.6 L1985.7,418.9 L1989.5,417.3 L1993.2,415.7 L1996.9,414.2 L2000.7,412.7 L2004.5,411.3 L2008.2,409.9 L2012.0,408.5 L2015.9,407.2 L2019.7,406.0 L2023.5,404.9 L2027.3,403.7 L2031.2,402.6 L2035.1,401.6 L2038.9,400.6 L2042.8,399.5 L2046.7,398.6 L2050.7,397.6 L2054.6,396.7 L2058.5,395.8 L2062.5,394.9 L2066.4,394.1 L2070.4,393.3 L2074.3,392.5 L2078.3,391.7 L2082.3,391.0 L2086.2,390.3 L2090.2,389.6 L2094.1,389.0 L2098.1,388.3 L2102.1,387.7 L2106.0,387.1 L2110.0,386.5 L2114.0,385.9 L2118.0,385.3 L2122.0,384.8 L2126.0,384.2 L2130.0,383.7 L2134.0,383.2 L2138.0,382.7 L2142.0,382.2 L2146.0,381.8 L2150.0,381.3 L2154.0,380.9 L2158.0,380.5 L2162.0,380.1 L2166.0,379.7 L2170.0,379.4 L2174.0,379.0 L2178.0,378.7 L2182.0,378.4 L2186.0,378.1 L2190.0,377.8 L2194.0,377.5 L2198.1,377.2 L2202.1,376.9 L2206.1,376.7 L2210.1,376.4 L2214.1,376.1 L2218.1,375.9 L2222.2,375.6 L2226.2,375.3 L2230.2,375.1 L2234.2,374.8 L2238.2,374.5 L2242.2,374.2 L2246.2,373.9 L2250.3,373.6 L2254.3,373.3 L2258.3,373.0 L2262.3,372.8 L2266.3,372.5 L2270.3,372.2 L2274.3,371.9 L2278.3,371.6 L2282.4,371.3 L2286.4,371.0 L2290.4,370.8 L2294.4,370.5 L2298.4,370.2 L2302.4,369.9 L2306.4,369.6 L2310.5,369.3 L2314.5,369.1 L2318.5,368.8 L2322.5,368.5" stroke="#008552" stroke-dasharray="29.6,15.2,29.6,15.2,3.8,5,3.8,7.8" stroke-dashoffset="-7"/>
<path d="M2181.7,668.5 L2184.8,665.8 L2187.8,663.0 L2190.9,660.3 L2194.0,657.5 L2197.0,654.8 L2200.1,652.0 L2203.2,649.3 L2206.2,646.5 L2209.3,643.8 L2212.3,641.0 L2215.4,638.2 L2218.4,635.5 L2221.5,632.7 L2224.5,629.9 L2227.5,627.1 L2230.6,624.4 L2233.6,621.6 L2236.6,618.8 L2239.6,616.0 L2242.6,613.2 L2245.6,610.4 L2248.6,607.5 L2251.6,604.7 L2254.6,601.9 L2257.6,599.0 L2260.6,596.2 L2263.5,593.3 L2266.5,590.5 L2269.6,587.7 L2272.6,584.9 L2275.6,582.1 L2278.7,579.4 L2281.7,576.7 L2284.8,573.9 L2287.9,571.2 L2291.0,568.5 L2294.1,565.8 L2297.2,563.1 L2300.4,560.5 L2303.5,557.8 L2306.6,555.1 L2309.8,552.5 L2313.0,549.8 L2316.1,547.2 L2319.3,544.6 L2322.5,542.0" stroke="#c8c8c8" stroke-dasharray="74,7.5,5,7.5"/>
</g>
<g clip-path="url(#c2)" fill="none" stroke-width="7" shape-rendering="crispEdges">
<path d="M320.5,724.2 L324.5,724.2 L328.5,724.2 L332.6,724.2 L336.6,724.2 L340.6,724.2 L344.6,724.2 L348.7,724.2 L352.7,724.2 L356.7,724.2 L360.7,724.2 L364.8,724.2 L368.8,724.2 L372.8,724.2 L376.8,724.2 L380.9,724.2 L384.9,724.2 L388.9,724.2 L392.9,724.2 L396.9,724.2 L401.0,724.2 L405.0,724.2 L409.0,724.2 L413.0,724.2 L417.1,724.2 L421.1,724.2 L425.1,724.2 L429.1,724.2 L433.1,724.2 L437.2,724.2 L441.2,724.2 L445.2,724.2 L449.2,724.2 L453.3,724.3 L457.3,724.3 L461.3,724.3 L465.3,724.3 L469.4,724.4 L473.4,724.5 L477.4,724.5 L481.4,724.6 L485.4,724.7 L489.5,724.8 L493.5,724.9 L497.5,725.0 L501.5,725.1 L505.6,725.2 L509.6,725.3 L513.6,725.4 L517.6,725.5 L521.6,725.7 L525.7,725.8 L529.7,725.9 L533.7,726.0 L537.7,726.2 L541.7,726.3 L545.8,726.5 L549.8,726.7 L553.8,726.8 L557.8,727.0 L561.8,727.2 L565.9,727.4 L569.9,727.7 L573.9,727.9 L577.9,728.1 L581.9,728.4 L586.0,728.6 L590.0,728.8 L594.0,729.1 L598.0,729.4 L602.0,729.6 L606.0,729.9 L610.0,730.2 L614.0,730.6 L618.0,730.9 L622.0,731.3 L626.1,731.6 L630.1,732.0 L634.1,732.4 L638.1,732.8 L642.1,733.3 L646.1,733.7 L650.1,734.1 L654.1,734.6 L658.1,735.0 L662.1,735.5 L666.1,736.0 L670.1,736.4 L674.1,736.9 L678.1,737.4 L682.0,737.8 L686.0,738.3 L690.0,738.9 L694.0,739.4 L698.0,739.9 L702.0,740.4 L706.0,741.0 L710.0,741.6 L713.9,742.1 L717.9,742.7 L721.9,743.3 L725.9,743.9 L729.9,744.5 L733.9,745.1 L737.8,745.7 L741.8,746.3 L745.8,746.9 L749.8,747.5 L753.7,748.1 L757.7,748.7 L761.7,749.3 L765.7,749.9 L769.6,750.6 L773.6,751.2 L777.6,751.9 L781.5,752.5 L785.5,753.2 L789.5,753.8 L793.5,754.5 L797.4,755.2 L801.4,755.9 L805.4,756.5 L809.3,757.2 L813.3,757.9 L817.2,758.6 L821.2,759.3 L825.2,760.0 L829.1,760.7 L833.1,761.5 L837.0,762.2 L841.0,763.0 L844.9,763.7 L848.9,764.5 L852.8,765.3 L856.8,766.1 L860.7,766.9 L864.7,767.6 L868.6,768.4 L872.6,769.2 L876.5,769.9 L880.5,770.7 L884.4,771.4 L888.4,772.2 L892.3,772.9 L896.3,773.6 L900.2,774.3 L904.2,775.1 L908.2,775.8 L912.1,776.5 L916.1,777.2 L920.1,777.9 L924.0,778.6 L928.0,779.3 L931.9,780.0 L935.9,780.7 L939.9,781.4 L943.8,782.0 L947.8,782.7 L951.8,783.4 L955.7,784.1 L959.7,784.8 L963.6,785.5 L967.6,786.2 L971.6,786.8 L975.5,787.5 L979.5,788.2 L983.5,788.9 L987.4,789.5 L991.4,790.2 L995.4,790.9 L999.3,791.6 L1003.3,792.2 L1007.3,792.9 L1011.2,793.6 L1015.2,794.2 L1019.2,794.9 L1023.2,795.5 L1027.1,796.2 L1031.1,796.9 L1035.1,797.5 L1039.0,798.2 L1043.0,798.8 L1047.0,799.5 L1050.9,800.2 L1054.9,800.8 L1058.9,801.5 L1062.8,802.1 L1066.8,802.8 L1070.8,803.4 L1074.8,804.1 L1078.7,804.7 L1082.7,805.4 L1086.7,806.0 L1090.6,806.7 L1094.6,807.3 L1098.6,808.0 L1102.5,808.6 L1106.5,809.3 L1110.5,809.9 L1114.5,810.6 L1118.4,811.2 L1122.4,811.8 L1126.4,812.5 L1130.4,813.1 L1134.3,813.7 L1138.3,814.4 L1142.3,815.0 L1146.2,815.6 L1150.2,816.2 L1154.2,816.8 L1158.2,817.4 L1162.1,818.1 L1166.1,818.7 L1170.1,819.3 L1174.1,819.9 L1178.1,820.5 L1182.0,821.0 L1186.0,821.6 L1190.0,822.2 L1194.0,822.8 L1198.0,823.4 L1201.9,824.0 L1205.9,824.6 L1209.9,825.1 L1213.9,825.7 L1217.9,826.3 L1221.8,826.9 L1225.8,827.4 L1229.8,828.0 L1233.8,828.6 L1237.8,829.1 L1241.8,829.7 L1245.7,830.3 L1249.7,830.8 L1253.7,831.4 L1257.7,831.9 L1261.7,832.5 L1265.7,833.0 L1269.7,833.6 L1273.6,834.1 L1277.6,834.7 L1281.6,835.2 L1285.6,835.8 L1289.6,836.3 L1293.6,836.8 L1297.6,837.4 L1301.6,837.9 L1305.5,838.4 L1309.5,838.9 L1313.5,839.5 L1317.5,840.0 L1321.5,840.5" stroke="#0033ff"/>
<path d="M320.5,793.5 L324.5,793.5 L328.5,793.5 L332.6,793.5 L336.6,793.5 L340.6,793.5 L344.6,793.5 L348.6,793.5 L352.7,793.5 L356.7,793.5 L360.7,793.5 L364.7,793.5 L368.7,793.5 L372.8,793.5 L376.8,793.5 L380.8,793.6 L384.8,793.6 L388.9,793.6 L392.9,793.6 L396.9,793.6 L400.9,793.6 L404.9,793.6 L409.0,793.6 L413.0,793.6 L417.0,793.6 L421.0,793.6 L425.0,793.7 L429.1,793.7 L433.1,793.7 L437.1,793.7 L441.1,793.7 L445.1,793.7 L449.2,793.7 L453.2,793.7 L457.2,793.8 L461.2,793.8 L465.2,793.8 L469.3,793.8 L473.3,793.8 L477.3,793.8 L481.3,793.8 L485.4,793.9 L489.4,793.9 L493.4,793.9 L497.4,793.9 L501.4,793.9 L505.5,793.9 L509.5,793.9 L513.5,794.0 L517.5,794.0 L521.5,794.0 L525.6,794.0 L529.6,794.0 L533.6,794.0 L537.6,794.1 L541.6,794.1 L545.7,794.1 L549.7,794.1 L553.7,794.2 L557.7,794.2 L561.7,794.2 L565.8,794.2 L569.8,794.3 L573.8,794.3 L577.8,794.3 L581.8,794.4 L585.9,794.4 L589.9,794.4 L593.9,794.5 L597.9,794.5 L602.0,794.5 L606.0,794.6 L610.0,794.6 L614.0,794.7 L618.0,794.7 L622.1,794.7 L626.1,794.8 L630.1,794.8 L634.1,794.8 L638.1,794.9 L642.2,794.9 L646.2,794.9 L650.2,795.0 L654.2,795.0 L658.2,795.1 L662.3,795.1 L666.3,795.1 L670.3,795.2 L674.3,795.2 L678.3,795.3 L682.4,795.3 L686.4,795.3 L690.4,795.4 L694.4,795.4 L698.4,795.5 L702.5,795.5 L706.5,795.5 L710.5,795.6 L714.5,795.6 L718.5,795.7 L722.6,795.7 L726.6,795.8 L730.6,795.8 L734.6,795.9 L738.7,795.9 L742.7,795.9 L746.7,796.0 L750.7,796.0 L754.7,796.1 L758.8,796.1 L762.8,796.2 L766.8,796.2 L770.8,796.3 L774.8,796.3 L778.9,796.4 L782.9,796.4 L786.9,796.5 L790.9,796.5 L794.9,796.6 L799.0,796.6 L803.0,796.7 L807.0,796.7 L811.0,796.8 L815.0,796.9 L819.1,796.9 L823.1,797.0 L827.1,797.0 L831.1,797.1 L835.1,797.2 L839.2,797.2 L843.2,797.3 L847.2,797.4 L851.2,797.4 L855.2,797.5 L859.3,797.6 L863.3,797.6 L867.3,797.7 L871.3,797.8 L875.3,797.9 L879.4,797.9 L883.4,798.0 L887.4,798.1 L891.4,798.2 L895.4,798.2 L899.5,798.3 L903.5,798.4 L907.5,798.4 L911.5,798.5 L915.5,798.6 L919.6,798.7 L923.6,798.7 L927.6,798.8 L931.6,798.9 L935.6,798.9 L939.7,799.0 L943.7,799.0 L947.7,799.1 L951.7,799.2 L955.7,799.2 L959.8,799.3 L963.8,799.3 L967.8,799.4 L971.8,799.4 L975.9,799.5 L979.9,799.6 L983.9,799.6 L987.9,799.7 L991.9,799.7 L996.0,799.8 L1000.0,799.9 L1004.0,799.9 L1008.0,800.0 L1012.0,800.0 L1016.1,800.1 L1020.1,800.2 L1024.1,800.2 L1028.1,800.3 L1032.1,800.4 L1036.2,800.5 L1040.2,800.5 L1044.2,800.6 L1048.2,800.7 L1052.2,800.8 L1056.3,800.9 L1060.3,801.0 L1064.3,801.1 L1068.3,801.2 L1072.3,801.3 L1076.3,801.5 L1080.4,801.6 L1084.4,801.7 L1088.4,801.9 L1092.4,802.0 L1096.4,802.1 L1100.5,802.3 L1104.5,802.4 L1108.5,802.6 L1112.5,802.7 L1116.5,802.9 L1120.5,803.0 L1124.6,803.2 L1128.6,803.4 L1132.6,803.5 L1136.6,803.7 L1140.6,803.8 L1144.7,804.0 L1148.7,804.1 L1152.7,804.3 L1156.7,804.4 L1160.7,804.5 L1164.7,804.7 L1168.8,804.8 L1172.8,804.9 L1176.8,805.1 L1180.8,805.2 L1184.8,805.3 L1188.9,805.4 L1192.9,805.5 L1196.9,805.7 L1200.9,805.8 L1204.9,805.9 L1209.0,806.0 L1213.0,806.1 L1217.0,806.3 L1221.0,806.4 L1225.0,806.5 L1229.1,806.6 L1233.1,806.7 L1237.1,806.8 L1241.1,807.0 L1245.1,807.1 L1249.1,807.2 L1253.2,807.3 L1257.2,807.4 L1261.2,807.5 L1265.2,807.6 L1269.2,807.7 L1273.3,807.8 L1277.3,807.9 L1281.3,808.0 L1285.3,808.1 L1289.3,808.2 L1293.4,808.3 L1297.4,808.4 L1301.4,808.5 L1305.4,808.6 L1309.4,808.7 L1313.5,808.8 L1317.5,808.9 L1321.5,809.0" stroke="#7322b2" stroke-dasharray="15.6,14.03"/>
<path d="M320.5,794.5 L324.5,794.5 L328.5,794.5 L332.6,794.5 L336.6,794.5 L340.6,794.5 L344.6,794.5 L348.7,794.5 L352.7,794.5 L356.7,794.5 L360.7,794.5 L364.8,794.5 L368.8,794.5 L372.8,794.5 L376.8,794.5 L380.8,794.5 L384.9,794.5 L388.9,794.5 L392.9,794.5 L396.9,794.5 L401.0,794.5 L405.0,794.5 L409.0,794.5 L413.0,794.5 L417.0,794.5 L421.1,794.5 L425.1,794.5 L429.1,794.5 L433.1,794.5 L437.2,794.5 L441.2,794.5 L445.2,794.5 L449.2,794.5 L453.2,794.5 L457.3,794.5 L461.3,794.5 L465.3,794.5 L469.3,794.5 L473.4,794.5 L477.4,794.5 L481.4,794.5 L485.4,794.5 L489.4,794.5 L493.5,794.5 L497.5,794.5 L501.5,794.5 L505.5,794.5 L509.6,794.5 L513.6,794.5 L517.6,794.5 L521.6,794.5 L525.6,794.5 L529.7,794.5 L533.7,794.5 L537.7,794.5 L541.7,794.6 L545.8,794.6 L549.8,794.7 L553.8,794.7 L557.8,794.8 L561.8,794.8 L565.9,794.9 L569.9,795.0 L573.9,795.1 L577.9,795.2 L582.0,795.2 L586.0,795.3 L590.0,795.4 L594.0,795.5 L598.0,795.6 L602.1,795.7 L606.1,795.8 L610.1,795.9 L614.1,796.0 L618.1,796.1 L622.2,796.2 L626.2,796.3 L630.2,796.4 L634.2,796.5 L638.3,796.6 L642.3,796.7 L646.3,796.8 L650.3,796.9 L654.3,797.0 L658.4,797.2 L662.4,797.3 L666.4,797.4 L670.4,797.5 L674.4,797.7 L678.5,797.8 L682.5,798.0 L686.5,798.1 L690.5,798.2 L694.5,798.4 L698.6,798.5 L702.6,798.7 L706.6,798.8 L710.6,799.0 L714.6,799.1 L718.7,799.3 L722.7,799.4 L726.7,799.6 L730.7,799.7 L734.7,799.9 L738.8,800.0 L742.8,800.2 L746.8,800.3 L750.8,800.5 L754.8,800.7 L758.9,800.8 L762.9,801.0 L766.9,801.2 L770.9,801.3 L774.9,801.5 L778.9,801.7 L783.0,801.9 L787.0,802.0 L791.0,802.2 L795.0,802.4 L799.0,802.6 L803.1,802.8 L807.1,802.9 L811.1,803.1 L815.1,803.3 L819.1,803.5 L823.2,803.7 L827.2,803.9 L831.2,804.0 L835.2,804.2 L839.2,804.4 L843.2,804.6 L847.3,804.8 L851.3,805.0 L855.3,805.2 L859.3,805.4 L863.3,805.6 L867.3,805.8 L871.4,806.0 L875.4,806.2 L879.4,806.4 L883.4,806.6 L887.4,806.8 L891.5,807.0 L895.5,807.2 L899.5,807.5 L903.5,807.7 L907.5,807.9 L911.5,808.1 L915.6,808.3 L919.6,808.5 L923.6,808.7 L927.6,808.9 L931.6,809.1 L935.6,809.3 L939.7,809.5 L943.7,809.7 L947.7,809.9 L951.7,810.1 L955.7,810.3 L959.7,810.5 L963.8,810.7 L967.8,810.9 L971.8,811.2 L975.8,811.4 L979.8,811.6 L983.8,811.8 L987.9,812.0 L991.9,812.2 L995.9,812.4 L999.9,812.6 L1003.9,812.8 L1008.0,813.0 L1012.0,813.2 L1016.0,813.4 L1020.0,813.6 L1024.0,813.8 L1028.0,814.0 L1032.1,814.2 L1036.1,814.4 L1040.1,814.6 L1044.1,814.7 L1048.1,814.9 L1052.1,815.1 L1056.2,815.3 L1060.2,815.5 L1064.2,815.6 L1068.2,815.8 L1072.2,816.0 L1076.3,816.2 L1080.3,816.3 L1084.3,816.5 L1088.3,816.7 L1092.3,816.8 L1096.4,817.0 L1100.4,817.2 L1104.4,817.3 L1108.4,817.5 L1112.4,817.7 L1116.4,817.8 L1120.5,818.0 L1124.5,818.2 L1128.5,818.3 L1132.5,818.5 L1136.5,818.6 L1140.6,818.8 L1144.6,818.9 L1148.6,819.1 L1152.6,819.2 L1156.6,819.4 L1160.7,819.5 L1164.7,819.7 L1168.7,819.8 L1172.7,819.9 L1176.7,820.1 L1180.8,820.2 L1184.8,820.3 L1188.8,820.4 L1192.8,820.6 L1196.8,820.7 L1200.9,820.8 L1204.9,820.9 L1208.9,821.1 L1212.9,821.2 L1216.9,821.3 L1221.0,821.4 L1225.0,821.5 L1229.0,821.7 L1233.0,821.8 L1237.1,821.9 L1241.1,822.0 L1245.1,822.1 L1249.1,822.2 L1253.1,822.3 L1257.2,822.4 L1261.2,822.5 L1265.2,822.6 L1269.2,822.7 L1273.2,822.8 L1277.3,823.0 L1281.3,823.1 L1285.3,823.2 L1289.3,823.3 L1293.4,823.4 L1297.4,823.4 L1301.4,823.5 L1305.4,823.6 L1309.4,823.7 L1313.5,823.8 L1317.5,823.9 L1321.5,824.0" stroke="#6cc06c" stroke-dasharray="30.4,14.05"/>
<path d="M733.4,1283.5 L736.0,1280.4 L738.5,1277.2 L741.0,1274.1 L743.5,1270.9 L746.0,1267.7 L748.4,1264.6 L750.9,1261.3 L753.3,1258.1 L755.6,1254.8 L757.9,1251.5 L760.2,1248.2 L762.5,1244.9 L764.9,1241.6 L767.2,1238.3 L769.5,1235.0 L771.9,1231.7 L774.3,1228.5 L776.7,1225.3 L779.1,1222.1 L781.6,1218.9 L784.1,1215.7 L786.6,1212.6 L789.2,1209.4 L791.7,1206.3 L794.3,1203.2 L796.9,1200.1 L799.5,1197.1 L802.2,1194.0 L804.9,1191.1 L807.7,1188.2 L810.5,1185.3 L813.3,1182.4 L816.1,1179.4 L818.8,1176.4 L821.4,1173.4 L823.9,1170.2 L826.4,1167.1 L828.9,1163.9 L831.3,1160.6 L833.7,1157.4 L836.2,1154.2 L838.6,1151.0 L841.1,1147.8 L843.5,1144.6 L846.0,1141.4 L848.4,1138.1 L850.8,1134.9 L853.3,1131.7 L855.8,1128.5 L858.3,1125.4 L860.9,1122.3 L863.5,1119.2 L866.1,1116.2 L868.9,1113.4 L871.8,1110.5 L874.7,1107.7 L877.6,1104.9 L880.5,1102.0 L883.2,1099.1 L886.0,1096.2 L888.8,1093.2 L891.5,1090.3 L894.2,1087.3 L896.9,1084.3 L899.6,1081.3 L902.4,1078.3 L905.1,1075.3 L907.8,1072.4 L910.6,1069.5 L913.4,1066.6 L916.2,1063.7 L919.1,1060.9 L922.0,1058.1 L924.9,1055.3 L927.9,1052.6 L930.9,1049.9 L933.9,1047.2 L936.9,1044.5 L939.9,1041.9 L943.0,1039.2 L946.1,1036.6 L949.2,1034.0 L952.3,1031.4 L955.4,1028.8 L958.5,1026.3 L961.6,1023.7 L964.7,1021.2 L967.8,1018.6 L970.9,1016.1 L974.1,1013.5 L977.3,1011.0 L980.4,1008.5 L983.6,1006.0 L986.8,1003.6 L990.0,1001.1 L993.2,998.7 L996.4,996.3 L999.7,993.9 L1002.9,991.5 L1006.2,989.1 L1009.5,986.8 L1012.7,984.4 L1016.0,982.1 L1019.3,979.7 L1022.6,977.4 L1025.9,975.1 L1029.3,972.8 L1032.6,970.5 L1036.0,968.3 L1039.4,966.1 L1042.7,963.9 L1046.2,961.7 L1049.6,959.6 L1053.0,957.6 L1056.5,955.6 L1060.0,953.6 L1063.6,951.7 L1067.2,949.9 L1070.8,948.2 L1074.5,946.4 L1078.1,944.7 L1081.7,942.9 L1085.3,941.1 L1088.9,939.2 L1092.4,937.3 L1095.9,935.3 L1099.4,933.2 L1102.9,931.2 L1106.5,929.3 L1110.0,927.5 L1113.7,925.7 L1117.3,924.0 L1121.0,922.4 L1124.7,920.7 L1128.4,919.1 L1132.1,917.6 L1135.8,916.0 L1139.6,914.5 L1143.3,913.0 L1147.1,911.5 L1150.8,910.1 L1154.6,908.6 L1158.4,907.2 L1162.1,905.7 L1165.9,904.3 L1169.7,903.0 L1173.5,901.6 L1177.3,900.3 L1181.1,898.9 L1184.9,897.6 L1188.7,896.3 L1192.6,895.0 L1196.4,893.7 L1200.2,892.4 L1204.0,891.1 L1207.8,889.8 L1211.6,888.4 L1215.5,887.1 L1219.3,885.7 L1223.1,884.4 L1226.9,883.1 L1230.7,881.8 L1234.6,880.5 L1238.4,879.4 L1242.3,878.2 L1246.2,877.2 L1250.1,876.2 L1254.0,875.3 L1257.9,874.4 L1261.8,873.6 L1265.7,872.7 L1269.6,871.8 L1273.6,871.0 L1277.5,870.2 L1281.5,869.4 L1285.4,868.7 L1289.4,868.0 L1293.4,867.3 L1297.4,866.6 L1301.4,866.0 L1305.4,865.4 L1309.4,864.9 L1313.4,864.4 L1317.5,863.9 L1321.5,863.5" stroke="#00ffff" stroke-dasharray="29.6,15.2,29.6,15.2,3.8,5,3.8,7.8" stroke-dashoffset="-7"/>
<path d="M320.5,933.8 L324.5,933.8 L328.5,933.9 L332.6,933.9 L336.6,934.0 L340.6,934.0 L344.6,934.1 L348.6,934.1 L352.7,934.1 L356.7,934.1 L360.7,934.2 L364.7,934.2 L368.7,934.2 L372.7,934.2 L376.8,934.2 L380.8,934.2 L384.8,934.2 L388.8,934.2 L392.8,934.2 L396.9,934.2 L400.9,934.2 L404.9,934.2 L408.9,934.2 L412.9,934.2 L417.0,934.2 L421.0,934.1 L425.0,934.1 L429.0,934.0 L433.0,934.0 L437.1,933.9 L441.1,933.8 L445.1,933.8 L449.1,933.7 L453.1,933.6 L457.1,933.5 L461.2,933.4 L465.2,933.3 L469.2,933.2 L473.2,933.2 L477.2,933.1 L481.3,933.0 L485.3,932.9 L489.3,932.8 L493.3,932.7 L497.3,932.6 L501.3,932.5 L505.4,932.4 L509.4,932.3 L513.4,932.2 L517.4,932.1 L521.4,931.9 L525.5,931.8 L529.5,931.7 L533.5,931.6 L537.5,931.5 L541.5,931.3 L545.6,931.2 L549.6,931.0 L553.6,930.9 L557.6,930.7 L561.6,930.6 L565.6,930.4 L569.7,930.2 L573.7,930.1 L577.7,929.9 L581.7,929.7 L585.7,929.5 L589.7,929.3 L593.7,929.1 L597.7,928.9 L601.7,928.6 L605.8,928.4 L609.8,928.1 L613.8,927.8 L617.8,927.5 L621.8,927.1 L625.8,926.7 L629.8,926.4 L633.8,925.9 L637.8,925.5 L641.8,925.1 L645.8,924.6 L649.8,924.2 L653.8,923.7 L657.8,923.3 L661.8,922.8 L665.7,922.3 L669.7,921.9 L673.7,921.4 L677.7,920.9 L681.7,920.5 L685.7,920.0 L689.7,919.5 L693.7,919.0 L697.7,918.4 L701.6,917.9 L705.6,917.4 L709.6,916.8 L713.6,916.3 L717.6,915.7 L721.6,915.2 L725.5,914.6 L729.5,914.0 L733.5,913.5 L737.5,912.9 L741.5,912.4 L745.4,911.9 L749.4,911.3 L753.4,910.8 L757.4,910.3 L761.4,909.8 L765.4,909.2 L769.4,908.7 L773.3,908.2 L777.3,907.7 L781.3,907.2 L785.3,906.7 L789.3,906.2 L793.3,905.7 L797.3,905.1 L801.3,904.6 L805.2,904.1 L809.2,903.6 L813.2,903.1 L817.2,902.5 L821.2,902.0 L825.2,901.5 L829.1,900.9 L833.1,900.4 L837.1,899.8 L841.1,899.3 L845.1,898.7 L849.0,898.1 L853.0,897.5 L857.0,896.9 L861.0,896.4 L865.0,895.8 L868.9,895.2 L872.9,894.6 L876.9,894.0 L880.9,893.4 L884.8,892.8 L888.8,892.3 L892.8,891.7 L896.8,891.2 L900.8,890.6 L904.7,890.1 L908.7,889.5 L912.7,889.0 L916.7,888.5 L920.7,888.0 L924.7,887.5 L928.7,887.1 L932.6,886.6 L936.6,886.2 L940.6,885.7 L944.6,885.2 L948.6,884.8 L952.6,884.4 L956.6,883.9 L960.6,883.5 L964.6,883.1 L968.6,882.6 L972.6,882.2 L976.6,881.8 L980.6,881.4 L984.6,881.0 L988.6,880.6 L992.6,880.2 L996.6,879.8 L1000.6,879.4 L1004.6,879.0 L1008.6,878.7 L1012.6,878.3 L1016.6,877.9 L1020.6,877.5 L1024.6,877.2 L1028.6,876.8 L1032.6,876.5 L1036.6,876.1 L1040.6,875.8 L1044.6,875.4 L1048.6,875.1 L1052.6,874.8 L1056.6,874.5 L1060.7,874.1 L1064.7,873.8 L1068.7,873.5 L1072.7,873.2 L1076.7,872.9 L1080.7,872.5 L1084.7,872.2 L1088.7,871.9 L1092.7,871.6 L1096.7,871.3 L1100.7,871.0 L1104.7,870.7 L1108.7,870.4 L1112.8,870.2 L1116.8,869.9 L1120.8,869.6 L1124.8,869.3 L1128.8,869.0 L1132.8,868.8 L1136.8,868.5 L1140.8,868.3 L1144.8,868.0 L1148.9,867.8 L1152.9,867.5 L1156.9,867.3 L1160.9,867.0 L1164.9,866.8 L1168.9,866.6 L1172.9,866.4 L1176.9,866.1 L1181.0,865.9 L1185.0,865.7 L1189.0,865.5 L1193.0,865.3 L1197.0,865.1 L1201.0,864.9 L1205.0,864.7 L1209.0,864.5 L1213.1,864.3 L1217.1,864.1 L1221.1,863.9 L1225.1,863.7 L1229.1,863.5 L1233.1,863.3 L1237.1,863.2 L1241.2,863.0 L1245.2,862.8 L1249.2,862.6 L1253.2,862.4 L1257.2,862.3 L1261.2,862.1 L1265.3,861.9 L1269.3,861.8 L1273.3,861.6 L1277.3,861.5 L1281.3,861.3 L1285.3,861.2 L1289.4,861.0 L1293.4,860.9 L1297.4,860.7 L1301.4,860.6 L1305.4,860.5 L1309.4,860.4 L1313.5,860.2 L1317.5,860.1 L1321.5,860.0" stroke="#ff8800" stroke-dasharray="30.7,7.4,30.7,7.4,4.5,7.9"/>
<path d="M320.5,1278.0 L324.5,1277.4 L328.6,1276.7 L332.5,1275.9 L336.5,1275.0 L340.4,1274.0 L344.2,1273.0 L348.0,1271.9 L351.8,1270.7 L355.5,1269.3 L359.2,1267.8 L362.9,1266.2 L366.6,1264.4 L370.2,1262.5 L373.8,1260.6 L377.3,1258.6 L380.8,1256.5 L384.3,1254.5 L387.7,1252.4 L391.1,1250.3 L394.4,1248.1 L397.7,1245.8 L401.0,1243.4 L404.2,1241.0 L407.4,1238.5 L410.6,1236.0 L413.7,1233.4 L416.8,1230.8 L419.9,1228.2 L422.9,1225.6 L425.9,1222.9 L428.9,1220.3 L431.9,1217.6 L434.8,1214.8 L437.7,1212.1 L440.6,1209.3 L443.5,1206.4 L446.4,1203.6 L449.2,1200.7 L452.0,1197.8 L454.8,1194.8 L457.6,1191.9 L460.3,1188.9 L463.0,1185.9 L465.7,1182.9 L468.3,1179.9 L470.9,1176.8 L473.5,1173.8 L476.1,1170.7 L478.6,1167.6 L481.0,1164.4 L483.5,1161.2 L485.9,1158.0 L488.3,1154.7 L490.7,1151.5 L493.0,1148.2 L495.4,1144.9 L497.7,1141.6 L500.1,1138.4 L502.4,1135.1 L504.8,1131.8 L507.1,1128.6 L509.4,1125.3 L511.8,1122.0 L514.1,1118.7 L516.4,1115.4 L518.7,1112.1 L520.9,1108.8 L523.2,1105.5 L525.5,1102.2 L527.8,1098.8 L530.1,1095.5 L532.3,1092.2 L534.6,1088.9 L536.9,1085.6 L539.2,1082.3 L541.5,1079.0 L543.8,1075.7 L546.1,1072.4 L548.3,1069.0 L550.6,1065.7 L552.9,1062.4 L555.2,1059.1 L557.5,1055.8 L559.8,1052.5 L562.1,1049.2 L564.4,1045.9 L566.7,1042.6 L569.0,1039.3 L571.4,1036.1 L573.8,1032.8 L576.2,1029.6 L578.6,1026.3 L581.0,1023.1 L583.4,1019.9 L585.8,1016.7 L588.2,1013.5 L590.6,1010.2 L593.1,1007.0 L595.5,1003.9 L598.0,1000.7 L600.5,997.5 L603.0,994.3 L605.5,991.2 L608.0,988.1 L610.5,984.9 L613.1,981.8 L615.6,978.7 L618.2,975.6 L620.8,972.5 L623.3,969.4 L626.0,966.4 L628.6,963.3 L631.2,960.3 L633.9,957.3 L636.6,954.2 L639.2,951.3 L642.0,948.3 L644.7,945.3 L647.4,942.4 L650.2,939.5 L653.0,936.5 L655.8,933.6 L658.6,930.7 L661.4,927.9 L664.4,925.1 L667.3,922.4 L670.3,919.7 L673.4,917.2 L676.5,914.6 L679.6,912.2 L682.8,909.7 L686.1,907.3 L689.4,905.0 L692.7,902.6 L696.0,900.3 L699.3,898.0 L702.6,895.7 L705.9,893.5 L709.2,891.2 L712.6,888.9 L715.9,886.7 L719.3,884.5 L722.7,882.4 L726.2,880.3 L729.6,878.2 L733.1,876.2 L736.6,874.2 L740.1,872.4 L743.7,870.5 L747.3,868.7 L750.9,866.9 L754.5,865.2 L758.2,863.5 L761.9,861.9 L765.6,860.2 L769.3,858.6 L773.0,857.1 L776.7,855.6 L780.4,854.1 L784.2,852.6 L787.9,851.2 L791.7,849.8 L795.5,848.5 L799.3,847.1 L803.1,845.8 L806.9,844.4 L810.7,843.1 L814.5,841.8 L818.3,840.5 L822.1,839.1 L825.9,837.8 L829.7,836.5 L833.5,835.2 L837.3,833.9 L841.2,832.7 L845.0,831.5 L848.9,830.3 L852.7,829.2 L856.6,828.2 L860.5,827.1 L864.4,826.1 L868.3,825.1 L872.2,824.1 L876.1,823.2 L880.1,822.4 L884.0,821.6 L888.0,821.0 L891.9,820.3 L895.9,819.8 L899.9,819.2 L903.9,818.7 L907.9,818.2 L911.9,817.7 L915.9,817.2 L919.9,816.7 L923.9,816.2 L927.9,815.6 L931.8,815.1 L935.8,814.6 L939.8,814.1 L943.8,813.5 L947.8,813.0 L951.8,812.5 L955.8,812.1 L959.8,811.6 L963.8,811.1 L967.8,810.7 L971.8,810.3 L975.8,809.9 L979.8,809.6 L983.8,809.2 L987.8,808.8 L991.8,808.5 L995.8,808.2 L999.8,807.8 L1003.9,807.5 L1007.9,807.2 L1011.9,806.9 L1015.9,806.6 L1019.9,806.4 L1023.9,806.1 L1027.9,805.9 L1032.0,805.7 L1036.0,805.4 L1040.0,805.2 L1044.0,805.0 L1048.0,804.8 L1052.1,804.6 L1056.1,804.4 L1060.1,804.2 L1064.1,804.0 L1068.1,803.8 L1072.2,803.6 L1076.2,803.5 L1080.2,803.3 L1084.2,803.2 L1088.2,803.1 L1092.3,803.1 L1096.3,803.0 L1100.3,803.0 L1104.3,803.0 L1108.3,803.0 L1112.4,803.0 L1116.4,803.0 L1120.4,803.0 L1124.4,803.0 L1128.5,803.0 L1132.5,803.1 L1136.5,803.1 L1140.5,803.1 L1144.6,803.1 L1148.6,803.1 L1152.6,803.1 L1156.6,803.2 L1160.7,803.2 L1164.7,803.2 L1168.7,803.2 L1172.7,803.2 L1176.7,803.3 L1180.8,803.3 L1184.8,803.3 L1188.8,803.4 L1192.8,803.5 L1196.9,803.5 L1200.9,803.6 L1204.9,803.7 L1208.9,803.8 L1212.9,803.9 L1217.0,804.0 L1221.0,804.1 L1225.0,804.2 L1229.0,804.4 L1233.1,804.5 L1237.1,804.6 L1241.1,804.7 L1245.1,804.9 L1249.1,805.0 L1253.2,805.1 L1257.2,805.2 L1261.2,805.4 L1265.2,805.5 L1269.2,805.7 L1273.3,805.8 L1277.3,806.0 L1281.3,806.1 L1285.3,806.3 L1289.3,806.5 L1293.4,806.6 L1297.4,806.8 L1301.4,807.0 L1305.4,807.2 L1309.4,807.4 L1313.5,807.6 L1317.5,807.8 L1321.5,808.0" stroke="#d470c6" stroke-dasharray="74,9,4,7.5,4,7.5,4,8"/>
<path d="M639.4,1283.5 L642.2,1280.6 L645.0,1277.6 L647.7,1274.6 L650.4,1271.6 L652.9,1268.5 L655.4,1265.3 L657.8,1262.1 L660.1,1258.8 L662.2,1255.4 L664.3,1252.0 L666.3,1248.5 L668.3,1245.0 L670.3,1241.4 L672.3,1237.9 L674.3,1234.4 L676.3,1230.9 L678.4,1227.4 L680.6,1224.1 L682.9,1220.7 L685.2,1217.4 L687.5,1214.1 L689.8,1210.8 L692.2,1207.5 L694.6,1204.3 L697.1,1201.1 L699.6,1198.0 L702.2,1194.9 L704.8,1191.8 L707.5,1188.8 L710.2,1185.8 L712.9,1182.9 L715.7,1179.9 L718.4,1177.0 L721.2,1174.0 L723.9,1171.0 L726.5,1167.9 L729.2,1164.9 L731.8,1161.8 L734.4,1158.8 L737.1,1155.7 L739.7,1152.7 L742.4,1149.6 L745.0,1146.6 L747.8,1143.7 L750.5,1140.7 L753.3,1137.8 L756.0,1134.8 L758.8,1131.9 L761.7,1129.0 L764.5,1126.2 L767.4,1123.3 L770.3,1120.5 L773.3,1117.8 L776.3,1115.1 L779.3,1112.5 L782.4,1110.0 L785.6,1107.4 L788.8,1105.0 L792.0,1102.5 L795.2,1100.1 L798.4,1097.7 L801.7,1095.3 L804.9,1092.9 L808.2,1090.6 L811.5,1088.2 L814.8,1085.9 L818.2,1083.7 L821.5,1081.4 L824.9,1079.2 L828.2,1076.9 L831.6,1074.7 L835.0,1072.5 L838.4,1070.3 L841.7,1068.1 L845.1,1066.0 L848.6,1063.8 L852.0,1061.7 L855.4,1059.6 L858.9,1057.6 L862.4,1055.6 L865.9,1053.6 L869.4,1051.6 L873.0,1049.7 L876.5,1047.8 L880.1,1045.9 L883.7,1044.0 L887.3,1042.2 L890.9,1040.5 L894.6,1038.7 L898.2,1037.0 L901.9,1035.4 L905.6,1033.8 L909.3,1032.2 L913.0,1030.7 L916.8,1029.2 L920.5,1027.7 L924.3,1026.2 L928.1,1024.8 L931.9,1023.4 L935.7,1022.0 L939.5,1020.7 L943.3,1019.3 L947.1,1018.0 L950.9,1016.8 L954.7,1015.5 L958.6,1014.3 L962.4,1013.0 L966.3,1011.8 L970.1,1010.7 L974.0,1009.5 L977.9,1008.4 L981.8,1007.3 L985.6,1006.2 L989.5,1005.2 L993.4,1004.1 L997.3,1003.2 L1001.3,1002.2 L1005.2,1001.3 L1009.1,1000.4 L1013.0,999.5 L1017.0,998.6 L1020.9,997.8 L1024.9,997.0 L1028.8,996.2 L1032.8,995.4 L1036.8,994.6 L1040.7,993.9 L1044.7,993.1 L1048.6,992.4 L1052.6,991.7 L1056.6,991.0 L1060.6,990.2 L1064.5,989.6 L1068.5,988.9 L1072.5,988.2 L1076.5,987.5 L1080.5,986.9 L1084.4,986.3 L1088.4,985.7 L1092.4,985.1 L1096.4,984.6 L1100.4,984.0 L1104.4,983.5 L1108.4,983.0 L1112.4,982.6 L1116.4,982.1 L1120.4,981.7 L1124.4,981.3 L1128.4,980.8 L1132.5,980.4 L1136.5,980.1 L1140.5,979.7 L1144.5,979.3 L1148.5,978.9 L1152.5,978.5 L1156.5,978.1 L1160.6,977.7 L1164.6,977.4 L1168.6,977.0 L1172.6,976.6 L1176.6,976.2 L1180.6,975.9 L1184.7,975.5 L1188.7,975.2 L1192.7,974.8 L1196.7,974.5 L1200.7,974.2 L1204.7,973.8 L1208.8,973.5 L1212.8,973.2 L1216.8,972.9 L1220.8,972.6 L1224.9,972.4 L1228.9,972.1 L1232.9,971.8 L1236.9,971.6 L1241.0,971.3 L1245.0,971.1 L1249.0,970.8 L1253.0,970.6 L1257.1,970.4 L1261.1,970.2 L1265.1,969.9 L1269.1,969.7 L1273.2,969.5 L1277.2,969.3 L1281.2,969.1 L1285.2,968.9 L1289.3,968.7 L1293.3,968.5 L1297.3,968.3 L1301.4,968.1 L1305.4,968.0 L1309.4,967.8 L1313.4,967.6 L1317.5,967.5 L1321.5,967.3" stroke="#008552" stroke-dasharray="29.6,15.2,29.6,15.2,3.8,5,3.8,7.8" stroke-dashoffset="-7"/>
<path d="M1010.5,1283.5 L1013.5,1280.8 L1016.6,1278.1 L1019.7,1275.4 L1022.7,1272.7 L1025.8,1270.0 L1028.9,1267.3 L1032.0,1264.7 L1035.1,1262.0 L1038.2,1259.4 L1041.3,1256.7 L1044.5,1254.1 L1047.6,1251.5 L1050.7,1248.9 L1053.9,1246.3 L1057.0,1243.7 L1060.2,1241.1 L1063.4,1238.6 L1066.6,1236.0 L1069.8,1233.5 L1073.0,1230.9 L1076.2,1228.4 L1079.4,1225.9 L1082.6,1223.4 L1085.8,1220.9 L1089.1,1218.4 L1092.3,1215.9 L1095.5,1213.4 L1098.8,1210.9 L1102.0,1208.5 L1105.3,1206.0 L1108.5,1203.5 L1111.8,1201.0 L1115.1,1198.6 L1118.3,1196.1 L1121.6,1193.7 L1124.9,1191.2 L1128.2,1188.8 L1131.5,1186.4 L1134.8,1184.0 L1138.2,1181.7 L1141.5,1179.4 L1144.9,1177.1 L1148.3,1174.9 L1151.7,1172.7 L1155.2,1170.5 L1158.6,1168.4 L1162.1,1166.3 L1165.7,1164.2 L1169.2,1162.2 L1172.7,1160.2 L1176.3,1158.2 L1179.9,1156.2 L1183.5,1154.2 L1187.0,1152.2 L1190.6,1150.2 L1194.2,1148.2 L1197.8,1146.3 L1201.3,1144.3 L1204.9,1142.3 L1208.4,1140.2 L1212.0,1138.2 L1215.5,1136.2 L1219.1,1134.2 L1222.7,1132.2 L1226.2,1130.2 L1229.8,1128.3 L1233.4,1126.3 L1237.0,1124.4 L1240.6,1122.4 L1244.2,1120.5 L1247.8,1118.6 L1251.4,1116.8 L1255.1,1114.9 L1258.7,1113.1 L1262.3,1111.2 L1266.0,1109.4 L1269.6,1107.6 L1273.3,1105.8 L1277.0,1104.0 L1280.7,1102.2 L1284.3,1100.5 L1288.0,1098.7 L1291.7,1097.0 L1295.4,1095.2 L1299.1,1093.5 L1302.8,1091.8 L1306.6,1090.1 L1310.3,1088.5 L1314.0,1086.8 L1317.8,1085.1 L1321.5,1083.5" stroke="#c8c8c8" stroke-dasharray="74,7.5,5,7.5"/>
<path d="M1027.5,1283.5 L1031.3,1282.0 L1035.1,1280.5 L1038.9,1279.0 L1042.7,1277.6 L1046.6,1276.2 L1050.4,1274.9 L1054.3,1273.6 L1058.1,1272.3 L1062.0,1271.1 L1065.9,1270.0 L1069.8,1268.9 L1073.7,1267.8 L1077.6,1266.9 L1081.5,1265.9 L1085.5,1265.1 L1089.5,1264.2 L1093.5,1263.4 L1097.4,1262.7 L1101.4,1261.9 L1105.5,1261.2 L1109.5,1260.4 L1113.5,1259.7 L1117.5,1259.0 L1121.5,1258.2 L1125.5,1257.4 L1129.4,1256.6 L1133.4,1255.8 L1137.4,1255.0 L1141.4,1254.2 L1145.4,1253.4 L1149.3,1252.6 L1153.3,1251.8 L1157.3,1251.0 L1161.3,1250.1 L1165.3,1249.3 L1169.3,1248.6 L1173.2,1247.8 L1177.2,1247.0 L1181.2,1246.2 L1185.2,1245.4 L1189.2,1244.7 L1193.2,1243.9 L1197.2,1243.2 L1201.2,1242.4 L1205.2,1241.7 L1209.2,1240.9 L1213.2,1240.2 L1217.2,1239.5 L1221.2,1238.7 L1225.2,1238.0 L1229.2,1237.3 L1233.2,1236.6 L1237.2,1235.9 L1241.2,1235.2 L1245.2,1234.6 L1249.2,1233.9 L1253.2,1233.2 L1257.2,1232.6 L1261.2,1231.9 L1265.2,1231.3 L1269.2,1230.7 L1273.2,1230.0 L1277.3,1229.4 L1281.3,1228.8 L1285.3,1228.2 L1289.3,1227.6 L1293.3,1227.0 L1297.4,1226.4 L1301.4,1225.8 L1305.4,1225.2 L1309.4,1224.7 L1313.4,1224.1 L1317.5,1223.5 L1321.5,1223.0" stroke="#909090" stroke-dasharray="74,7.5,5,7.5"/>
<path d="M320.5,1216.0 L324.1,1217.9 L327.8,1219.8 L331.4,1221.7 L335.1,1223.6 L338.7,1225.5 L342.4,1227.3 L346.0,1229.2 L349.7,1231.1 L353.3,1232.9 L357.0,1234.8 L360.7,1236.6 L364.3,1238.5 L368.0,1240.3 L371.7,1242.1 L375.4,1243.9 L379.0,1245.8 L382.7,1247.6 L386.4,1249.5 L390.0,1251.4 L393.6,1253.3 L397.3,1255.3 L400.9,1257.1 L404.6,1259.0 L408.3,1260.7 L412.1,1262.3 L415.8,1263.8 L419.7,1265.3 L423.5,1266.7 L427.4,1268.1 L431.3,1269.4 L435.2,1270.7 L439.1,1271.9 L443.1,1273.1 L447.0,1274.2 L451.0,1275.3 L455.0,1276.2 L459.0,1277.1 L463.0,1278.0 L467.0,1278.8 L471.0,1279.7 L475.0,1280.7 L479.0,1281.6 L483.0,1282.5 L487.0,1283.5" stroke="#ff2a00" stroke-dasharray="30.4,14.05"/>
<path d="M765.0,1283.5 L768.9,1282.0 L772.8,1280.5 L776.8,1279.2 L780.8,1278.1 L784.8,1276.9 L788.9,1275.9 L793.0,1275.0 L797.1,1274.4 L801.2,1274.1 L805.4,1273.9 L809.6,1273.7 L813.8,1273.6 L817.9,1273.5 L822.1,1273.5 L826.3,1273.5 L830.5,1273.5 L834.6,1273.5 L838.8,1273.5 L843.0,1273.5 L847.2,1273.5 L851.3,1273.5 L855.5,1273.5 L859.7,1273.6 L863.9,1273.7 L868.0,1273.8 L872.2,1273.9 L876.4,1274.1 L880.6,1274.3 L884.7,1274.6 L888.9,1275.1 L893.0,1275.6 L897.2,1276.1 L901.3,1276.7 L905.4,1277.4 L909.5,1278.2 L913.6,1279.1 L917.7,1280.0 L921.8,1280.9 L925.8,1281.7 L929.9,1282.6 L934.0,1283.5" stroke="#000" stroke-dasharray="74,7.5,5,7.5"/>
</g>
<g clip-path="url(#c3)" fill="none" stroke-width="7" shape-rendering="crispEdges">
<path d="M1321.5,727.0 L1325.5,726.9 L1329.5,726.8 L1333.6,726.7 L1337.6,726.7 L1341.6,726.6 L1345.6,726.5 L1349.6,726.4 L1353.7,726.4 L1357.7,726.3 L1361.7,726.3 L1365.7,726.3 L1369.8,726.3 L1373.8,726.3 L1377.8,726.3 L1381.8,726.3 L1385.8,726.3 L1389.9,726.3 L1393.9,726.3 L1397.9,726.3 L1401.9,726.4 L1405.9,726.4 L1410.0,726.4 L1414.0,726.5 L1418.0,726.5 L1422.0,726.6 L1426.0,726.6 L1430.1,726.7 L1434.1,726.8 L1438.1,726.8 L1442.1,726.9 L1446.2,727.0 L1450.2,727.0 L1454.2,727.1 L1458.2,727.2 L1462.2,727.3 L1466.3,727.3 L1470.3,727.4 L1474.3,727.5 L1478.3,727.6 L1482.3,727.7 L1486.4,727.8 L1490.4,727.9 L1494.4,728.0 L1498.4,728.1 L1502.4,728.3 L1506.5,728.4 L1510.5,728.6 L1514.5,728.8 L1518.5,729.0 L1522.5,729.1 L1526.5,729.3 L1530.6,729.5 L1534.6,729.7 L1538.6,729.9 L1542.6,730.1 L1546.6,730.3 L1550.6,730.5 L1554.7,730.8 L1558.7,731.0 L1562.7,731.2 L1566.7,731.5 L1570.7,731.8 L1574.7,732.0 L1578.7,732.3 L1582.7,732.6 L1586.8,732.9 L1590.8,733.3 L1594.8,733.6 L1598.8,733.9 L1602.8,734.3 L1606.8,734.6 L1610.8,735.0 L1614.8,735.3 L1618.8,735.7 L1622.8,736.0 L1626.8,736.4 L1630.8,736.8 L1634.8,737.2 L1638.8,737.6 L1642.8,738.0 L1646.8,738.5 L1650.8,738.9 L1654.8,739.4 L1658.8,739.8 L1662.8,740.3 L1666.8,740.8 L1670.8,741.3 L1674.8,741.8 L1678.8,742.3 L1682.8,742.8 L1686.7,743.3 L1690.7,743.8 L1694.7,744.3 L1698.7,744.8 L1702.7,745.4 L1706.7,745.9 L1710.7,746.4 L1714.6,747.0 L1718.6,747.6 L1722.6,748.1 L1726.6,748.7 L1730.6,749.3 L1734.5,749.9 L1738.5,750.5 L1742.5,751.1 L1746.5,751.7 L1750.4,752.3 L1754.4,753.0 L1758.4,753.6 L1762.4,754.2 L1766.3,754.9 L1770.3,755.5 L1774.3,756.1 L1778.2,756.8 L1782.2,757.4 L1786.2,758.1 L1790.1,758.8 L1794.1,759.4 L1798.1,760.1 L1802.0,760.8 L1806.0,761.5 L1809.9,762.2 L1813.9,762.9 L1817.9,763.6 L1821.8,764.3 L1825.8,765.0 L1829.7,765.8 L1833.7,766.5 L1837.6,767.2 L1841.6,767.9 L1845.6,768.6 L1849.5,769.4 L1853.5,770.1 L1857.4,770.8 L1861.4,771.5 L1865.3,772.2 L1869.3,772.9 L1873.3,773.7 L1877.2,774.4 L1881.2,775.1 L1885.1,775.8 L1889.1,776.4 L1893.1,777.1 L1897.0,777.8 L1901.0,778.5 L1905.0,779.2 L1908.9,779.9 L1912.9,780.6 L1916.8,781.3 L1920.8,782.0 L1924.8,782.6 L1928.7,783.3 L1932.7,784.0 L1936.6,784.7 L1940.6,785.4 L1944.6,786.1 L1948.5,786.8 L1952.5,787.4 L1956.5,788.1 L1960.4,788.8 L1964.4,789.5 L1968.4,790.1 L1972.3,790.8 L1976.3,791.5 L1980.3,792.1 L1984.2,792.8 L1988.2,793.5 L1992.2,794.1 L1996.1,794.8 L2000.1,795.4 L2004.1,796.1 L2008.0,796.7 L2012.0,797.3 L2016.0,798.0 L2019.9,798.6 L2023.9,799.2 L2027.9,799.9 L2031.9,800.5 L2035.8,801.1 L2039.8,801.7 L2043.8,802.3 L2047.8,802.9 L2051.7,803.5 L2055.7,804.1 L2059.7,804.7 L2063.7,805.3 L2067.6,805.9 L2071.6,806.5 L2075.6,807.1 L2079.6,807.7 L2083.5,808.3 L2087.5,808.9 L2091.5,809.5 L2095.5,810.1 L2099.5,810.7 L2103.4,811.2 L2107.4,811.8 L2111.4,812.4 L2115.4,813.0 L2119.4,813.6 L2123.3,814.1 L2127.3,814.7 L2131.3,815.3 L2135.3,815.9 L2139.3,816.4 L2143.2,817.0 L2147.2,817.6 L2151.2,818.1 L2155.2,818.7 L2159.2,819.3 L2163.1,819.9 L2167.1,820.4 L2171.1,821.0 L2175.1,821.6 L2179.1,822.1 L2183.0,822.7 L2187.0,823.2 L2191.0,823.8 L2195.0,824.4 L2199.0,824.9 L2203.0,825.5 L2206.9,826.0 L2210.9,826.6 L2214.9,827.2 L2218.9,827.7 L2222.9,828.3 L2226.9,828.8 L2230.8,829.4 L2234.8,829.9 L2238.8,830.5 L2242.8,831.0 L2246.8,831.6 L2250.8,832.1 L2254.7,832.6 L2258.7,833.2 L2262.7,833.7 L2266.7,834.3 L2270.7,834.8 L2274.7,835.3 L2278.6,835.9 L2282.6,836.4 L2286.6,837.0 L2290.6,837.5 L2294.6,838.0 L2298.6,838.5 L2302.6,839.1 L2306.6,839.6 L2310.5,840.1 L2314.5,840.7 L2318.5,841.2 L2322.5,841.7" stroke="#0033ff"/>
<path d="M1321.5,792.0 L1325.5,792.0 L1329.5,792.1 L1333.6,792.1 L1337.6,792.1 L1341.6,792.2 L1345.6,792.2 L1349.6,792.2 L1353.7,792.3 L1357.7,792.3 L1361.7,792.4 L1365.7,792.4 L1369.7,792.4 L1373.8,792.5 L1377.8,792.5 L1381.8,792.5 L1385.8,792.6 L1389.9,792.6 L1393.9,792.6 L1397.9,792.7 L1401.9,792.7 L1405.9,792.7 L1410.0,792.7 L1414.0,792.8 L1418.0,792.8 L1422.0,792.8 L1426.0,792.9 L1430.1,792.9 L1434.1,792.9 L1438.1,793.0 L1442.1,793.0 L1446.1,793.0 L1450.2,793.1 L1454.2,793.1 L1458.2,793.1 L1462.2,793.2 L1466.3,793.2 L1470.3,793.2 L1474.3,793.2 L1478.3,793.3 L1482.3,793.3 L1486.4,793.3 L1490.4,793.4 L1494.4,793.4 L1498.4,793.4 L1502.4,793.4 L1506.5,793.5 L1510.5,793.5 L1514.5,793.5 L1518.5,793.6 L1522.5,793.6 L1526.6,793.6 L1530.6,793.6 L1534.6,793.7 L1538.6,793.7 L1542.6,793.7 L1546.7,793.7 L1550.7,793.8 L1554.7,793.8 L1558.7,793.8 L1562.8,793.8 L1566.8,793.9 L1570.8,793.9 L1574.8,793.9 L1578.8,793.9 L1582.9,794.0 L1586.9,794.0 L1590.9,794.0 L1594.9,794.1 L1598.9,794.1 L1603.0,794.1 L1607.0,794.1 L1611.0,794.2 L1615.0,794.2 L1619.0,794.2 L1623.1,794.2 L1627.1,794.3 L1631.1,794.3 L1635.1,794.3 L1639.1,794.3 L1643.2,794.4 L1647.2,794.4 L1651.2,794.4 L1655.2,794.4 L1659.3,794.5 L1663.3,794.5 L1667.3,794.5 L1671.3,794.5 L1675.3,794.6 L1679.4,794.6 L1683.4,794.6 L1687.4,794.7 L1691.4,794.7 L1695.4,794.7 L1699.5,794.7 L1703.5,794.8 L1707.5,794.8 L1711.5,794.8 L1715.5,794.8 L1719.6,794.9 L1723.6,794.9 L1727.6,794.9 L1731.6,794.9 L1735.6,795.0 L1739.7,795.0 L1743.7,795.0 L1747.7,795.1 L1751.7,795.1 L1755.8,795.1 L1759.8,795.1 L1763.8,795.2 L1767.8,795.2 L1771.8,795.2 L1775.9,795.3 L1779.9,795.3 L1783.9,795.3 L1787.9,795.3 L1791.9,795.4 L1796.0,795.4 L1800.0,795.4 L1804.0,795.5 L1808.0,795.5 L1812.0,795.5 L1816.1,795.6 L1820.1,795.6 L1824.1,795.6 L1828.1,795.6 L1832.2,795.7 L1836.2,795.7 L1840.2,795.7 L1844.2,795.8 L1848.2,795.8 L1852.3,795.9 L1856.3,795.9 L1860.3,795.9 L1864.3,796.0 L1868.3,796.0 L1872.4,796.1 L1876.4,796.1 L1880.4,796.2 L1884.4,796.2 L1888.4,796.3 L1892.5,796.3 L1896.5,796.4 L1900.5,796.4 L1904.5,796.5 L1908.5,796.6 L1912.6,796.7 L1916.6,796.7 L1920.6,796.8 L1924.6,796.9 L1928.6,797.0 L1932.7,797.1 L1936.7,797.2 L1940.7,797.3 L1944.7,797.4 L1948.7,797.5 L1952.8,797.6 L1956.8,797.7 L1960.8,797.8 L1964.8,797.9 L1968.8,798.0 L1972.9,798.1 L1976.9,798.3 L1980.9,798.4 L1984.9,798.5 L1988.9,798.6 L1993.0,798.7 L1997.0,798.8 L2001.0,798.9 L2005.0,799.0 L2009.0,799.1 L2013.1,799.3 L2017.1,799.4 L2021.1,799.5 L2025.1,799.6 L2029.1,799.7 L2033.2,799.8 L2037.2,799.9 L2041.2,800.0 L2045.2,800.1 L2049.2,800.3 L2053.2,800.4 L2057.3,800.5 L2061.3,800.6 L2065.3,800.7 L2069.3,800.8 L2073.3,801.0 L2077.4,801.1 L2081.4,801.2 L2085.4,801.3 L2089.4,801.5 L2093.4,801.6 L2097.5,801.7 L2101.5,801.8 L2105.5,802.0 L2109.5,802.1 L2113.5,802.2 L2117.6,802.3 L2121.6,802.5 L2125.6,802.6 L2129.6,802.7 L2133.6,802.9 L2137.7,803.0 L2141.7,803.1 L2145.7,803.3 L2149.7,803.4 L2153.7,803.5 L2157.7,803.7 L2161.8,803.8 L2165.8,804.0 L2169.8,804.1 L2173.8,804.2 L2177.8,804.4 L2181.9,804.5 L2185.9,804.7 L2189.9,804.8 L2193.9,805.0 L2197.9,805.1 L2201.9,805.3 L2206.0,805.5 L2210.0,805.6 L2214.0,805.8 L2218.0,805.9 L2222.0,806.1 L2226.1,806.2 L2230.1,806.4 L2234.1,806.5 L2238.1,806.7 L2242.1,806.8 L2246.1,807.0 L2250.2,807.1 L2254.2,807.3 L2258.2,807.4 L2262.2,807.6 L2266.2,807.7 L2270.3,807.9 L2274.3,808.0 L2278.3,808.1 L2282.3,808.3 L2286.3,808.4 L2290.3,808.5 L2294.4,808.7 L2298.4,808.8 L2302.4,808.9 L2306.4,809.1 L2310.4,809.2 L2314.5,809.3 L2318.5,809.4 L2322.5,809.5" stroke="#7322b2" stroke-dasharray="15.6,14.03"/>
<path d="M1321.5,794.2 L1325.5,794.3 L1329.5,794.3 L1333.6,794.3 L1337.6,794.3 L1341.6,794.3 L1345.6,794.3 L1349.7,794.3 L1353.7,794.3 L1357.7,794.3 L1361.7,794.3 L1365.7,794.3 L1369.8,794.3 L1373.8,794.4 L1377.8,794.4 L1381.8,794.4 L1385.9,794.4 L1389.9,794.4 L1393.9,794.5 L1397.9,794.5 L1401.9,794.5 L1406.0,794.5 L1410.0,794.5 L1414.0,794.6 L1418.0,794.6 L1422.1,794.6 L1426.1,794.6 L1430.1,794.7 L1434.1,794.7 L1438.1,794.7 L1442.2,794.8 L1446.2,794.8 L1450.2,794.8 L1454.2,794.8 L1458.3,794.9 L1462.3,794.9 L1466.3,794.9 L1470.3,795.0 L1474.3,795.0 L1478.4,795.0 L1482.4,795.1 L1486.4,795.1 L1490.4,795.2 L1494.5,795.2 L1498.5,795.3 L1502.5,795.3 L1506.5,795.4 L1510.5,795.4 L1514.6,795.5 L1518.6,795.6 L1522.6,795.6 L1526.6,795.7 L1530.6,795.8 L1534.7,795.9 L1538.7,796.0 L1542.7,796.0 L1546.7,796.1 L1550.8,796.2 L1554.8,796.3 L1558.8,796.4 L1562.8,796.5 L1566.8,796.6 L1570.9,796.7 L1574.9,796.8 L1578.9,796.9 L1582.9,797.0 L1586.9,797.1 L1591.0,797.2 L1595.0,797.3 L1599.0,797.4 L1603.0,797.5 L1607.1,797.6 L1611.1,797.7 L1615.1,797.8 L1619.1,797.9 L1623.1,798.0 L1627.2,798.1 L1631.2,798.1 L1635.2,798.2 L1639.2,798.3 L1643.2,798.4 L1647.3,798.5 L1651.3,798.7 L1655.3,798.8 L1659.3,798.9 L1663.3,799.0 L1667.4,799.1 L1671.4,799.2 L1675.4,799.3 L1679.4,799.4 L1683.5,799.5 L1687.5,799.6 L1691.5,799.7 L1695.5,799.9 L1699.5,800.0 L1703.6,800.1 L1707.6,800.2 L1711.6,800.3 L1715.6,800.5 L1719.6,800.6 L1723.7,800.7 L1727.7,800.9 L1731.7,801.0 L1735.7,801.1 L1739.7,801.2 L1743.8,801.4 L1747.8,801.5 L1751.8,801.7 L1755.8,801.8 L1759.8,801.9 L1763.9,802.1 L1767.9,802.2 L1771.9,802.4 L1775.9,802.5 L1779.9,802.7 L1784.0,802.9 L1788.0,803.0 L1792.0,803.2 L1796.0,803.4 L1800.0,803.6 L1804.0,803.7 L1808.1,803.9 L1812.1,804.1 L1816.1,804.3 L1820.1,804.5 L1824.1,804.7 L1828.1,804.9 L1832.2,805.1 L1836.2,805.4 L1840.2,805.6 L1844.2,805.8 L1848.2,806.0 L1852.2,806.2 L1856.3,806.4 L1860.3,806.6 L1864.3,806.8 L1868.3,807.0 L1872.3,807.2 L1876.4,807.4 L1880.4,807.6 L1884.4,807.8 L1888.4,808.0 L1892.4,808.2 L1896.4,808.4 L1900.5,808.6 L1904.5,808.8 L1908.5,809.0 L1912.5,809.2 L1916.5,809.4 L1920.5,809.5 L1924.6,809.7 L1928.6,809.9 L1932.6,810.1 L1936.6,810.3 L1940.6,810.5 L1944.7,810.7 L1948.7,810.9 L1952.7,811.0 L1956.7,811.2 L1960.7,811.4 L1964.7,811.6 L1968.8,811.8 L1972.8,812.0 L1976.8,812.2 L1980.8,812.3 L1984.8,812.5 L1988.9,812.7 L1992.9,812.9 L1996.9,813.1 L2000.9,813.2 L2004.9,813.4 L2008.9,813.6 L2013.0,813.7 L2017.0,813.9 L2021.0,814.1 L2025.0,814.3 L2029.0,814.4 L2033.1,814.6 L2037.1,814.8 L2041.1,815.0 L2045.1,815.1 L2049.1,815.3 L2053.1,815.5 L2057.2,815.6 L2061.2,815.8 L2065.2,816.0 L2069.2,816.1 L2073.2,816.3 L2077.3,816.5 L2081.3,816.6 L2085.3,816.8 L2089.3,817.0 L2093.3,817.1 L2097.4,817.3 L2101.4,817.4 L2105.4,817.6 L2109.4,817.7 L2113.4,817.9 L2117.5,818.0 L2121.5,818.2 L2125.5,818.3 L2129.5,818.5 L2133.5,818.6 L2137.6,818.7 L2141.6,818.9 L2145.6,819.0 L2149.6,819.1 L2153.6,819.3 L2157.7,819.4 L2161.7,819.5 L2165.7,819.6 L2169.7,819.8 L2173.7,819.9 L2177.8,820.0 L2181.8,820.1 L2185.8,820.3 L2189.8,820.4 L2193.8,820.5 L2197.9,820.6 L2201.9,820.7 L2205.9,820.8 L2209.9,821.0 L2213.9,821.1 L2218.0,821.2 L2222.0,821.3 L2226.0,821.4 L2230.0,821.5 L2234.0,821.6 L2238.1,821.7 L2242.1,821.8 L2246.1,822.0 L2250.1,822.1 L2254.1,822.2 L2258.2,822.3 L2262.2,822.4 L2266.2,822.5 L2270.2,822.6 L2274.2,822.7 L2278.3,822.8 L2282.3,822.9 L2286.3,823.0 L2290.3,823.1 L2294.4,823.2 L2298.4,823.4 L2302.4,823.5 L2306.4,823.6 L2310.4,823.7 L2314.5,823.8 L2318.5,823.9 L2322.5,824.0" stroke="#6cc06c" stroke-dasharray="30.4,14.05"/>
<path d="M1640.0,1283.5 L1642.6,1280.5 L1645.3,1277.4 L1647.9,1274.4 L1650.6,1271.3 L1653.2,1268.3 L1655.8,1265.3 L1658.5,1262.2 L1661.1,1259.1 L1663.7,1256.1 L1666.3,1253.0 L1668.9,1249.9 L1671.5,1246.8 L1674.1,1243.7 L1676.6,1240.6 L1679.2,1237.6 L1681.8,1234.5 L1684.4,1231.4 L1687.1,1228.4 L1689.7,1225.3 L1692.4,1222.3 L1695.1,1219.3 L1697.8,1216.3 L1700.5,1213.4 L1703.2,1210.4 L1706.0,1207.4 L1708.7,1204.5 L1711.5,1201.6 L1714.2,1198.6 L1717.0,1195.7 L1719.8,1192.8 L1722.6,1189.9 L1725.4,1187.1 L1728.3,1184.2 L1731.1,1181.4 L1734.0,1178.5 L1736.8,1175.7 L1739.7,1172.9 L1742.6,1170.1 L1745.5,1167.3 L1748.4,1164.5 L1751.3,1161.7 L1754.2,1158.9 L1757.2,1156.2 L1760.1,1153.4 L1763.0,1150.6 L1765.8,1147.8 L1768.7,1145.0 L1771.6,1142.1 L1774.5,1139.3 L1777.4,1136.5 L1780.3,1133.7 L1783.2,1130.9 L1786.1,1128.1 L1789.0,1125.3 L1791.9,1122.6 L1794.8,1119.8 L1797.8,1117.1 L1800.7,1114.3 L1803.7,1111.6 L1806.7,1108.9 L1809.7,1106.2 L1812.7,1103.6 L1815.7,1100.9 L1818.8,1098.2 L1821.8,1095.6 L1824.8,1093.0 L1827.9,1090.3 L1831.0,1087.7 L1834.0,1085.1 L1837.1,1082.5 L1840.1,1079.9 L1843.2,1077.3 L1846.3,1074.6 L1849.3,1072.0 L1852.4,1069.4 L1855.5,1066.8 L1858.6,1064.2 L1861.6,1061.6 L1864.7,1059.0 L1867.8,1056.4 L1870.9,1053.8 L1874.1,1051.3 L1877.2,1048.8 L1880.4,1046.3 L1883.5,1043.9 L1886.8,1041.4 L1890.0,1039.0 L1893.2,1036.7 L1896.5,1034.4 L1899.8,1032.1 L1903.1,1029.8 L1906.5,1027.6 L1909.8,1025.3 L1913.2,1023.1 L1916.6,1020.9 L1920.0,1018.7 L1923.3,1016.5 L1926.7,1014.3 L1930.1,1012.1 L1933.5,1009.9 L1936.9,1007.7 L1940.2,1005.5 L1943.6,1003.3 L1947.0,1001.1 L1950.3,998.8 L1953.7,996.6 L1957.0,994.3 L1960.4,992.1 L1963.8,989.9 L1967.1,987.7 L1970.5,985.5 L1973.9,983.3 L1977.3,981.2 L1980.8,979.2 L1984.3,977.1 L1987.7,975.1 L1991.3,973.2 L1994.8,971.3 L1998.3,969.4 L2001.9,967.6 L2005.5,965.8 L2009.1,964.0 L2012.8,962.3 L2016.4,960.5 L2020.1,958.8 L2023.7,957.1 L2027.4,955.4 L2031.0,953.7 L2034.7,952.0 L2038.4,950.3 L2042.0,948.7 L2045.7,947.0 L2049.4,945.3 L2053.0,943.7 L2056.7,942.1 L2060.4,940.5 L2064.1,938.9 L2067.8,937.3 L2071.5,935.7 L2075.2,934.1 L2079.0,932.6 L2082.7,931.1 L2086.4,929.6 L2090.2,928.1 L2093.9,926.7 L2097.7,925.3 L2101.5,923.9 L2105.2,922.5 L2109.0,921.1 L2112.8,919.7 L2116.6,918.4 L2120.4,917.0 L2124.2,915.7 L2128.0,914.4 L2131.8,913.1 L2135.7,911.8 L2139.5,910.5 L2143.3,909.2 L2147.1,907.9 L2150.9,906.7 L2154.8,905.4 L2158.6,904.2 L2162.4,902.9 L2166.3,901.7 L2170.1,900.5 L2173.9,899.2 L2177.8,898.0 L2181.6,896.8 L2185.5,895.7 L2189.3,894.5 L2193.2,893.4 L2197.1,892.2 L2200.9,891.1 L2204.8,890.0 L2208.7,888.9 L2212.5,887.9 L2216.4,886.8 L2220.3,885.7 L2224.2,884.7 L2228.1,883.6 L2232.0,882.6 L2235.9,881.6 L2239.8,880.6 L2243.7,879.6 L2247.6,878.6 L2251.5,877.7 L2255.4,876.8 L2259.4,875.8 L2263.3,874.9 L2267.2,874.1 L2271.1,873.2 L2275.1,872.3 L2279.0,871.5 L2282.9,870.6 L2286.9,869.8 L2290.8,869.0 L2294.8,868.2 L2298.7,867.4 L2302.7,866.6 L2306.6,865.9 L2310.6,865.1 L2314.6,864.4 L2318.5,863.7 L2322.5,863.0" stroke="#00ffff" stroke-dasharray="29.6,15.2,29.6,15.2,3.8,5,3.8,7.8" stroke-dashoffset="-7"/>
<path d="M1321.5,934.2 L1325.5,934.2 L1329.5,934.2 L1333.6,934.2 L1337.6,934.2 L1341.6,934.2 L1345.6,934.2 L1349.6,934.2 L1353.6,934.1 L1357.7,934.1 L1361.7,934.1 L1365.7,934.1 L1369.7,934.0 L1373.7,934.0 L1377.8,934.0 L1381.8,933.9 L1385.8,933.9 L1389.8,933.9 L1393.8,933.8 L1397.8,933.8 L1401.9,933.7 L1405.9,933.7 L1409.9,933.6 L1413.9,933.6 L1417.9,933.5 L1421.9,933.4 L1426.0,933.3 L1430.0,933.2 L1434.0,933.1 L1438.0,933.0 L1442.0,932.9 L1446.0,932.7 L1450.1,932.6 L1454.1,932.5 L1458.1,932.3 L1462.1,932.2 L1466.1,932.1 L1470.1,931.9 L1474.1,931.8 L1478.2,931.6 L1482.2,931.5 L1486.2,931.3 L1490.2,931.1 L1494.2,930.9 L1498.2,930.7 L1502.2,930.5 L1506.3,930.3 L1510.3,930.1 L1514.3,929.8 L1518.3,929.6 L1522.3,929.3 L1526.3,929.1 L1530.3,928.8 L1534.3,928.6 L1538.3,928.3 L1542.4,928.0 L1546.4,927.8 L1550.4,927.5 L1554.4,927.2 L1558.4,926.9 L1562.4,926.6 L1566.4,926.3 L1570.4,925.9 L1574.4,925.6 L1578.4,925.2 L1582.4,924.9 L1586.4,924.5 L1590.4,924.1 L1594.4,923.8 L1598.4,923.4 L1602.4,923.0 L1606.4,922.6 L1610.4,922.2 L1614.4,921.8 L1618.4,921.4 L1622.4,921.0 L1626.4,920.6 L1630.4,920.2 L1634.4,919.8 L1638.4,919.4 L1642.4,919.0 L1646.4,918.5 L1650.4,918.1 L1654.4,917.7 L1658.4,917.2 L1662.4,916.8 L1666.3,916.4 L1670.3,915.9 L1674.3,915.5 L1678.3,915.0 L1682.3,914.5 L1686.3,914.1 L1690.3,913.6 L1694.3,913.2 L1698.3,912.7 L1702.3,912.2 L1706.3,911.8 L1710.3,911.3 L1714.2,910.8 L1718.2,910.3 L1722.2,909.8 L1726.2,909.4 L1730.2,908.9 L1734.2,908.4 L1738.2,907.9 L1742.2,907.4 L1746.1,906.9 L1750.1,906.4 L1754.1,905.9 L1758.1,905.4 L1762.1,904.9 L1766.1,904.4 L1770.1,903.9 L1774.0,903.4 L1778.0,902.9 L1782.0,902.4 L1786.0,901.8 L1790.0,901.3 L1794.0,900.8 L1798.0,900.3 L1801.9,899.7 L1805.9,899.2 L1809.9,898.7 L1813.9,898.1 L1817.9,897.6 L1821.9,897.0 L1825.8,896.5 L1829.8,896.0 L1833.8,895.4 L1837.8,894.9 L1841.8,894.4 L1845.8,893.8 L1849.7,893.3 L1853.7,892.8 L1857.7,892.3 L1861.7,891.8 L1865.7,891.3 L1869.7,890.8 L1873.7,890.4 L1877.6,889.9 L1881.6,889.4 L1885.6,889.0 L1889.6,888.6 L1893.6,888.2 L1897.6,887.7 L1901.6,887.3 L1905.6,886.9 L1909.6,886.5 L1913.6,886.1 L1917.6,885.8 L1921.6,885.4 L1925.6,885.0 L1929.6,884.6 L1933.6,884.3 L1937.6,883.9 L1941.6,883.5 L1945.6,883.2 L1949.6,882.8 L1953.6,882.5 L1957.6,882.1 L1961.6,881.8 L1965.6,881.4 L1969.6,881.1 L1973.6,880.7 L1977.6,880.4 L1981.6,880.1 L1985.6,879.7 L1989.6,879.4 L1993.7,879.1 L1997.7,878.8 L2001.7,878.4 L2005.7,878.1 L2009.7,877.8 L2013.7,877.4 L2017.7,877.1 L2021.7,876.8 L2025.7,876.5 L2029.7,876.1 L2033.7,875.8 L2037.7,875.5 L2041.7,875.2 L2045.7,874.9 L2049.7,874.5 L2053.7,874.2 L2057.7,873.9 L2061.7,873.6 L2065.7,873.3 L2069.8,873.0 L2073.8,872.7 L2077.8,872.4 L2081.8,872.0 L2085.8,871.8 L2089.8,871.5 L2093.8,871.2 L2097.8,870.9 L2101.8,870.6 L2105.8,870.3 L2109.8,870.0 L2113.8,869.8 L2117.8,869.5 L2121.9,869.2 L2125.9,869.0 L2129.9,868.7 L2133.9,868.5 L2137.9,868.3 L2141.9,868.0 L2145.9,867.8 L2149.9,867.6 L2153.9,867.3 L2157.9,867.1 L2161.9,866.9 L2166.0,866.6 L2170.0,866.4 L2174.0,866.2 L2178.0,866.0 L2182.0,865.8 L2186.0,865.5 L2190.0,865.3 L2194.0,865.1 L2198.1,864.9 L2202.1,864.7 L2206.1,864.5 L2210.1,864.3 L2214.1,864.1 L2218.1,863.9 L2222.1,863.7 L2226.1,863.5 L2230.2,863.3 L2234.2,863.1 L2238.2,862.9 L2242.2,862.7 L2246.2,862.5 L2250.2,862.3 L2254.2,862.1 L2258.2,862.0 L2262.3,861.8 L2266.3,861.6 L2270.3,861.4 L2274.3,861.3 L2278.3,861.1 L2282.3,860.9 L2286.4,860.8 L2290.4,860.6 L2294.4,860.5 L2298.4,860.3 L2302.4,860.2 L2306.4,860.0 L2310.4,859.9 L2314.5,859.8 L2318.5,859.6 L2322.5,859.5" stroke="#ff8800" stroke-dasharray="30.7,7.4,30.7,7.4,4.5,7.9"/>
<path d="M1321.5,1131.5 L1325.5,1130.8 L1329.5,1130.1 L1333.4,1129.4 L1337.4,1128.6 L1341.3,1127.7 L1345.3,1126.8 L1349.2,1125.9 L1353.1,1124.9 L1357.0,1123.9 L1360.9,1122.9 L1364.8,1121.9 L1368.6,1120.8 L1372.5,1119.6 L1376.4,1118.4 L1380.2,1117.1 L1384.0,1115.8 L1387.8,1114.4 L1391.5,1112.9 L1395.2,1111.3 L1398.8,1109.7 L1402.4,1107.9 L1405.9,1106.0 L1409.5,1104.0 L1413.0,1102.0 L1416.5,1099.9 L1419.9,1097.8 L1423.4,1095.7 L1426.8,1093.5 L1430.2,1091.4 L1433.7,1089.3 L1437.1,1087.1 L1440.5,1085.0 L1443.8,1082.7 L1447.2,1080.5 L1450.5,1078.2 L1453.8,1076.0 L1457.2,1073.7 L1460.5,1071.4 L1463.8,1069.1 L1467.1,1066.8 L1470.5,1064.6 L1473.8,1062.3 L1477.1,1060.0 L1480.4,1057.7 L1483.7,1055.3 L1487.0,1053.0 L1490.2,1050.6 L1493.3,1048.1 L1496.5,1045.5 L1499.5,1043.0 L1502.6,1040.3 L1505.6,1037.6 L1508.6,1034.9 L1511.5,1032.2 L1514.5,1029.5 L1517.5,1026.7 L1520.5,1024.0 L1523.5,1021.3 L1526.5,1018.7 L1529.5,1016.0 L1532.6,1013.4 L1535.6,1010.7 L1538.6,1008.1 L1541.7,1005.4 L1544.7,1002.8 L1547.8,1000.2 L1550.9,997.6 L1554.0,995.0 L1557.1,992.5 L1560.2,989.9 L1563.4,987.4 L1566.5,984.9 L1569.7,982.4 L1572.8,979.9 L1575.9,977.3 L1579.1,974.8 L1582.2,972.2 L1585.3,969.7 L1588.4,967.1 L1591.4,964.4 L1594.5,961.8 L1597.5,959.1 L1600.6,956.5 L1603.6,953.8 L1606.7,951.2 L1609.8,948.6 L1612.9,946.1 L1616.0,943.6 L1619.2,941.2 L1622.5,938.8 L1625.7,936.4 L1629.0,934.1 L1632.3,931.8 L1635.6,929.5 L1639.0,927.2 L1642.3,925.0 L1645.7,922.8 L1649.1,920.6 L1652.5,918.4 L1655.9,916.3 L1659.4,914.3 L1662.8,912.2 L1666.3,910.2 L1669.8,908.2 L1673.3,906.2 L1676.8,904.1 L1680.3,902.1 L1683.8,900.1 L1687.3,898.0 L1690.7,896.0 L1694.2,893.9 L1697.7,891.9 L1701.2,889.9 L1704.7,887.9 L1708.2,886.0 L1711.8,884.1 L1715.4,882.3 L1719.0,880.5 L1722.6,878.8 L1726.3,877.2 L1730.0,875.6 L1733.7,874.0 L1737.4,872.5 L1741.2,871.0 L1744.9,869.5 L1748.7,868.0 L1752.5,866.6 L1756.2,865.1 L1760.0,863.7 L1763.8,862.3 L1767.6,860.9 L1771.4,859.6 L1775.2,858.3 L1779.0,857.0 L1782.8,855.7 L1786.6,854.5 L1790.5,853.3 L1794.3,852.1 L1798.2,850.9 L1802.0,849.7 L1805.9,848.6 L1809.8,847.4 L1813.7,846.3 L1817.5,845.3 L1821.4,844.2 L1825.3,843.2 L1829.2,842.1 L1833.1,841.2 L1837.0,840.2 L1841.0,839.3 L1844.9,838.4 L1848.8,837.5 L1852.7,836.6 L1856.7,835.7 L1860.6,834.9 L1864.6,834.0 L1868.5,833.2 L1872.5,832.4 L1876.4,831.7 L1880.4,830.9 L1884.4,830.2 L1888.3,829.5 L1892.3,828.8 L1896.3,828.2 L1900.2,827.5 L1904.2,826.9 L1908.2,826.4 L1912.2,825.8 L1916.2,825.3 L1920.2,824.8 L1924.2,824.3 L1928.2,823.8 L1932.2,823.3 L1936.2,822.8 L1940.2,822.4 L1944.2,821.9 L1948.2,821.5 L1952.2,821.1 L1956.2,820.7 L1960.2,820.3 L1964.3,819.9 L1968.3,819.5 L1972.3,819.1 L1976.3,818.8 L1980.3,818.4 L1984.3,818.1 L1988.3,817.7 L1992.3,817.4 L1996.4,817.1 L2000.4,816.8 L2004.4,816.5 L2008.4,816.2 L2012.4,815.9 L2016.5,815.6 L2020.5,815.3 L2024.5,815.1 L2028.5,814.8 L2032.5,814.6 L2036.6,814.3 L2040.6,814.1 L2044.6,813.8 L2048.6,813.6 L2052.6,813.4 L2056.7,813.1 L2060.7,812.9 L2064.7,812.7 L2068.7,812.5 L2072.8,812.3 L2076.8,812.2 L2080.8,812.0 L2084.8,811.9 L2088.9,811.7 L2092.9,811.6 L2096.9,811.5 L2100.9,811.3 L2105.0,811.2 L2109.0,811.1 L2113.0,810.9 L2117.1,810.8 L2121.1,810.7 L2125.1,810.6 L2129.1,810.5 L2133.2,810.4 L2137.2,810.3 L2141.2,810.2 L2145.3,810.1 L2149.3,810.1 L2153.3,810.0 L2157.3,810.0 L2161.4,810.0 L2165.4,810.0 L2169.4,810.0 L2173.5,810.0 L2177.5,810.0 L2181.5,810.0 L2185.5,810.1 L2189.6,810.1 L2193.6,810.1 L2197.6,810.1 L2201.7,810.2 L2205.7,810.2 L2209.7,810.2 L2213.7,810.3 L2217.8,810.3 L2221.8,810.3 L2225.8,810.4 L2229.9,810.4 L2233.9,810.5 L2237.9,810.5 L2241.9,810.5 L2246.0,810.6 L2250.0,810.7 L2254.0,810.7 L2258.1,810.8 L2262.1,810.9 L2266.1,810.9 L2270.1,811.0 L2274.2,811.1 L2278.2,811.2 L2282.2,811.3 L2286.3,811.4 L2290.3,811.5 L2294.3,811.6 L2298.3,811.8 L2302.4,811.9 L2306.4,812.0 L2310.4,812.1 L2314.4,812.2 L2318.5,812.4 L2322.5,812.5" stroke="#d470c6" stroke-dasharray="74,9,4,7.5,4,7.5,4,8"/>
<path d="M1560.2,1283.5 L1562.4,1280.1 L1564.6,1276.7 L1566.8,1273.3 L1569.0,1269.9 L1571.3,1266.6 L1573.6,1263.2 L1575.9,1259.9 L1578.2,1256.6 L1580.6,1253.4 L1583.0,1250.1 L1585.4,1246.9 L1587.8,1243.7 L1590.2,1240.5 L1592.7,1237.3 L1595.2,1234.1 L1597.7,1231.0 L1600.3,1227.9 L1602.9,1224.8 L1605.5,1221.7 L1608.2,1218.7 L1610.8,1215.6 L1613.5,1212.6 L1616.2,1209.6 L1618.9,1206.6 L1621.6,1203.6 L1624.2,1200.5 L1626.9,1197.5 L1629.6,1194.5 L1632.3,1191.5 L1635.0,1188.5 L1637.8,1185.6 L1640.5,1182.6 L1643.2,1179.6 L1646.0,1176.7 L1648.8,1173.8 L1651.6,1170.9 L1654.4,1168.0 L1657.2,1165.1 L1660.0,1162.2 L1662.9,1159.3 L1665.7,1156.5 L1668.6,1153.6 L1671.5,1150.8 L1674.4,1148.0 L1677.4,1145.3 L1680.3,1142.5 L1683.3,1139.8 L1686.3,1137.1 L1689.3,1134.4 L1692.3,1131.7 L1695.4,1129.1 L1698.4,1126.4 L1701.4,1123.8 L1704.5,1121.1 L1707.5,1118.5 L1710.6,1115.8 L1713.6,1113.2 L1716.7,1110.6 L1719.8,1108.0 L1722.9,1105.4 L1726.1,1102.9 L1729.2,1100.3 L1732.3,1097.8 L1735.5,1095.3 L1738.7,1092.8 L1741.8,1090.3 L1745.0,1087.8 L1748.3,1085.4 L1751.5,1083.0 L1754.8,1080.6 L1758.1,1078.3 L1761.4,1076.1 L1764.8,1073.9 L1768.2,1071.7 L1771.6,1069.6 L1775.1,1067.5 L1778.6,1065.4 L1782.0,1063.4 L1785.5,1061.3 L1789.0,1059.3 L1792.5,1057.3 L1796.0,1055.3 L1799.6,1053.3 L1803.1,1051.3 L1806.6,1049.4 L1810.2,1047.5 L1813.7,1045.6 L1817.3,1043.7 L1820.9,1041.9 L1824.6,1040.2 L1828.2,1038.5 L1831.9,1036.8 L1835.6,1035.2 L1839.3,1033.6 L1843.0,1032.1 L1846.8,1030.5 L1850.5,1029.0 L1854.3,1027.6 L1858.1,1026.2 L1861.9,1024.8 L1865.7,1023.5 L1869.5,1022.2 L1873.3,1021.0 L1877.2,1019.7 L1881.0,1018.5 L1884.9,1017.4 L1888.8,1016.2 L1892.6,1015.0 L1896.5,1013.9 L1900.4,1012.8 L1904.3,1011.6 L1908.1,1010.5 L1912.0,1009.3 L1915.9,1008.2 L1919.7,1007.0 L1923.6,1005.8 L1927.4,1004.5 L1931.3,1003.3 L1935.1,1002.0 L1939.0,1000.8 L1942.8,999.5 L1946.7,998.3 L1950.5,997.1 L1954.4,995.9 L1958.2,994.7 L1962.1,993.6 L1966.0,992.5 L1969.9,991.4 L1973.8,990.4 L1977.7,989.5 L1981.6,988.6 L1985.5,987.7 L1989.5,986.8 L1993.4,986.0 L1997.4,985.2 L2001.3,984.4 L2005.3,983.6 L2009.3,982.9 L2013.3,982.2 L2017.2,981.5 L2021.2,980.8 L2025.2,980.1 L2029.2,979.5 L2033.2,978.8 L2037.1,978.2 L2041.1,977.6 L2045.1,977.0 L2049.1,976.4 L2053.1,975.9 L2057.1,975.3 L2061.1,974.7 L2065.1,974.2 L2069.1,973.7 L2073.1,973.1 L2077.1,972.6 L2081.1,972.1 L2085.1,971.6 L2089.1,971.1 L2093.1,970.6 L2097.1,970.1 L2101.1,969.6 L2105.1,969.1 L2109.2,968.6 L2113.2,968.2 L2117.2,967.7 L2121.2,967.2 L2125.2,966.8 L2129.2,966.3 L2133.2,965.9 L2137.2,965.5 L2141.2,965.0 L2145.3,964.6 L2149.3,964.2 L2153.3,963.9 L2157.3,963.5 L2161.3,963.1 L2165.4,962.8 L2169.4,962.5 L2173.4,962.2 L2177.4,961.9 L2181.4,961.6 L2185.5,961.3 L2189.5,961.0 L2193.5,960.7 L2197.5,960.4 L2201.6,960.1 L2205.6,959.9 L2209.6,959.6 L2213.7,959.4 L2217.7,959.1 L2221.7,958.9 L2225.7,958.7 L2229.8,958.4 L2233.8,958.2 L2237.8,958.0 L2241.9,957.8 L2245.9,957.6 L2249.9,957.4 L2254.0,957.2 L2258.0,957.0 L2262.0,956.8 L2266.0,956.6 L2270.1,956.4 L2274.1,956.2 L2278.1,956.0 L2282.2,955.8 L2286.2,955.7 L2290.2,955.5 L2294.3,955.3 L2298.3,955.2 L2302.3,955.0 L2306.4,954.9 L2310.4,954.7 L2314.4,954.6 L2318.5,954.4 L2322.5,954.3" stroke="#008552" stroke-dasharray="29.6,15.2,29.6,15.2,3.8,5,3.8,7.8" stroke-dashoffset="-7"/>
<path d="M1846.0,1283.5 L1849.2,1281.0 L1852.4,1278.6 L1855.7,1276.1 L1858.9,1273.7 L1862.1,1271.3 L1865.4,1268.8 L1868.6,1266.4 L1871.9,1264.1 L1875.2,1261.7 L1878.4,1259.3 L1881.7,1256.9 L1885.0,1254.6 L1888.3,1252.3 L1891.6,1249.9 L1895.0,1247.6 L1898.3,1245.3 L1901.6,1243.1 L1905.0,1240.8 L1908.3,1238.5 L1911.7,1236.3 L1915.1,1234.0 L1918.5,1231.8 L1921.8,1229.6 L1925.2,1227.3 L1928.6,1225.1 L1932.0,1222.9 L1935.4,1220.7 L1938.8,1218.5 L1942.2,1216.3 L1945.6,1214.1 L1949.0,1211.9 L1952.4,1209.7 L1955.8,1207.5 L1959.2,1205.3 L1962.6,1203.1 L1966.0,1201.0 L1969.4,1198.8 L1972.9,1196.7 L1976.3,1194.5 L1979.8,1192.4 L1983.2,1190.3 L1986.7,1188.3 L1990.2,1186.2 L1993.7,1184.2 L1997.2,1182.2 L2000.7,1180.2 L2004.3,1178.2 L2007.8,1176.3 L2011.3,1174.3 L2014.9,1172.4 L2018.5,1170.5 L2022.0,1168.6 L2025.6,1166.6 L2029.2,1164.7 L2032.7,1162.8 L2036.3,1160.9 L2039.9,1159.0 L2043.4,1157.1 L2047.0,1155.2 L2050.6,1153.3 L2054.1,1151.3 L2057.7,1149.4 L2061.3,1147.5 L2064.9,1145.6 L2068.4,1143.8 L2072.0,1141.9 L2075.6,1140.0 L2079.2,1138.2 L2082.8,1136.3 L2086.4,1134.5 L2090.1,1132.7 L2093.7,1130.9 L2097.3,1129.2 L2101.0,1127.4 L2104.6,1125.6 L2108.3,1123.9 L2111.9,1122.2 L2115.6,1120.4 L2119.2,1118.7 L2122.9,1117.0 L2126.6,1115.3 L2130.3,1113.6 L2133.9,1111.9 L2137.6,1110.2 L2141.3,1108.5 L2144.9,1106.8 L2148.6,1105.1 L2152.3,1103.4 L2156.0,1101.7 L2159.7,1100.0 L2163.3,1098.4 L2167.0,1096.7 L2170.7,1095.0 L2174.4,1093.4 L2178.1,1091.8 L2181.8,1090.1 L2185.6,1088.5 L2189.3,1087.0 L2193.0,1085.4 L2196.7,1083.8 L2200.5,1082.3 L2204.2,1080.7 L2208.0,1079.2 L2211.7,1077.7 L2215.5,1076.2 L2219.2,1074.7 L2223.0,1073.2 L2226.8,1071.7 L2230.6,1070.3 L2234.3,1068.9 L2238.1,1067.4 L2241.9,1066.1 L2245.7,1064.7 L2249.5,1063.3 L2253.3,1061.9 L2257.1,1060.6 L2261.0,1059.2 L2264.8,1057.9 L2268.6,1056.5 L2272.4,1055.2 L2276.2,1053.9 L2280.1,1052.6 L2283.9,1051.3 L2287.7,1050.0 L2291.6,1048.7 L2295.4,1047.5 L2299.3,1046.2 L2303.1,1045.0 L2307.0,1043.8 L2310.9,1042.6 L2314.7,1041.4 L2318.6,1040.2 L2322.5,1039.0" stroke="#c8c8c8" stroke-dasharray="74,7.5,5,7.5"/>
<path d="M1718.0,1283.5 L1721.7,1281.8 L1725.3,1280.0 L1729.0,1278.3 L1732.7,1276.6 L1736.4,1275.0 L1740.1,1273.3 L1743.8,1271.7 L1747.5,1270.1 L1751.2,1268.5 L1754.9,1266.9 L1758.7,1265.4 L1762.4,1263.9 L1766.2,1262.4 L1770.0,1260.9 L1773.7,1259.4 L1777.5,1258.0 L1781.3,1256.5 L1785.1,1255.1 L1788.9,1253.7 L1792.7,1252.2 L1796.5,1250.8 L1800.3,1249.4 L1804.1,1248.0 L1807.9,1246.6 L1811.7,1245.2 L1815.5,1243.8 L1819.3,1242.5 L1823.1,1241.1 L1826.9,1239.8 L1830.7,1238.4 L1834.5,1237.1 L1838.4,1235.7 L1842.2,1234.3 L1846.0,1232.9 L1849.8,1231.5 L1853.6,1230.1 L1857.4,1228.7 L1861.2,1227.4 L1865.0,1226.0 L1868.8,1224.7 L1872.7,1223.4 L1876.5,1222.2 L1880.4,1221.0 L1884.2,1219.8 L1888.1,1218.6 L1892.0,1217.5 L1895.9,1216.4 L1899.8,1215.3 L1903.7,1214.2 L1907.6,1213.1 L1911.5,1212.0 L1915.4,1211.0 L1919.3,1209.9 L1923.3,1208.9 L1927.2,1207.9 L1931.1,1206.8 L1935.0,1205.8 L1938.9,1204.8 L1942.8,1203.7 L1946.7,1202.7 L1950.7,1201.7 L1954.6,1200.7 L1958.5,1199.6 L1962.4,1198.6 L1966.4,1197.7 L1970.3,1196.7 L1974.2,1195.7 L1978.2,1194.8 L1982.1,1193.8 L1986.0,1192.9 L1990.0,1192.1 L1993.9,1191.2 L1997.9,1190.3 L2001.9,1189.4 L2005.8,1188.6 L2009.8,1187.8 L2013.7,1186.9 L2017.7,1186.1 L2021.7,1185.3 L2025.6,1184.5 L2029.6,1183.7 L2033.6,1182.9 L2037.6,1182.1 L2041.5,1181.4 L2045.5,1180.6 L2049.5,1179.9 L2053.5,1179.2 L2057.5,1178.5 L2061.5,1177.8 L2065.4,1177.1 L2069.4,1176.4 L2073.4,1175.8 L2077.4,1175.1 L2081.4,1174.5 L2085.4,1173.9 L2089.4,1173.2 L2093.4,1172.6 L2097.4,1172.0 L2101.4,1171.5 L2105.5,1170.9 L2109.5,1170.3 L2113.5,1169.7 L2117.5,1169.1 L2121.5,1168.6 L2125.5,1168.0 L2129.5,1167.4 L2133.5,1166.9 L2137.5,1166.3 L2141.5,1165.8 L2145.5,1165.2 L2149.6,1164.6 L2153.6,1164.1 L2157.6,1163.5 L2161.6,1162.9 L2165.6,1162.4 L2169.6,1161.8 L2173.6,1161.3 L2177.6,1160.8 L2181.7,1160.2 L2185.7,1159.7 L2189.7,1159.2 L2193.7,1158.6 L2197.7,1158.1 L2201.7,1157.6 L2205.7,1157.1 L2209.8,1156.6 L2213.8,1156.2 L2217.8,1155.7 L2221.8,1155.2 L2225.8,1154.7 L2229.9,1154.3 L2233.9,1153.8 L2237.9,1153.4 L2241.9,1152.9 L2246.0,1152.4 L2250.0,1152.0 L2254.0,1151.6 L2258.0,1151.1 L2262.1,1150.7 L2266.1,1150.2 L2270.1,1149.8 L2274.1,1149.4 L2278.2,1149.0 L2282.2,1148.6 L2286.2,1148.2 L2290.2,1147.8 L2294.3,1147.4 L2298.3,1147.0 L2302.3,1146.6 L2306.4,1146.2 L2310.4,1145.8 L2314.4,1145.4 L2318.5,1145.1 L2322.5,1144.7" stroke="#909090" stroke-dasharray="74,7.5,5,7.5"/>
<path d="M1321.5,1128.0 L1324.8,1130.4 L1328.1,1132.7 L1331.4,1135.1 L1334.8,1137.4 L1338.1,1139.7 L1341.5,1141.9 L1344.9,1144.1 L1348.3,1146.3 L1351.7,1148.5 L1355.2,1150.6 L1358.6,1152.7 L1362.1,1154.8 L1365.6,1156.8 L1369.1,1158.8 L1372.6,1160.8 L1376.2,1162.8 L1379.7,1164.7 L1383.3,1166.6 L1386.9,1168.5 L1390.5,1170.4 L1394.2,1172.2 L1397.8,1173.9 L1401.4,1175.7 L1405.1,1177.4 L1408.8,1179.1 L1412.5,1180.7 L1416.2,1182.3 L1419.9,1184.0 L1423.6,1185.5 L1427.4,1187.1 L1431.1,1188.6 L1434.9,1190.2 L1438.7,1191.7 L1442.4,1193.2 L1446.2,1194.7 L1449.9,1196.2 L1453.7,1197.7 L1457.5,1199.2 L1461.2,1200.7 L1465.0,1202.2 L1468.8,1203.7 L1472.6,1205.1 L1476.4,1206.6 L1480.2,1208.0 L1484.0,1209.4 L1487.8,1210.8 L1491.6,1212.1 L1495.4,1213.4 L1499.3,1214.7 L1503.1,1216.0 L1507.0,1217.2 L1510.8,1218.4 L1514.7,1219.6 L1518.6,1220.7 L1522.5,1221.8 L1526.4,1223.0 L1530.3,1224.1 L1534.2,1225.2 L1538.1,1226.3 L1542.0,1227.5 L1545.8,1228.7 L1549.7,1229.9 L1553.5,1231.2 L1557.4,1232.4 L1561.2,1233.7 L1565.1,1235.0 L1568.9,1236.3 L1572.7,1237.6 L1576.6,1239.0 L1580.4,1240.3 L1584.2,1241.7 L1588.0,1243.1 L1591.8,1244.5 L1595.6,1245.9 L1599.4,1247.3 L1603.2,1248.7 L1607.0,1250.2 L1610.7,1251.7 L1614.5,1253.2 L1618.2,1254.8 L1622.0,1256.3 L1625.7,1257.8 L1629.5,1259.4 L1633.3,1260.9 L1637.0,1262.3 L1640.8,1263.8 L1644.6,1265.2 L1648.4,1266.6 L1652.2,1268.0 L1656.0,1269.3 L1659.9,1270.7 L1663.7,1272.1 L1667.5,1273.5 L1671.3,1274.9 L1675.1,1276.3 L1678.9,1277.7 L1682.7,1279.1 L1686.4,1280.6 L1690.2,1282.0 L1694.0,1283.5" stroke="#ff2a00" stroke-dasharray="30.4,14.05"/>
<path d="M1568.0,1283.5 L1570.9,1280.6 L1573.8,1277.8 L1576.7,1275.0 L1579.7,1272.2 L1582.8,1269.6 L1585.9,1267.0 L1589.0,1264.5 L1592.2,1262.0 L1595.4,1259.6 L1598.6,1257.2 L1601.9,1255.0 L1605.2,1252.8 L1608.6,1250.7 L1612.1,1248.6 L1615.6,1246.6 L1619.2,1244.6 L1622.7,1242.7 L1626.3,1240.8 L1629.8,1238.9 L1633.4,1237.0 L1636.9,1235.1 L1640.5,1233.2 L1644.1,1231.4 L1647.7,1229.6 L1651.3,1227.8 L1655.0,1226.1 L1658.6,1224.3 L1662.2,1222.6 L1665.9,1220.9 L1669.5,1219.2 L1673.2,1217.5 L1676.9,1215.8 L1680.5,1214.1 L1684.2,1212.4 L1687.9,1210.8 L1691.6,1209.2 L1695.4,1207.6 L1699.1,1206.1 L1702.8,1204.6 L1706.6,1203.2 L1710.4,1201.9 L1714.2,1200.7 L1718.0,1199.5 L1721.9,1198.3 L1725.8,1197.2 L1729.7,1196.1 L1733.6,1195.1 L1737.5,1194.1 L1741.4,1193.2 L1745.4,1192.4 L1749.3,1191.6 L1753.3,1190.9 L1757.2,1190.2 L1761.2,1189.6 L1765.2,1188.9 L1769.2,1188.3 L1773.2,1187.7 L1777.2,1187.1 L1781.2,1186.6 L1785.2,1186.1 L1789.2,1185.7 L1793.2,1185.4 L1797.2,1185.1 L1801.3,1184.9 L1805.3,1184.8 L1809.3,1184.6 L1813.3,1184.5 L1817.3,1184.3 L1821.4,1184.2 L1825.4,1184.1 L1829.4,1184.1 L1833.5,1184.0 L1837.5,1184.0 L1841.5,1184.0 L1845.6,1184.1 L1849.6,1184.1 L1853.6,1184.2 L1857.7,1184.3 L1861.7,1184.5 L1865.7,1184.6 L1869.7,1184.8 L1873.7,1185.1 L1877.7,1185.5 L1881.7,1185.9 L1885.7,1186.4 L1889.7,1186.9 L1893.8,1187.4 L1897.8,1187.9 L1901.8,1188.5 L1905.7,1189.0 L1909.7,1189.6 L1913.7,1190.1 L1917.7,1190.6 L1921.7,1191.2 L1925.7,1191.7 L1929.7,1192.3 L1933.7,1192.9 L1937.7,1193.5 L1941.7,1194.1 L1945.6,1194.7 L1949.6,1195.3 L1953.6,1196.0 L1957.6,1196.6 L1961.6,1197.3 L1965.5,1197.9 L1969.5,1198.6 L1973.5,1199.2 L1977.4,1199.9 L1981.4,1200.6 L1985.4,1201.3 L1989.3,1202.0 L1993.3,1202.7 L1997.3,1203.4 L2001.2,1204.2 L2005.2,1204.9 L2009.2,1205.6 L2013.1,1206.3 L2017.1,1207.0 L2021.1,1207.7 L2025.1,1208.4 L2029.0,1209.1 L2033.0,1209.7 L2037.0,1210.4 L2040.9,1211.1 L2044.9,1211.8 L2048.9,1212.5 L2052.8,1213.2 L2056.8,1213.9 L2060.8,1214.6 L2064.7,1215.3 L2068.7,1216.0 L2072.7,1216.7 L2076.6,1217.4 L2080.6,1218.2 L2084.6,1218.9 L2088.5,1219.6 L2092.5,1220.3 L2096.5,1221.1 L2100.4,1221.8 L2104.4,1222.6 L2108.3,1223.3 L2112.3,1224.1 L2116.2,1224.8 L2120.2,1225.6 L2124.2,1226.3 L2128.1,1227.1 L2132.1,1227.9 L2136.0,1228.6 L2140.0,1229.4 L2143.9,1230.1 L2147.9,1230.9 L2151.9,1231.7 L2155.8,1232.4 L2159.8,1233.1 L2163.7,1233.9 L2167.7,1234.6 L2171.7,1235.4 L2175.6,1236.1 L2179.6,1236.8 L2183.5,1237.6 L2187.5,1238.3 L2191.5,1239.1 L2195.4,1239.8 L2199.4,1240.5 L2203.3,1241.3 L2207.3,1242.0 L2211.3,1242.7 L2215.2,1243.4 L2219.2,1244.2 L2223.2,1244.9 L2227.1,1245.6 L2231.1,1246.3 L2235.1,1247.0 L2239.0,1247.7 L2243.0,1248.4 L2247.0,1249.1 L2250.9,1249.7 L2254.9,1250.4 L2258.9,1251.1 L2262.9,1251.8 L2266.8,1252.4 L2270.8,1253.1 L2274.8,1253.8 L2278.7,1254.4 L2282.7,1255.1 L2286.7,1255.8 L2290.7,1256.4 L2294.6,1257.1 L2298.6,1257.7 L2302.6,1258.3 L2306.6,1259.0 L2310.6,1259.6 L2314.5,1260.2 L2318.5,1260.9 L2322.5,1261.5" stroke="#000" stroke-dasharray="74,7.5,5,7.5"/>
</g>
<g fill="#000" shape-rendering="crispEdges">
<rect x="317.0" y="50.0" width="2009.0" height="7.0"/>
<rect x="317.0" y="665.0" width="2009.0" height="7.0"/>
<rect x="317.0" y="1280.0" width="2009.0" height="7.0"/>
<rect x="317.0" y="50.0" width="7.0" height="1237.0"/>
<rect x="1318.0" y="50.0" width="7.0" height="1237.0"/>
<rect x="2319.0" y="50.0" width="7.0" height="1237.0"/>
</g>
<text x="174.5" y="84.4" class="t" transform="matrix(1,0,0,1.03,0,-2.53)">1.00</text>
<text x="166.4" y="305.8" class="t" transform="matrix(1,0,0,1.03,0,-9.17)">0.10</text>
<text x="166.4" y="527.2" class="t" transform="matrix(1,0,0,1.03,0,-15.82)">0.01</text>
<text x="174.5" y="699.4" class="t" transform="matrix(1,0,0,1.03,0,-20.98)">1.00</text>
<text x="166.4" y="920.8" class="t" transform="matrix(1,0,0,1.03,0,-27.62)">0.10</text>
<text x="166.4" y="1142.2" class="t" transform="matrix(1,0,0,1.03,0,-34.27)">0.01</text>
<text x="404.9" y="1395.2" class="t" text-anchor="middle" transform="matrix(1,0,0,1.03,0,-41.86)">1.0</text>
<text x="563.0" y="1395.2" class="t" text-anchor="middle" transform="matrix(1,0,0,1.03,0,-41.86)">2.0</text>
<text x="725.9" y="1395.2" class="t" text-anchor="middle" transform="matrix(1,0,0,1.03,0,-41.86)">3.0</text>
<text x="885.9" y="1395.2" class="t" text-anchor="middle" transform="matrix(1,0,0,1.03,0,-41.86)">4.0</text>
<text x="1047.3" y="1395.2" class="t" text-anchor="middle" transform="matrix(1,0,0,1.03,0,-41.86)">5.0</text>
<text x="1208.8" y="1395.2" class="t" text-anchor="middle" transform="matrix(1,0,0,1.03,0,-41.86)">6.0</text>
<text x="1405.9" y="1395.2" class="t" text-anchor="middle" transform="matrix(1,0,0,1.03,0,-41.86)">1.0</text>
<text x="1564.0" y="1395.2" class="t" text-anchor="middle" transform="matrix(1,0,0,1.03,0,-41.86)">2.0</text>
<text x="1726.9" y="1395.2" class="t" text-anchor="middle" transform="matrix(1,0,0,1.03,0,-41.86)">3.0</text>
<text x="1886.9" y="1395.2" class="t" text-anchor="middle" transform="matrix(1,0,0,1.03,0,-41.86)">4.0</text>
<text x="2048.3" y="1395.2" class="t" text-anchor="middle" transform="matrix(1,0,0,1.03,0,-41.86)">5.0</text>
<text x="2209.8" y="1395.2" class="t" text-anchor="middle" transform="matrix(1,0,0,1.03,0,-41.86)">6.0</text>
<text x="1020" y="147.5" class="t" transform="matrix(1,0,0,1.03,0,-4.43)">T <tspan x="1076.8" dy="5.3" style="stroke-width:2.2px">=</tspan> <tspan x="1130.5" dy="-5.3">10</tspan></text>
<text x="2022" y="147.5" class="t" transform="matrix(1,0,0,1.03,0,-4.43)">T <tspan x="2078.8" dy="5.3" style="stroke-width:2.2px">=</tspan> <tspan x="2132.5" dy="-5.3">20</tspan></text>
<text x="1020" y="762.5" class="t" transform="matrix(1,0,0,1.03,0,-22.88)">T <tspan x="1076.8" dy="5.3" style="stroke-width:2.2px">=</tspan> <tspan x="1130.5" dy="-5.3">30</tspan></text>
<text x="2022" y="762.5" class="t" transform="matrix(1,0,0,1.03,0,-22.88)">T<tspan x="2062.3" dy="5.3" style="stroke-width:2.2px">=</tspan> <tspan x="2116.0" dy="-5.3">40</tspan></text>
<text x="520" y="97.8" class="t bi">n</text>
<text y="221.5" class="t bi"><tspan x="519.5">p</tspan><tspan x="557">, </tspan><tspan x="601">e</tspan></text>
<text x="520" y="387" style="font-size:72px;stroke-width:0.7px">ν<tspan x="552.5" dy="19" style="font-size:50px;stroke-width:0.5px" textLength="24.9" lengthAdjust="spacingAndGlyphs">e</tspan></text>
<text x="490" y="620" class="t" textLength="45.5" lengthAdjust="spacingAndGlyphs">Λ</text>
<text y="609" class="t"><tspan x="768.7" style="stroke-width:1.9px" textLength="45.0" lengthAdjust="spacingAndGlyphs">Ξ</tspan><tspan x="813.4" dy="-21.3" textLength="46.7" lengthAdjust="spacingAndGlyphs">−</tspan></text>
<text y="609" class="t"><tspan x="1168.7" style="stroke-width:1.9px" textLength="45.0" lengthAdjust="spacingAndGlyphs">Ξ</tspan><tspan x="1213" dy="-31.5" class="s">0</tspan></text>
<text x="1517" y="1173.75" style="font-size:70px" textLength="45.0" lengthAdjust="spacingAndGlyphs">μ</text>
<text y="1161.5" class="t"><tspan x="1820.2" textLength="41.9" lengthAdjust="spacingAndGlyphs">Σ</tspan><tspan x="1862.6" dy="-19.3" textLength="46.7" lengthAdjust="spacingAndGlyphs">−</tspan></text>
<text y="1144" class="t"><tspan x="2170.2" textLength="41.9" lengthAdjust="spacingAndGlyphs">Σ</tspan><tspan x="2211" dy="-31.5" class="s">0</tspan></text>
<text y="1224" class="t"><tspan x="2170.2" textLength="41.9" lengthAdjust="spacingAndGlyphs">Σ</tspan><tspan x="2209" dy="-26" style="font-size:55px">+</tspan></text>
<text x="1224" y="1542" class="t">n<tspan class="s" dy="19">B</tspan><tspan dy="-19">/n</tspan><tspan class="s" dy="19">sat</tspan></text>
<text transform="translate(90,748) rotate(-90)" class="t">n<tspan class="s" dy="19">i</tspan><tspan dy="-19">/n</tspan><tspan class="s" dy="19">B</tspan></text>
</svg></body></html>
